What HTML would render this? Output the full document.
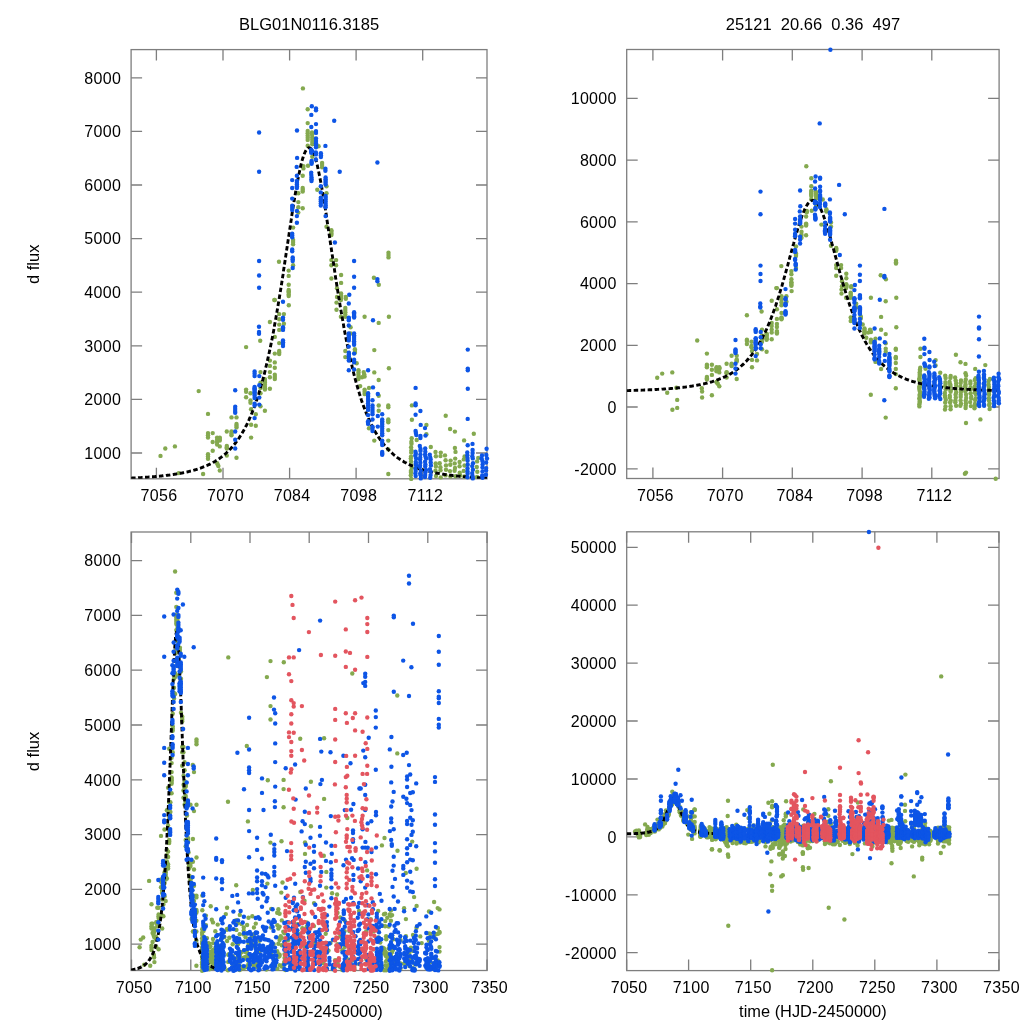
<!DOCTYPE html><html><head><meta charset="utf-8"><style>html,body{margin:0;padding:0;background:#fff;}svg{display:block;will-change:transform}circle{r:2.2px}</style></head><body>
<svg width="1024" height="1024" viewBox="0 0 1024 1024" font-family="'Liberation Sans', Arial, sans-serif">
<rect width="1024" height="1024" fill="#fff"/>
<clipPath id="c1"><rect x="131.1" y="49.6" width="355.9" height="429.2"/></clipPath>
<clipPath id="c2"><rect x="626.7" y="49.5" width="372.4" height="429.0"/></clipPath>
<clipPath id="c3"><rect x="131.1" y="532.0" width="356.0" height="438.5"/></clipPath>
<clipPath id="c4"><rect x="626.7" y="531.8" width="372.29999999999995" height="438.80000000000007"/></clipPath>
<path d="M156.4 478.8V467.8M156.4 49.6V60.6M223 478.8V467.8M223 49.6V60.6M289.6 478.8V467.8M289.6 49.6V60.6M356.1 478.8V467.8M356.1 49.6V60.6M422.7 478.8V467.8M422.7 49.6V60.6M131.1 453H142.1M487 453H476M131.1 399.4H142.1M487 399.4H476M131.1 345.8H142.1M487 345.8H476M131.1 292.2H142.1M487 292.2H476M131.1 238.6H142.1M487 238.6H476M131.1 185H142.1M487 185H476M131.1 131.4H142.1M487 131.4H476M131.1 77.8H142.1M487 77.8H476" stroke="#7e7e7e" stroke-width="1.3" fill="none"/>
<rect x="131.1" y="49.6" width="355.9" height="429.2" fill="none" stroke="#7e7e7e" stroke-width="1.3"/>
<g fill="#84a94f"><circle cx="307.7" cy="109.2"/><circle cx="307.7" cy="123.1"/><circle cx="307.7" cy="130.9"/><circle cx="307.7" cy="135.6"/><circle cx="307.7" cy="139.9"/><circle cx="307.7" cy="145.8"/><circle cx="312.0" cy="132.5"/><circle cx="312.3" cy="137.2"/><circle cx="312.3" cy="144.2"/><circle cx="318.6" cy="146.2"/><circle cx="312.3" cy="156.7"/><circle cx="322.1" cy="163.0"/><circle cx="322.1" cy="167.3"/><circle cx="308.0" cy="165.7"/><circle cx="303.4" cy="166.1"/><circle cx="303.4" cy="168.4"/><circle cx="411.9" cy="405.4"/><circle cx="411.9" cy="419.8"/><circle cx="426.4" cy="425.0"/><circle cx="426.4" cy="434.3"/><circle cx="416.7" cy="440.0"/><circle cx="445.7" cy="415.8"/><circle cx="450.1" cy="429.0"/><circle cx="454.9" cy="431.6"/><circle cx="473.8" cy="433.8"/><circle cx="464.1" cy="440.4"/><circle cx="430.8" cy="447.0"/><circle cx="478.2" cy="458.0"/><circle cx="454.9" cy="447.9"/><circle cx="302.9" cy="88.4"/><circle cx="298.3" cy="193.3"/><circle cx="298.3" cy="202.1"/><circle cx="298.3" cy="207.3"/><circle cx="298.3" cy="212.6"/><circle cx="302.7" cy="188.0"/><circle cx="302.7" cy="191.5"/><circle cx="302.7" cy="208.2"/><circle cx="302.7" cy="175.7"/><circle cx="293.1" cy="227.6"/><circle cx="293.1" cy="239.9"/><circle cx="293.1" cy="244.3"/><circle cx="293.1" cy="265.3"/><circle cx="279.0" cy="261.8"/><circle cx="288.7" cy="270.6"/><circle cx="288.7" cy="275.9"/><circle cx="288.7" cy="284.7"/><circle cx="288.7" cy="290.0"/><circle cx="288.7" cy="292.6"/><circle cx="288.7" cy="296.1"/><circle cx="274.3" cy="300.0"/><circle cx="317.3" cy="189.8"/><circle cx="326.5" cy="186.2"/><circle cx="326.5" cy="193.3"/><circle cx="326.5" cy="226.7"/><circle cx="331.4" cy="230.2"/><circle cx="331.4" cy="235.1"/><circle cx="331.4" cy="260.1"/><circle cx="336.1" cy="260.1"/><circle cx="331.4" cy="265.3"/><circle cx="336.1" cy="265.3"/><circle cx="331.4" cy="278.5"/><circle cx="341.1" cy="275.0"/><circle cx="341.1" cy="282.9"/><circle cx="341.1" cy="293.5"/><circle cx="341.1" cy="297.0"/><circle cx="337.0" cy="288.2"/><circle cx="337.0" cy="297.0"/><circle cx="345.8" cy="297.0"/><circle cx="345.8" cy="298.7"/><circle cx="373.9" cy="277.7"/><circle cx="378.8" cy="284.7"/><circle cx="388.5" cy="252.7"/><circle cx="388.5" cy="257.4"/><circle cx="160.5" cy="455.9"/><circle cx="165.3" cy="448.5"/><circle cx="174.9" cy="446.4"/><circle cx="198.7" cy="391.1"/><circle cx="208.0" cy="413.9"/><circle cx="203.1" cy="474.0"/><circle cx="178.8" cy="473.1"/><circle cx="208.0" cy="433.1"/><circle cx="212.7" cy="433.1"/><circle cx="208.0" cy="437.6"/><circle cx="212.7" cy="442.0"/><circle cx="208.0" cy="454.3"/><circle cx="208.0" cy="458.7"/><circle cx="212.7" cy="450.8"/><circle cx="217.1" cy="437.6"/><circle cx="219.8" cy="437.6"/><circle cx="217.1" cy="442.0"/><circle cx="219.8" cy="440.6"/><circle cx="217.1" cy="444.5"/><circle cx="219.8" cy="446.4"/><circle cx="217.1" cy="463.1"/><circle cx="218.4" cy="466.1"/><circle cx="219.8" cy="470.5"/><circle cx="226.8" cy="431.5"/><circle cx="226.8" cy="445.9"/><circle cx="226.8" cy="448.5"/><circle cx="226.8" cy="455.6"/><circle cx="231.5" cy="417.4"/><circle cx="236.5" cy="417.4"/><circle cx="231.5" cy="431.5"/><circle cx="231.5" cy="435.3"/><circle cx="236.5" cy="423.9"/><circle cx="236.5" cy="427.4"/><circle cx="236.5" cy="457.8"/><circle cx="246.1" cy="347.1"/><circle cx="246.1" cy="389.6"/><circle cx="246.1" cy="391.8"/><circle cx="246.1" cy="397.2"/><circle cx="250.5" cy="393.2"/><circle cx="250.5" cy="400.5"/><circle cx="250.5" cy="402.8"/><circle cx="251.1" cy="424.8"/><circle cx="251.1" cy="437.6"/><circle cx="255.8" cy="425.7"/><circle cx="255.8" cy="414.3"/><circle cx="251.1" cy="409.3"/><circle cx="260.5" cy="372.1"/><circle cx="260.5" cy="382.6"/><circle cx="260.5" cy="387.9"/><circle cx="260.5" cy="393.2"/><circle cx="260.5" cy="406.3"/><circle cx="264.9" cy="410.7"/><circle cx="264.9" cy="387.0"/><circle cx="264.9" cy="389.6"/><circle cx="264.9" cy="382.6"/><circle cx="264.9" cy="379.1"/><circle cx="269.9" cy="388.8"/><circle cx="260.2" cy="340.8"/><circle cx="269.9" cy="322.0"/><circle cx="269.9" cy="360.6"/><circle cx="269.9" cy="365.9"/><circle cx="269.9" cy="372.1"/><circle cx="269.9" cy="377.3"/><circle cx="274.8" cy="336.9"/><circle cx="274.8" cy="353.6"/><circle cx="274.8" cy="362.4"/><circle cx="274.8" cy="367.7"/><circle cx="274.8" cy="374.7"/><circle cx="274.8" cy="379.1"/><circle cx="279.2" cy="351.0"/><circle cx="279.2" cy="354.1"/><circle cx="279.2" cy="343.1"/><circle cx="279.2" cy="314.1"/><circle cx="279.2" cy="319.3"/><circle cx="279.2" cy="324.6"/><circle cx="279.2" cy="329.9"/><circle cx="283.9" cy="314.1"/><circle cx="283.9" cy="323.7"/><circle cx="288.8" cy="305.3"/><circle cx="274.8" cy="300.0"/><circle cx="336.5" cy="302.6"/><circle cx="336.5" cy="309.7"/><circle cx="340.9" cy="300.0"/><circle cx="340.9" cy="316.7"/><circle cx="345.3" cy="307.9"/><circle cx="345.3" cy="312.3"/><circle cx="345.3" cy="316.7"/><circle cx="345.3" cy="351.0"/><circle cx="345.3" cy="357.1"/><circle cx="350.6" cy="327.2"/><circle cx="350.6" cy="333.4"/><circle cx="354.9" cy="349.2"/><circle cx="354.9" cy="352.7"/><circle cx="356.7" cy="363.3"/><circle cx="364.6" cy="316.7"/><circle cx="374.3" cy="350.1"/><circle cx="378.7" cy="322.9"/><circle cx="388.9" cy="316.7"/><circle cx="388.9" cy="368.2"/><circle cx="374.3" cy="372.4"/><circle cx="378.7" cy="380.0"/><circle cx="358.5" cy="370.3"/><circle cx="358.5" cy="374.7"/><circle cx="358.5" cy="379.1"/><circle cx="362.0" cy="377.3"/><circle cx="363.7" cy="372.1"/><circle cx="364.6" cy="376.5"/><circle cx="360.2" cy="386.1"/><circle cx="364.6" cy="389.6"/><circle cx="364.6" cy="394.0"/><circle cx="369.0" cy="387.9"/><circle cx="369.0" cy="428.3"/><circle cx="378.7" cy="395.8"/><circle cx="378.7" cy="405.5"/><circle cx="378.7" cy="410.7"/><circle cx="388.3" cy="405.5"/><circle cx="388.3" cy="407.2"/><circle cx="388.3" cy="419.5"/><circle cx="388.3" cy="422.2"/><circle cx="388.3" cy="430.1"/><circle cx="388.3" cy="440.6"/><circle cx="388.3" cy="449.4"/><circle cx="374.3" cy="440.6"/><circle cx="388.3" cy="474.0"/><circle cx="307.7" cy="133.3"/><circle cx="307.7" cy="137.8"/><circle cx="312.1" cy="134.8"/><circle cx="312.3" cy="139.5"/><circle cx="312.3" cy="141.9"/><circle cx="322.1" cy="165.1"/><circle cx="302.7" cy="189.8"/><circle cx="293.1" cy="242.1"/><circle cx="288.7" cy="291.3"/><circle cx="288.7" cy="294.4"/><circle cx="331.4" cy="231.8"/><circle cx="331.4" cy="233.5"/><circle cx="341.1" cy="295.2"/><circle cx="341.0" cy="298.5"/><circle cx="388.5" cy="255.1"/><circle cx="208.0" cy="435.3"/><circle cx="208.0" cy="456.5"/><circle cx="217.1" cy="439.8"/><circle cx="219.8" cy="439.1"/><circle cx="217.7" cy="464.6"/><circle cx="226.8" cy="447.2"/><circle cx="231.5" cy="433.4"/><circle cx="236.5" cy="425.7"/><circle cx="264.9" cy="388.3"/><circle cx="264.9" cy="384.8"/><circle cx="264.9" cy="380.9"/><circle cx="274.8" cy="376.9"/><circle cx="279.2" cy="352.6"/><circle cx="345.3" cy="310.1"/><circle cx="345.3" cy="314.5"/><circle cx="354.9" cy="351.0"/><circle cx="358.5" cy="372.5"/><circle cx="358.5" cy="376.9"/><circle cx="364.2" cy="374.3"/><circle cx="364.6" cy="391.8"/><circle cx="388.3" cy="420.8"/><circle cx="411.2" cy="478.9"/><circle cx="410.8" cy="475.3"/><circle cx="411.0" cy="472.6"/><circle cx="410.9" cy="470.9"/><circle cx="411.7" cy="467.7"/><circle cx="411.4" cy="465.1"/><circle cx="411.1" cy="461.4"/><circle cx="410.8" cy="458.6"/><circle cx="411.0" cy="456.6"/><circle cx="411.2" cy="452.6"/><circle cx="411.4" cy="450.3"/><circle cx="411.1" cy="447.2"/><circle cx="411.5" cy="443.7"/><circle cx="411.4" cy="441.7"/><circle cx="411.7" cy="438.3"/><circle cx="436.0" cy="476.0"/><circle cx="435.5" cy="470.7"/><circle cx="435.9" cy="466.5"/><circle cx="435.7" cy="463.4"/><circle cx="435.9" cy="456.3"/><circle cx="435.5" cy="452.0"/><circle cx="440.7" cy="477.4"/><circle cx="440.5" cy="470.3"/><circle cx="440.4" cy="467.3"/><circle cx="439.7" cy="463.2"/><circle cx="440.5" cy="456.1"/><circle cx="440.8" cy="452.6"/><circle cx="445.5" cy="475.4"/><circle cx="446.0" cy="469.8"/><circle cx="446.0" cy="465.4"/><circle cx="445.6" cy="460.3"/><circle cx="445.0" cy="455.4"/><circle cx="450.4" cy="476.4"/><circle cx="450.0" cy="471.1"/><circle cx="450.3" cy="464.8"/><circle cx="450.6" cy="460.6"/><circle cx="455.5" cy="476.2"/><circle cx="454.6" cy="470.7"/><circle cx="455.0" cy="468.0"/><circle cx="454.7" cy="463.4"/><circle cx="455.2" cy="458.6"/><circle cx="455.5" cy="451.9"/><circle cx="460.2" cy="475.5"/><circle cx="459.7" cy="472.8"/><circle cx="459.6" cy="466.3"/><circle cx="459.6" cy="462.0"/><circle cx="464.4" cy="476.5"/><circle cx="463.7" cy="470.9"/><circle cx="464.5" cy="465.5"/><circle cx="463.8" cy="459.4"/><circle cx="464.6" cy="456.5"/><circle cx="477.1" cy="476.9"/><circle cx="477.3" cy="471.7"/><circle cx="476.8" cy="467.0"/><circle cx="477.1" cy="461.4"/></g>
<path clip-path="url(#c1)" d="M131.1 478.1L131.7 478.1L132.3 478.0L132.9 478.0L133.5 478.0L134.1 478.0L134.7 477.9L135.3 477.9L135.8 477.9L136.4 477.8L137.0 477.8L137.6 477.8L138.2 477.7L138.8 477.7L139.4 477.7L140.0 477.6L140.6 477.6L141.2 477.6L141.8 477.5L142.4 477.5L143.0 477.5L143.6 477.4L144.1 477.4L144.7 477.3L145.3 477.3L145.9 477.3L146.5 477.2L147.1 477.2L147.7 477.1L148.3 477.1L148.9 477.0L149.5 477.0L150.1 477.0L150.7 476.9L151.3 476.9L151.9 476.8L152.5 476.8L153.0 476.7L153.6 476.7L154.2 476.6L154.8 476.6L155.4 476.5L156.0 476.5L156.6 476.4L157.2 476.4L157.8 476.3L158.4 476.2L159.0 476.2L159.6 476.1L160.2 476.1L160.8 476.0L161.4 476.0L161.9 475.9L162.5 475.8L163.1 475.8L163.7 475.7L164.3 475.6L164.9 475.6L165.5 475.5L166.1 475.4L166.7 475.4L167.3 475.3L167.9 475.2L168.5 475.1L169.1 475.1L169.7 475.0L170.2 474.9L170.8 474.8L171.4 474.7L172.0 474.6L172.6 474.6L173.2 474.5L173.8 474.4L174.4 474.3L175.0 474.2L175.6 474.1L176.2 474.0L176.8 473.9L177.4 473.8L178.0 473.7L178.6 473.6L179.1 473.5L179.7 473.4L180.3 473.3L180.9 473.2L181.5 473.1L182.1 473.0L182.7 472.9L183.3 472.7L183.9 472.6L184.5 472.5L185.1 472.4L185.7 472.2L186.3 472.1L186.9 472.0L187.5 471.8L188.0 471.7L188.6 471.6L189.2 471.4L189.8 471.3L190.4 471.1L191.0 471.0L191.6 470.8L192.2 470.7L192.8 470.5L193.4 470.3L194.0 470.2L194.6 470.0L195.2 469.8L195.8 469.6L196.3 469.5L196.9 469.3L197.5 469.1L198.1 468.9L198.7 468.7L199.3 468.5L199.9 468.3L200.5 468.1L201.1 467.9L201.7 467.7L202.3 467.4L202.9 467.2L203.5 467.0L204.1 466.7L204.7 466.5L205.2 466.3L205.8 466.0L206.4 465.7L207.0 465.5L207.6 465.2L208.2 464.9L208.8 464.7L209.4 464.4L210.0 464.1L210.6 463.8L211.2 463.5L211.8 463.2L212.4 462.9L213.0 462.5L213.6 462.2L214.1 461.9L214.7 461.5L215.3 461.2L215.9 460.8L216.5 460.4L217.1 460.1L217.7 459.7L218.3 459.3L218.9 458.9L219.5 458.5L220.1 458.0L220.7 457.6L221.3 457.2L221.9 456.7L222.4 456.3L223.0 455.8L223.6 455.3L224.2 454.8L224.8 454.3L225.4 453.8L226.0 453.3L226.6 452.7L227.2 452.2L227.8 451.6L228.4 451.0L229.0 450.5L229.6 449.8L230.2 449.2L230.8 448.6L231.3 448.0L231.9 447.3L232.5 446.6L233.1 445.9L233.7 445.2L234.3 444.5L234.9 443.7L235.5 443.0L236.1 442.2L236.7 441.4L237.3 440.6L237.9 439.8L238.5 438.9L239.1 438.0L239.6 437.1L240.2 436.2L240.8 435.3L241.4 434.3L242.0 433.3L242.6 432.3L243.2 431.3L243.8 430.2L244.4 429.2L245.0 428.1L245.6 426.9L246.2 425.8L246.8 424.6L247.4 423.4L248.0 422.1L248.5 420.9L249.1 419.6L249.7 418.2L250.3 416.9L250.9 415.5L251.5 414.0L252.1 412.6L252.7 411.1L253.3 409.5L253.9 408.0L254.5 406.4L255.1 404.7L255.7 403.1L256.3 401.3L256.9 399.6L257.4 397.8L258.0 395.9L258.6 394.1L259.2 392.1L259.8 390.2L260.4 388.2L261.0 386.1L261.6 384.0L262.2 381.8L262.8 379.7L263.4 377.4L264.0 375.1L264.6 372.8L265.2 370.4L265.7 367.9L266.3 365.5L266.9 362.9L267.5 360.3L268.1 357.7L268.7 355.0L269.3 352.2L269.9 349.4L270.5 346.6L271.1 343.6L271.7 340.7L272.3 337.7L272.9 334.6L273.5 331.5L274.1 328.3L274.6 325.1L275.2 321.8L275.8 318.4L276.4 315.0L277.0 311.6L277.6 308.1L278.2 304.6L278.8 301.0L279.4 297.4L280.0 293.7L280.6 290.0L281.2 286.2L281.8 282.4L282.4 278.6L283.0 274.8L283.5 270.9L284.1 267.0L284.7 263.0L285.3 259.1L285.9 255.1L286.5 251.1L287.1 247.1L287.7 243.1L288.3 239.1L288.9 235.1L289.5 231.1L290.1 227.2L290.7 223.2L291.3 219.3L291.8 215.4L292.4 211.6L293.0 207.8L293.6 204.1L294.2 200.4L294.8 196.8L295.4 193.3L296.0 189.8L296.6 186.4L297.2 183.2L297.8 180.0L298.4 176.9L299.0 174.0L299.6 171.2L300.2 168.5L300.7 165.9L301.3 163.5L301.9 161.3L302.5 159.2L303.1 157.3L303.7 155.5L304.3 153.9L304.9 152.5L305.5 151.2L306.1 150.2L306.7 149.3L307.3 148.6L307.9 148.1L308.5 147.8L309.0 147.7L309.6 147.8L310.2 148.1L310.8 148.5L311.4 149.2L312.0 150.1L312.6 151.1L313.2 152.3L313.8 153.7L314.4 155.3L315.0 157.1L315.6 159.0L316.2 161.1L316.8 163.3L317.4 165.7L317.9 168.2L318.5 170.9L319.1 173.7L319.7 176.6L320.3 179.7L320.9 182.8L321.5 186.1L322.1 189.4L322.7 192.9L323.3 196.4L323.9 200.0L324.5 203.7L325.1 207.4L325.7 211.2L326.3 215.0L326.8 218.9L327.4 222.8L328.0 226.8L328.6 230.7L329.2 234.7L329.8 238.7L330.4 242.7L331.0 246.7L331.6 250.7L332.2 254.7L332.8 258.6L333.4 262.6L334.0 266.5L334.6 270.5L335.1 274.4L335.7 278.2L336.3 282.0L336.9 285.8L337.5 289.6L338.1 293.3L338.7 297.0L339.3 300.6L339.9 304.2L340.5 307.8L341.1 311.2L341.7 314.7L342.3 318.1L342.9 321.4L343.5 324.7L344.0 328.0L344.6 331.1L345.2 334.3L345.8 337.3L346.4 340.4L347.0 343.3L347.6 346.3L348.2 349.1L348.8 351.9L349.4 354.7L350.0 357.4L350.6 360.1L351.2 362.6L351.8 365.2L352.4 367.7L352.9 370.1L353.5 372.5L354.1 374.9L354.7 377.2L355.3 379.4L355.9 381.6L356.5 383.8L357.1 385.9L357.7 387.9L358.3 390.0L358.9 391.9L359.5 393.9L360.1 395.7L360.7 397.6L361.2 399.4L361.8 401.2L362.4 402.9L363.0 404.6L363.6 406.2L364.2 407.8L364.8 409.4L365.4 410.9L366.0 412.4L366.6 413.9L367.2 415.3L367.8 416.7L368.4 418.1L369.0 419.4L369.6 420.7L370.1 422.0L370.7 423.2L371.3 424.5L371.9 425.7L372.5 426.8L373.1 427.9L373.7 429.1L374.3 430.1L374.9 431.2L375.5 432.2L376.1 433.2L376.7 434.2L377.3 435.2L377.9 436.1L378.5 437.0L379.0 437.9L379.6 438.8L380.2 439.7L380.8 440.5L381.4 441.3L382.0 442.1L382.6 442.9L383.2 443.7L383.8 444.4L384.4 445.1L385.0 445.8L385.6 446.5L386.2 447.2L386.8 447.9L387.3 448.5L387.9 449.2L388.5 449.8L389.1 450.4L389.7 451.0L390.3 451.6L390.9 452.1L391.5 452.7L392.1 453.2L392.7 453.7L393.3 454.3L393.9 454.8L394.5 455.3L395.1 455.7L395.7 456.2L396.2 456.7L396.8 457.1L397.4 457.6L398.0 458.0L398.6 458.4L399.2 458.8L399.8 459.2L400.4 459.6L401.0 460.0L401.6 460.4L402.2 460.8L402.8 461.1L403.4 461.5L404.0 461.8L404.5 462.2L405.1 462.5L405.7 462.8L406.3 463.1L406.9 463.5L407.5 463.8L408.1 464.1L408.7 464.3L409.3 464.6L409.9 464.9L410.5 465.2L411.1 465.5L411.7 465.7L412.3 466.0L412.9 466.2L413.4 466.5L414.0 466.7L414.6 467.0L415.2 467.2L415.8 467.4L416.4 467.6L417.0 467.8L417.6 468.1L418.2 468.3L418.8 468.5L419.4 468.7L420.0 468.9L420.6 469.1L421.2 469.3L421.8 469.4L422.3 469.6L422.9 469.8L423.5 470.0L424.1 470.1L424.7 470.3L425.3 470.5L425.9 470.6L426.5 470.8L427.1 471.0L427.7 471.1L428.3 471.3L428.9 471.4L429.5 471.5L430.1 471.7L430.6 471.8L431.2 472.0L431.8 472.1L432.4 472.2L433.0 472.4L433.6 472.5L434.2 472.6L434.8 472.7L435.4 472.8L436.0 473.0L436.6 473.1L437.2 473.2L437.8 473.3L438.4 473.4L439.0 473.5L439.5 473.6L440.1 473.7L440.7 473.8L441.3 473.9L441.9 474.0L442.5 474.1L443.1 474.2L443.7 474.3L444.3 474.4L444.9 474.5L445.5 474.6L446.1 474.6L446.7 474.7L447.3 474.8L447.9 474.9L448.4 475.0L449.0 475.0L449.6 475.1L450.2 475.2L450.8 475.3L451.4 475.3L452.0 475.4L452.6 475.5L453.2 475.6L453.8 475.6L454.4 475.7L455.0 475.8L455.6 475.8L456.2 475.9L456.7 475.9L457.3 476.0L457.9 476.1L458.5 476.1L459.1 476.2L459.7 476.2L460.3 476.3L460.9 476.4L461.5 476.4L462.1 476.5L462.7 476.5L463.3 476.6L463.9 476.6L464.5 476.7L465.1 476.7L465.6 476.8L466.2 476.8L466.8 476.9L467.4 476.9L468.0 477.0L468.6 477.0L469.2 477.0L469.8 477.1L470.4 477.1L471.0 477.2L471.6 477.2L472.2 477.3L472.8 477.3L473.4 477.3L474.0 477.4L474.5 477.4L475.1 477.4L475.7 477.5L476.3 477.5L476.9 477.6L477.5 477.6L478.1 477.6L478.7 477.7L479.3 477.7L479.9 477.7L480.5 477.8L481.1 477.8L481.7 477.8L482.3 477.9L482.8 477.9L483.4 477.9L484.0 477.9L484.6 478.0L485.2 478.0L485.8 478.0L486.4 478.1L487.0 478.1" stroke="#000" stroke-width="2.9" stroke-dasharray="4.5 2.5" fill="none"/>
<g fill="#0d55e6"><circle cx="311.8" cy="106.2"/><circle cx="316.0" cy="108.4"/><circle cx="316.0" cy="110.2"/><circle cx="311.3" cy="114.9"/><circle cx="316.0" cy="124.1"/><circle cx="311.3" cy="127.0"/><circle cx="316.0" cy="131.1"/><circle cx="316.0" cy="132.9"/><circle cx="316.0" cy="138.5"/><circle cx="316.0" cy="143.3"/><circle cx="316.0" cy="147.2"/><circle cx="297.0" cy="130.5"/><circle cx="325.4" cy="145.9"/><circle cx="334.2" cy="120.8"/><circle cx="311.2" cy="149.7"/><circle cx="311.2" cy="152.8"/><circle cx="312.3" cy="151.2"/><circle cx="315.9" cy="152.4"/><circle cx="315.9" cy="154.4"/><circle cx="320.9" cy="153.2"/><circle cx="320.9" cy="157.1"/><circle cx="315.9" cy="159.5"/><circle cx="311.6" cy="161.0"/><circle cx="311.6" cy="163.8"/><circle cx="297.1" cy="157.9"/><circle cx="296.7" cy="166.9"/><circle cx="311.2" cy="172.7"/><circle cx="325.4" cy="168.8"/><circle cx="325.4" cy="170.8"/><circle cx="415.6" cy="403.5"/><circle cx="415.6" cy="405.3"/><circle cx="420.4" cy="411.0"/><circle cx="415.6" cy="414.8"/><circle cx="420.7" cy="424.9"/><circle cx="425.0" cy="428.1"/><circle cx="415.6" cy="430.9"/><circle cx="416.3" cy="435.1"/><circle cx="420.4" cy="436.0"/><circle cx="420.4" cy="438.0"/><circle cx="425.5" cy="435.6"/><circle cx="467.7" cy="418.9"/><circle cx="467.7" cy="445.3"/><circle cx="472.5" cy="443.9"/><circle cx="486.6" cy="448.8"/><circle cx="259.1" cy="132.5"/><circle cx="259.1" cy="171.8"/><circle cx="259.1" cy="261.0"/><circle cx="259.1" cy="275.5"/><circle cx="259.1" cy="287.7"/><circle cx="296.9" cy="175.7"/><circle cx="296.9" cy="181.0"/><circle cx="296.9" cy="184.5"/><circle cx="296.9" cy="188.0"/><circle cx="292.2" cy="180.1"/><circle cx="292.2" cy="188.0"/><circle cx="292.2" cy="198.6"/><circle cx="292.2" cy="205.6"/><circle cx="292.2" cy="210.0"/><circle cx="296.9" cy="210.9"/><circle cx="296.9" cy="216.1"/><circle cx="296.9" cy="222.8"/><circle cx="292.2" cy="233.7"/><circle cx="292.2" cy="237.2"/><circle cx="292.2" cy="249.5"/><circle cx="292.2" cy="251.3"/><circle cx="292.7" cy="257.4"/><circle cx="292.7" cy="261.0"/><circle cx="292.7" cy="268.0"/><circle cx="311.5" cy="177.5"/><circle cx="311.5" cy="181.0"/><circle cx="325.6" cy="177.5"/><circle cx="325.6" cy="181.0"/><circle cx="325.6" cy="184.5"/><circle cx="320.8" cy="186.2"/><circle cx="320.8" cy="192.4"/><circle cx="320.8" cy="197.7"/><circle cx="320.8" cy="201.2"/><circle cx="320.8" cy="205.6"/><circle cx="325.6" cy="195.9"/><circle cx="325.6" cy="199.4"/><circle cx="325.6" cy="203.8"/><circle cx="325.6" cy="207.3"/><circle cx="325.6" cy="216.1"/><circle cx="339.7" cy="171.8"/><circle cx="377.4" cy="162.5"/><circle cx="334.9" cy="242.5"/><circle cx="354.1" cy="261.0"/><circle cx="354.1" cy="276.8"/><circle cx="354.1" cy="287.7"/><circle cx="349.3" cy="294.7"/><circle cx="377.4" cy="279.1"/><circle cx="377.4" cy="281.2"/><circle cx="235.2" cy="390.2"/><circle cx="235.2" cy="406.7"/><circle cx="235.2" cy="411.1"/><circle cx="235.2" cy="412.8"/><circle cx="235.2" cy="431.5"/><circle cx="235.2" cy="439.7"/><circle cx="235.2" cy="448.5"/><circle cx="254.6" cy="371.5"/><circle cx="254.6" cy="376.1"/><circle cx="254.6" cy="387.0"/><circle cx="254.6" cy="389.6"/><circle cx="254.6" cy="392.3"/><circle cx="254.6" cy="395.8"/><circle cx="254.6" cy="398.1"/><circle cx="254.6" cy="403.7"/><circle cx="254.6" cy="405.5"/><circle cx="254.6" cy="418.1"/><circle cx="259.3" cy="376.1"/><circle cx="259.3" cy="385.3"/><circle cx="259.3" cy="397.6"/><circle cx="259.3" cy="404.6"/><circle cx="259.0" cy="326.7"/><circle cx="259.0" cy="332.0"/><circle cx="259.0" cy="333.7"/><circle cx="283.0" cy="301.8"/><circle cx="283.0" cy="317.6"/><circle cx="283.0" cy="319.7"/><circle cx="283.0" cy="327.2"/><circle cx="283.0" cy="329.9"/><circle cx="283.0" cy="340.4"/><circle cx="283.0" cy="343.9"/><circle cx="283.0" cy="346.1"/><circle cx="348.8" cy="303.5"/><circle cx="348.8" cy="317.6"/><circle cx="348.8" cy="320.2"/><circle cx="348.8" cy="325.5"/><circle cx="354.1" cy="312.3"/><circle cx="354.1" cy="314.9"/><circle cx="354.1" cy="317.6"/><circle cx="348.8" cy="333.4"/><circle cx="348.8" cy="336.9"/><circle cx="348.8" cy="340.4"/><circle cx="348.8" cy="346.6"/><circle cx="348.8" cy="352.7"/><circle cx="348.8" cy="356.2"/><circle cx="348.8" cy="360.6"/><circle cx="348.8" cy="370.3"/><circle cx="354.1" cy="333.4"/><circle cx="354.1" cy="336.9"/><circle cx="354.1" cy="341.3"/><circle cx="354.1" cy="344.8"/><circle cx="354.1" cy="353.6"/><circle cx="354.1" cy="359.8"/><circle cx="354.1" cy="362.4"/><circle cx="354.1" cy="369.4"/><circle cx="373.0" cy="320.2"/><circle cx="368.1" cy="370.3"/><circle cx="368.1" cy="393.2"/><circle cx="368.1" cy="396.7"/><circle cx="368.1" cy="401.1"/><circle cx="368.1" cy="405.5"/><circle cx="368.1" cy="409.9"/><circle cx="368.1" cy="415.1"/><circle cx="368.1" cy="421.3"/><circle cx="368.1" cy="423.9"/><circle cx="372.5" cy="400.2"/><circle cx="372.5" cy="405.5"/><circle cx="372.5" cy="409.9"/><circle cx="372.5" cy="414.3"/><circle cx="372.5" cy="419.5"/><circle cx="372.5" cy="426.6"/><circle cx="372.5" cy="431.0"/><circle cx="377.8" cy="394.0"/><circle cx="377.8" cy="416.0"/><circle cx="377.8" cy="426.6"/><circle cx="373.0" cy="387.4"/><circle cx="382.2" cy="414.3"/><circle cx="382.2" cy="419.5"/><circle cx="382.2" cy="423.0"/><circle cx="382.2" cy="426.6"/><circle cx="382.2" cy="431.0"/><circle cx="382.2" cy="435.3"/><circle cx="382.2" cy="440.6"/><circle cx="382.2" cy="445.0"/><circle cx="382.2" cy="452.0"/><circle cx="382.2" cy="454.7"/><circle cx="415.6" cy="387.9"/><circle cx="467.8" cy="349.6"/><circle cx="467.8" cy="368.6"/><circle cx="467.8" cy="370.3"/><circle cx="467.8" cy="388.8"/><circle cx="316.0" cy="140.9"/><circle cx="316.0" cy="145.2"/><circle cx="311.2" cy="151.2"/><circle cx="320.9" cy="155.2"/><circle cx="311.6" cy="162.4"/><circle cx="311.3" cy="175.1"/><circle cx="415.9" cy="433.0"/><circle cx="296.9" cy="182.7"/><circle cx="296.9" cy="186.2"/><circle cx="292.2" cy="207.8"/><circle cx="292.2" cy="235.5"/><circle cx="292.7" cy="259.2"/><circle cx="311.5" cy="179.2"/><circle cx="325.6" cy="179.2"/><circle cx="325.6" cy="182.7"/><circle cx="320.8" cy="199.4"/><circle cx="320.8" cy="203.4"/><circle cx="325.6" cy="197.7"/><circle cx="325.6" cy="201.6"/><circle cx="325.6" cy="205.6"/><circle cx="235.2" cy="408.9"/><circle cx="254.6" cy="373.8"/><circle cx="254.6" cy="388.3"/><circle cx="254.6" cy="391.0"/><circle cx="254.6" cy="394.0"/><circle cx="283.0" cy="328.6"/><circle cx="283.0" cy="342.2"/><circle cx="348.8" cy="318.9"/><circle cx="354.1" cy="313.6"/><circle cx="354.1" cy="316.3"/><circle cx="348.8" cy="335.2"/><circle cx="348.8" cy="338.7"/><circle cx="348.8" cy="354.5"/><circle cx="348.8" cy="358.4"/><circle cx="354.1" cy="335.2"/><circle cx="354.1" cy="339.1"/><circle cx="354.1" cy="343.1"/><circle cx="354.1" cy="361.1"/><circle cx="368.1" cy="394.9"/><circle cx="368.1" cy="398.9"/><circle cx="368.1" cy="403.3"/><circle cx="368.1" cy="407.7"/><circle cx="368.1" cy="422.6"/><circle cx="372.5" cy="407.7"/><circle cx="372.5" cy="412.1"/><circle cx="372.5" cy="428.8"/><circle cx="382.2" cy="421.3"/><circle cx="382.2" cy="424.8"/><circle cx="382.2" cy="428.8"/><circle cx="382.2" cy="433.2"/><circle cx="382.2" cy="442.8"/><circle cx="382.2" cy="453.4"/><circle cx="415.7" cy="476.1"/><circle cx="415.4" cy="473.4"/><circle cx="415.7" cy="471.1"/><circle cx="415.5" cy="468.8"/><circle cx="416.1" cy="465.8"/><circle cx="415.8" cy="463.8"/><circle cx="415.8" cy="461.9"/><circle cx="416.1" cy="458.5"/><circle cx="415.3" cy="455.7"/><circle cx="415.8" cy="453.8"/><circle cx="415.5" cy="451.8"/><circle cx="420.8" cy="478.4"/><circle cx="420.7" cy="475.3"/><circle cx="420.2" cy="473.5"/><circle cx="420.8" cy="470.6"/><circle cx="419.9" cy="467.0"/><circle cx="420.0" cy="465.6"/><circle cx="420.3" cy="462.8"/><circle cx="420.1" cy="459.6"/><circle cx="420.2" cy="457.8"/><circle cx="420.4" cy="454.6"/><circle cx="420.5" cy="450.9"/><circle cx="420.5" cy="449.0"/><circle cx="419.8" cy="446.0"/><circle cx="425.0" cy="477.0"/><circle cx="425.2" cy="475.0"/><circle cx="425.4" cy="472.3"/><circle cx="426.0" cy="469.9"/><circle cx="425.2" cy="466.5"/><circle cx="425.4" cy="464.5"/><circle cx="425.1" cy="461.8"/><circle cx="426.1" cy="458.5"/><circle cx="425.5" cy="456.6"/><circle cx="425.1" cy="454.6"/><circle cx="425.3" cy="451.7"/><circle cx="425.2" cy="448.4"/><circle cx="430.2" cy="477.8"/><circle cx="430.6" cy="475.1"/><circle cx="430.6" cy="471.6"/><circle cx="430.0" cy="469.1"/><circle cx="430.9" cy="465.4"/><circle cx="430.7" cy="462.4"/><circle cx="430.6" cy="459.6"/><circle cx="430.3" cy="457.8"/><circle cx="429.8" cy="454.7"/><circle cx="467.5" cy="477.3"/><circle cx="467.6" cy="473.7"/><circle cx="467.5" cy="471.4"/><circle cx="467.5" cy="468.4"/><circle cx="467.7" cy="464.7"/><circle cx="467.6" cy="460.8"/><circle cx="467.5" cy="458.1"/><circle cx="467.3" cy="455.3"/><circle cx="467.3" cy="452.4"/><circle cx="472.8" cy="478.4"/><circle cx="472.5" cy="475.7"/><circle cx="472.2" cy="473.1"/><circle cx="472.9" cy="469.8"/><circle cx="472.2" cy="466.1"/><circle cx="473.0" cy="463.2"/><circle cx="472.8" cy="458.4"/><circle cx="472.3" cy="456.3"/><circle cx="472.6" cy="453.0"/><circle cx="472.6" cy="450.0"/><circle cx="482.5" cy="477.7"/><circle cx="482.2" cy="475.5"/><circle cx="482.5" cy="471.4"/><circle cx="482.5" cy="467.5"/><circle cx="482.6" cy="464.6"/><circle cx="482.4" cy="461.0"/><circle cx="481.6" cy="458.6"/><circle cx="482.0" cy="455.4"/><circle cx="485.9" cy="474.7"/><circle cx="486.1" cy="470.5"/><circle cx="486.2" cy="468.1"/><circle cx="486.1" cy="462.5"/><circle cx="487.0" cy="458.5"/><circle cx="486.3" cy="455.0"/></g>
<text x="159" y="501.1" font-size="16" letter-spacing="0.3" text-anchor="middle">7056</text>
<text x="225.5" y="501.1" font-size="16" letter-spacing="0.3" text-anchor="middle">7070</text>
<text x="292.1" y="501.1" font-size="16" letter-spacing="0.3" text-anchor="middle">7084</text>
<text x="358.7" y="501.1" font-size="16" letter-spacing="0.3" text-anchor="middle">7098</text>
<text x="425.3" y="501.1" font-size="16" letter-spacing="0.3" text-anchor="middle">7112</text>
<text x="121.1" y="458.8" font-size="16" letter-spacing="0.3" text-anchor="end">1000</text>
<text x="121.1" y="405.2" font-size="16" letter-spacing="0.3" text-anchor="end">2000</text>
<text x="121.1" y="351.6" font-size="16" letter-spacing="0.3" text-anchor="end">3000</text>
<text x="121.1" y="298" font-size="16" letter-spacing="0.3" text-anchor="end">4000</text>
<text x="121.1" y="244.4" font-size="16" letter-spacing="0.3" text-anchor="end">5000</text>
<text x="121.1" y="190.8" font-size="16" letter-spacing="0.3" text-anchor="end">6000</text>
<text x="121.1" y="137.2" font-size="16" letter-spacing="0.3" text-anchor="end">7000</text>
<text x="121.1" y="83.6" font-size="16" letter-spacing="0.3" text-anchor="end">8000</text>
<path d="M652.9 478.5V467.5M652.9 49.5V60.5M722.6 478.5V467.5M722.6 49.5V60.5M792.3 478.5V467.5M792.3 49.5V60.5M862.1 478.5V467.5M862.1 49.5V60.5M931.8 478.5V467.5M931.8 49.5V60.5M626.7 468.8H637.7M999.1 468.8H988.1M626.7 407H637.7M999.1 407H988.1M626.7 345.3H637.7M999.1 345.3H988.1M626.7 283.6H637.7M999.1 283.6H988.1M626.7 221.8H637.7M999.1 221.8H988.1M626.7 160.1H637.7M999.1 160.1H988.1M626.7 98.4H637.7M999.1 98.4H988.1" stroke="#7e7e7e" stroke-width="1.3" fill="none"/>
<rect x="626.7" y="49.5" width="372.4" height="429" fill="none" stroke="#7e7e7e" stroke-width="1.3"/>
<g fill="#84a94f"><circle cx="811.3" cy="178.2"/><circle cx="811.3" cy="186.2"/><circle cx="811.3" cy="190.7"/><circle cx="811.3" cy="193.4"/><circle cx="811.3" cy="195.9"/><circle cx="811.3" cy="199.3"/><circle cx="815.8" cy="191.6"/><circle cx="816.2" cy="194.3"/><circle cx="816.2" cy="198.4"/><circle cx="822.8" cy="199.5"/><circle cx="816.2" cy="205.6"/><circle cx="826.4" cy="209.2"/><circle cx="826.4" cy="211.6"/><circle cx="811.7" cy="210.7"/><circle cx="806.8" cy="211.0"/><circle cx="806.8" cy="212.3"/><circle cx="920.4" cy="348.8"/><circle cx="920.4" cy="357.0"/><circle cx="935.6" cy="360.1"/><circle cx="935.6" cy="365.4"/><circle cx="925.5" cy="368.7"/><circle cx="955.9" cy="354.8"/><circle cx="960.5" cy="362.3"/><circle cx="965.5" cy="363.9"/><circle cx="985.3" cy="365.1"/><circle cx="975.2" cy="368.9"/><circle cx="940.2" cy="372.7"/><circle cx="989.9" cy="379.0"/><circle cx="965.5" cy="373.2"/><circle cx="806.3" cy="166.2"/><circle cx="801.5" cy="226.6"/><circle cx="801.5" cy="231.7"/><circle cx="801.5" cy="234.7"/><circle cx="801.5" cy="237.7"/><circle cx="806.1" cy="223.6"/><circle cx="806.1" cy="225.6"/><circle cx="806.1" cy="235.2"/><circle cx="806.1" cy="216.5"/><circle cx="796.0" cy="246.4"/><circle cx="796.0" cy="253.4"/><circle cx="796.0" cy="256.0"/><circle cx="796.0" cy="268.1"/><circle cx="781.3" cy="266.1"/><circle cx="791.4" cy="271.1"/><circle cx="791.4" cy="274.2"/><circle cx="791.4" cy="279.2"/><circle cx="791.4" cy="282.3"/><circle cx="791.4" cy="285.8"/><circle cx="776.3" cy="288.1"/><circle cx="821.4" cy="224.6"/><circle cx="831.0" cy="222.6"/><circle cx="831.0" cy="226.6"/><circle cx="831.0" cy="245.8"/><circle cx="836.2" cy="247.9"/><circle cx="836.2" cy="250.7"/><circle cx="836.2" cy="265.1"/><circle cx="841.1" cy="265.1"/><circle cx="836.2" cy="268.1"/><circle cx="841.1" cy="268.1"/><circle cx="836.2" cy="275.7"/><circle cx="846.3" cy="273.7"/><circle cx="846.3" cy="278.2"/><circle cx="846.3" cy="284.3"/><circle cx="846.3" cy="286.3"/><circle cx="842.0" cy="281.3"/><circle cx="842.0" cy="286.3"/><circle cx="851.2" cy="286.3"/><circle cx="851.2" cy="287.3"/><circle cx="880.7" cy="275.2"/><circle cx="885.9" cy="279.2"/><circle cx="896.0" cy="260.8"/><circle cx="896.0" cy="263.6"/><circle cx="657.2" cy="377.8"/><circle cx="662.2" cy="373.6"/><circle cx="672.3" cy="372.4"/><circle cx="697.2" cy="340.5"/><circle cx="706.9" cy="353.6"/><circle cx="701.8" cy="388.3"/><circle cx="676.4" cy="387.8"/><circle cx="706.9" cy="364.7"/><circle cx="711.9" cy="364.7"/><circle cx="706.9" cy="367.3"/><circle cx="711.9" cy="369.8"/><circle cx="706.9" cy="376.9"/><circle cx="706.9" cy="379.5"/><circle cx="711.9" cy="374.9"/><circle cx="716.5" cy="367.3"/><circle cx="719.3" cy="367.3"/><circle cx="716.5" cy="369.8"/><circle cx="719.3" cy="369.0"/><circle cx="716.5" cy="371.3"/><circle cx="719.3" cy="372.4"/><circle cx="716.5" cy="382.0"/><circle cx="717.8" cy="383.7"/><circle cx="719.3" cy="386.2"/><circle cx="726.6" cy="363.8"/><circle cx="726.6" cy="372.1"/><circle cx="726.6" cy="373.6"/><circle cx="726.6" cy="377.6"/><circle cx="731.6" cy="355.7"/><circle cx="736.7" cy="355.7"/><circle cx="731.6" cy="363.8"/><circle cx="731.6" cy="366.0"/><circle cx="736.7" cy="359.4"/><circle cx="736.7" cy="361.4"/><circle cx="736.7" cy="379.0"/><circle cx="746.9" cy="315.2"/><circle cx="746.9" cy="339.7"/><circle cx="746.9" cy="340.9"/><circle cx="746.9" cy="344.0"/><circle cx="751.5" cy="341.7"/><circle cx="751.5" cy="346.0"/><circle cx="751.5" cy="347.3"/><circle cx="752.0" cy="359.9"/><circle cx="752.0" cy="367.3"/><circle cx="757.0" cy="360.4"/><circle cx="757.0" cy="353.9"/><circle cx="752.0" cy="351.0"/><circle cx="762.0" cy="329.6"/><circle cx="762.0" cy="335.6"/><circle cx="762.0" cy="338.7"/><circle cx="762.0" cy="341.7"/><circle cx="762.0" cy="349.3"/><circle cx="766.6" cy="351.8"/><circle cx="766.6" cy="338.2"/><circle cx="766.6" cy="339.7"/><circle cx="766.6" cy="335.6"/><circle cx="766.6" cy="333.6"/><circle cx="771.7" cy="339.2"/><circle cx="761.6" cy="311.5"/><circle cx="771.7" cy="300.7"/><circle cx="771.7" cy="323.0"/><circle cx="771.7" cy="326.0"/><circle cx="771.7" cy="329.6"/><circle cx="771.7" cy="332.6"/><circle cx="776.9" cy="309.3"/><circle cx="776.9" cy="318.9"/><circle cx="776.9" cy="324.0"/><circle cx="776.9" cy="327.0"/><circle cx="776.9" cy="331.1"/><circle cx="776.9" cy="333.6"/><circle cx="781.5" cy="317.4"/><circle cx="781.5" cy="319.2"/><circle cx="781.5" cy="312.9"/><circle cx="781.5" cy="296.2"/><circle cx="781.5" cy="299.2"/><circle cx="781.5" cy="302.2"/><circle cx="781.5" cy="305.3"/><circle cx="786.4" cy="296.2"/><circle cx="786.4" cy="301.7"/><circle cx="791.6" cy="291.1"/><circle cx="776.9" cy="288.1"/><circle cx="841.5" cy="289.6"/><circle cx="841.5" cy="293.6"/><circle cx="846.1" cy="288.1"/><circle cx="846.1" cy="297.7"/><circle cx="850.7" cy="292.6"/><circle cx="850.7" cy="295.1"/><circle cx="850.7" cy="297.7"/><circle cx="850.7" cy="317.4"/><circle cx="850.7" cy="321.0"/><circle cx="856.2" cy="303.8"/><circle cx="856.2" cy="307.3"/><circle cx="860.8" cy="316.4"/><circle cx="860.8" cy="318.4"/><circle cx="862.7" cy="324.5"/><circle cx="870.9" cy="297.7"/><circle cx="881.1" cy="316.9"/><circle cx="885.7" cy="301.2"/><circle cx="896.3" cy="297.7"/><circle cx="896.3" cy="327.3"/><circle cx="881.1" cy="329.8"/><circle cx="885.7" cy="334.1"/><circle cx="864.5" cy="328.5"/><circle cx="864.5" cy="331.1"/><circle cx="864.5" cy="333.6"/><circle cx="868.2" cy="332.6"/><circle cx="870.0" cy="329.6"/><circle cx="870.9" cy="332.1"/><circle cx="866.3" cy="337.7"/><circle cx="870.9" cy="339.7"/><circle cx="870.9" cy="342.2"/><circle cx="875.5" cy="338.7"/><circle cx="875.5" cy="361.9"/><circle cx="885.7" cy="343.2"/><circle cx="885.7" cy="348.8"/><circle cx="885.7" cy="351.8"/><circle cx="895.8" cy="348.8"/><circle cx="895.8" cy="349.8"/><circle cx="895.8" cy="356.9"/><circle cx="895.8" cy="358.4"/><circle cx="895.8" cy="363.0"/><circle cx="895.8" cy="369.0"/><circle cx="895.8" cy="374.1"/><circle cx="881.1" cy="369.0"/><circle cx="895.8" cy="388.3"/><circle cx="811.3" cy="192.1"/><circle cx="811.3" cy="194.7"/><circle cx="816.0" cy="193.0"/><circle cx="816.2" cy="195.7"/><circle cx="816.2" cy="197.0"/><circle cx="826.4" cy="210.4"/><circle cx="806.1" cy="224.6"/><circle cx="796.0" cy="254.7"/><circle cx="791.4" cy="283.0"/><circle cx="791.4" cy="284.8"/><circle cx="836.2" cy="248.8"/><circle cx="836.2" cy="249.8"/><circle cx="846.3" cy="285.3"/><circle cx="846.2" cy="287.2"/><circle cx="896.0" cy="262.2"/><circle cx="706.9" cy="366.0"/><circle cx="706.9" cy="378.2"/><circle cx="716.5" cy="368.6"/><circle cx="719.3" cy="368.2"/><circle cx="717.1" cy="382.8"/><circle cx="726.6" cy="372.8"/><circle cx="731.6" cy="364.9"/><circle cx="736.7" cy="360.4"/><circle cx="766.6" cy="338.9"/><circle cx="766.6" cy="336.9"/><circle cx="766.6" cy="334.6"/><circle cx="776.9" cy="332.3"/><circle cx="781.5" cy="318.3"/><circle cx="850.7" cy="293.9"/><circle cx="850.7" cy="296.4"/><circle cx="860.8" cy="317.4"/><circle cx="864.5" cy="329.8"/><circle cx="864.5" cy="332.3"/><circle cx="870.5" cy="330.8"/><circle cx="870.9" cy="340.9"/><circle cx="895.8" cy="357.6"/><circle cx="667.2" cy="392.8"/><circle cx="677.2" cy="399.9"/><circle cx="672.4" cy="409.7"/><circle cx="677.2" cy="407.9"/><circle cx="702.1" cy="391.5"/><circle cx="702.1" cy="397.5"/><circle cx="711.9" cy="395.3"/><circle cx="870.8" cy="394.8"/><circle cx="885.7" cy="417.6"/><circle cx="966.0" cy="423.0"/><circle cx="980.4" cy="419.4"/><circle cx="966.0" cy="472.6"/><circle cx="995.7" cy="478.7"/><circle cx="919.4" cy="406.4"/><circle cx="919.3" cy="404.4"/><circle cx="919.7" cy="402.8"/><circle cx="919.8" cy="401.6"/><circle cx="919.7" cy="400.0"/><circle cx="919.3" cy="398.3"/><circle cx="920.2" cy="396.2"/><circle cx="919.5" cy="394.9"/><circle cx="920.4" cy="392.7"/><circle cx="919.7" cy="391.1"/><circle cx="919.3" cy="389.0"/><circle cx="919.6" cy="387.4"/><circle cx="919.4" cy="386.5"/><circle cx="920.2" cy="384.6"/><circle cx="919.9" cy="383.1"/><circle cx="919.7" cy="381.0"/><circle cx="919.3" cy="379.4"/><circle cx="919.5" cy="378.2"/><circle cx="919.7" cy="375.9"/><circle cx="919.9" cy="374.6"/><circle cx="919.6" cy="372.8"/><circle cx="920.1" cy="370.8"/><circle cx="919.9" cy="369.7"/><circle cx="920.3" cy="367.7"/><circle cx="945.0" cy="409.5"/><circle cx="945.5" cy="406.4"/><circle cx="945.2" cy="402.5"/><circle cx="945.8" cy="399.8"/><circle cx="945.1" cy="397.1"/><circle cx="944.9" cy="395.6"/><circle cx="944.9" cy="392.9"/><circle cx="945.7" cy="389.4"/><circle cx="945.2" cy="386.3"/><circle cx="945.6" cy="383.9"/><circle cx="945.4" cy="382.1"/><circle cx="945.6" cy="378.0"/><circle cx="945.2" cy="375.6"/><circle cx="950.6" cy="409.3"/><circle cx="950.6" cy="406.3"/><circle cx="950.1" cy="402.5"/><circle cx="950.7" cy="400.7"/><circle cx="949.8" cy="397.5"/><circle cx="949.8" cy="395.7"/><circle cx="950.6" cy="391.7"/><circle cx="950.6" cy="390.2"/><circle cx="950.4" cy="386.1"/><circle cx="950.3" cy="384.4"/><circle cx="949.6" cy="382.0"/><circle cx="950.4" cy="377.9"/><circle cx="950.7" cy="375.9"/><circle cx="956.1" cy="405.7"/><circle cx="955.3" cy="402.3"/><circle cx="955.4" cy="400.4"/><circle cx="955.8" cy="397.6"/><circle cx="955.6" cy="394.8"/><circle cx="956.2" cy="392.2"/><circle cx="955.6" cy="389.0"/><circle cx="956.2" cy="385.8"/><circle cx="956.2" cy="383.3"/><circle cx="955.7" cy="380.4"/><circle cx="955.1" cy="377.5"/><circle cx="960.3" cy="405.7"/><circle cx="961.0" cy="403.7"/><circle cx="960.6" cy="400.6"/><circle cx="960.7" cy="396.9"/><circle cx="960.7" cy="394.8"/><circle cx="961.0" cy="391.7"/><circle cx="960.7" cy="389.6"/><circle cx="960.4" cy="386.6"/><circle cx="960.7" cy="383.0"/><circle cx="961.0" cy="380.5"/><circle cx="965.6" cy="408.1"/><circle cx="965.7" cy="405.8"/><circle cx="965.9" cy="403.3"/><circle cx="965.7" cy="400.6"/><circle cx="966.2" cy="397.9"/><circle cx="966.1" cy="394.8"/><circle cx="965.4" cy="391.6"/><circle cx="966.2" cy="389.5"/><circle cx="965.2" cy="386.3"/><circle cx="965.6" cy="384.8"/><circle cx="965.3" cy="382.1"/><circle cx="965.8" cy="379.4"/><circle cx="966.1" cy="375.5"/><circle cx="970.9" cy="406.1"/><circle cx="970.2" cy="402.1"/><circle cx="971.2" cy="398.6"/><circle cx="971.2" cy="396.7"/><circle cx="970.6" cy="393.3"/><circle cx="971.0" cy="389.1"/><circle cx="970.5" cy="387.6"/><circle cx="970.4" cy="383.8"/><circle cx="970.4" cy="381.4"/><circle cx="974.5" cy="408.3"/><circle cx="975.0" cy="405.8"/><circle cx="974.9" cy="403.9"/><circle cx="975.1" cy="400.0"/><circle cx="975.7" cy="398.1"/><circle cx="975.7" cy="394.1"/><circle cx="974.8" cy="392.4"/><circle cx="975.4" cy="389.7"/><circle cx="974.7" cy="386.5"/><circle cx="975.6" cy="383.4"/><circle cx="974.8" cy="379.9"/><circle cx="975.6" cy="378.2"/><circle cx="989.6" cy="409.1"/><circle cx="989.1" cy="405.1"/><circle cx="989.6" cy="403.5"/><circle cx="988.9" cy="400.6"/><circle cx="988.9" cy="398.3"/><circle cx="989.1" cy="394.7"/><circle cx="989.1" cy="392.4"/><circle cx="988.8" cy="389.9"/><circle cx="988.9" cy="387.0"/><circle cx="988.5" cy="384.2"/><circle cx="988.7" cy="381.0"/><circle cx="964.9" cy="473.8"/></g>
<path clip-path="url(#c2)" d="M626.7 390.6L627.3 390.6L627.9 390.6L628.6 390.6L629.2 390.5L629.8 390.5L630.4 390.5L631.0 390.5L631.7 390.5L632.3 390.4L632.9 390.4L633.5 390.4L634.1 390.4L634.8 390.4L635.4 390.4L636.0 390.3L636.6 390.3L637.3 390.3L637.9 390.3L638.5 390.3L639.1 390.2L639.7 390.2L640.4 390.2L641.0 390.2L641.6 390.1L642.2 390.1L642.8 390.1L643.5 390.1L644.1 390.0L644.7 390.0L645.3 390.0L645.9 390.0L646.6 389.9L647.2 389.9L647.8 389.9L648.4 389.9L649.0 389.8L649.7 389.8L650.3 389.8L650.9 389.8L651.5 389.7L652.1 389.7L652.8 389.7L653.4 389.6L654.0 389.6L654.6 389.6L655.3 389.5L655.9 389.5L656.5 389.5L657.1 389.4L657.7 389.4L658.4 389.4L659.0 389.3L659.6 389.3L660.2 389.3L660.8 389.2L661.5 389.2L662.1 389.1L662.7 389.1L663.3 389.1L663.9 389.0L664.6 389.0L665.2 388.9L665.8 388.9L666.4 388.8L667.0 388.8L667.7 388.7L668.3 388.7L668.9 388.7L669.5 388.6L670.1 388.6L670.8 388.5L671.4 388.5L672.0 388.4L672.6 388.4L673.3 388.3L673.9 388.2L674.5 388.2L675.1 388.1L675.7 388.1L676.4 388.0L677.0 388.0L677.6 387.9L678.2 387.8L678.8 387.8L679.5 387.7L680.1 387.6L680.7 387.6L681.3 387.5L681.9 387.4L682.6 387.4L683.2 387.3L683.8 387.2L684.4 387.1L685.0 387.1L685.7 387.0L686.3 386.9L686.9 386.8L687.5 386.7L688.1 386.6L688.8 386.6L689.4 386.5L690.0 386.4L690.6 386.3L691.2 386.2L691.9 386.1L692.5 386.0L693.1 385.9L693.7 385.8L694.4 385.7L695.0 385.6L695.6 385.5L696.2 385.4L696.8 385.3L697.5 385.2L698.1 385.0L698.7 384.9L699.3 384.8L699.9 384.7L700.6 384.6L701.2 384.4L701.8 384.3L702.4 384.2L703.0 384.0L703.7 383.9L704.3 383.7L704.9 383.6L705.5 383.4L706.1 383.3L706.8 383.1L707.4 383.0L708.0 382.8L708.6 382.7L709.2 382.5L709.9 382.3L710.5 382.1L711.1 382.0L711.7 381.8L712.4 381.6L713.0 381.4L713.6 381.2L714.2 381.0L714.8 380.8L715.5 380.6L716.1 380.4L716.7 380.1L717.3 379.9L717.9 379.7L718.6 379.5L719.2 379.2L719.8 379.0L720.4 378.7L721.0 378.5L721.7 378.2L722.3 377.9L722.9 377.7L723.5 377.4L724.1 377.1L724.8 376.8L725.4 376.5L726.0 376.2L726.6 375.9L727.2 375.6L727.9 375.3L728.5 374.9L729.1 374.6L729.7 374.2L730.4 373.9L731.0 373.5L731.6 373.1L732.2 372.7L732.8 372.4L733.5 371.9L734.1 371.5L734.7 371.1L735.3 370.7L735.9 370.2L736.6 369.8L737.2 369.3L737.8 368.9L738.4 368.4L739.0 367.9L739.7 367.4L740.3 366.9L740.9 366.3L741.5 365.8L742.1 365.2L742.8 364.7L743.4 364.1L744.0 363.5L744.6 362.9L745.2 362.2L745.9 361.6L746.5 360.9L747.1 360.3L747.7 359.6L748.4 358.9L749.0 358.2L749.6 357.4L750.2 356.7L750.8 355.9L751.5 355.1L752.1 354.3L752.7 353.5L753.3 352.6L753.9 351.8L754.6 350.9L755.2 350.0L755.8 349.0L756.4 348.1L757.0 347.1L757.7 346.1L758.3 345.1L758.9 344.0L759.5 343.0L760.1 341.9L760.8 340.8L761.4 339.6L762.0 338.5L762.6 337.3L763.2 336.1L763.9 334.8L764.5 333.6L765.1 332.3L765.7 330.9L766.4 329.6L767.0 328.2L767.6 326.8L768.2 325.3L768.8 323.9L769.5 322.4L770.1 320.8L770.7 319.3L771.3 317.7L771.9 316.1L772.6 314.4L773.2 312.7L773.8 311.0L774.4 309.3L775.0 307.5L775.7 305.7L776.3 303.8L776.9 302.0L777.5 300.1L778.1 298.1L778.8 296.2L779.4 294.2L780.0 292.2L780.6 290.1L781.2 288.1L781.9 286.0L782.5 283.9L783.1 281.7L783.7 279.6L784.3 277.4L785.0 275.2L785.6 272.9L786.2 270.7L786.8 268.4L787.5 266.2L788.1 263.9L788.7 261.6L789.3 259.3L789.9 257.0L790.6 254.7L791.2 252.4L791.8 250.1L792.4 247.8L793.0 245.6L793.7 243.3L794.3 241.0L794.9 238.8L795.5 236.6L796.1 234.4L796.8 232.3L797.4 230.2L798.0 228.1L798.6 226.1L799.2 224.1L799.9 222.2L800.5 220.3L801.1 218.5L801.7 216.8L802.3 215.1L803.0 213.5L803.6 212.0L804.2 210.5L804.8 209.2L805.5 207.9L806.1 206.7L806.7 205.6L807.3 204.6L807.9 203.7L808.6 202.9L809.2 202.2L809.8 201.7L810.4 201.2L811.0 200.8L811.7 200.6L812.3 200.4L812.9 200.4L813.5 200.4L814.1 200.6L814.8 200.9L815.4 201.3L816.0 201.8L816.6 202.5L817.2 203.2L817.9 204.0L818.5 205.0L819.1 206.0L819.7 207.1L820.3 208.3L821.0 209.6L821.6 211.0L822.2 212.5L822.8 214.1L823.5 215.7L824.1 217.4L824.7 219.2L825.3 221.0L825.9 222.9L826.6 224.8L827.2 226.8L827.8 228.8L828.4 230.9L829.0 233.0L829.7 235.2L830.3 237.4L830.9 239.6L831.5 241.8L832.1 244.1L832.8 246.3L833.4 248.6L834.0 250.9L834.6 253.2L835.2 255.5L835.9 257.8L836.5 260.1L837.1 262.4L837.7 264.7L838.3 267.0L839.0 269.2L839.6 271.5L840.2 273.7L840.8 275.9L841.5 278.1L842.1 280.3L842.7 282.5L843.3 284.6L843.9 286.7L844.6 288.8L845.2 290.9L845.8 292.9L846.4 294.9L847.0 296.9L847.7 298.8L848.3 300.7L848.9 302.6L849.5 304.5L850.1 306.3L850.8 308.1L851.4 309.9L852.0 311.6L852.6 313.3L853.2 315.0L853.9 316.6L854.5 318.2L855.1 319.8L855.7 321.4L856.3 322.9L857.0 324.4L857.6 325.8L858.2 327.3L858.8 328.7L859.4 330.1L860.1 331.4L860.7 332.7L861.3 334.0L861.9 335.3L862.6 336.5L863.2 337.7L863.8 338.9L864.4 340.0L865.0 341.2L865.7 342.3L866.3 343.4L866.9 344.4L867.5 345.4L868.1 346.5L868.8 347.4L869.4 348.4L870.0 349.4L870.6 350.3L871.2 351.2L871.9 352.1L872.5 352.9L873.1 353.8L873.7 354.6L874.3 355.4L875.0 356.2L875.6 356.9L876.2 357.7L876.8 358.4L877.4 359.1L878.1 359.8L878.7 360.5L879.3 361.2L879.9 361.8L880.6 362.5L881.2 363.1L881.8 363.7L882.4 364.3L883.0 364.9L883.7 365.4L884.3 366.0L884.9 366.5L885.5 367.0L886.1 367.6L886.8 368.1L887.4 368.5L888.0 369.0L888.6 369.5L889.2 370.0L889.9 370.4L890.5 370.8L891.1 371.3L891.7 371.7L892.3 372.1L893.0 372.5L893.6 372.9L894.2 373.3L894.8 373.6L895.4 374.0L896.1 374.4L896.7 374.7L897.3 375.0L897.9 375.4L898.6 375.7L899.2 376.0L899.8 376.3L900.4 376.6L901.0 376.9L901.7 377.2L902.3 377.5L902.9 377.8L903.5 378.0L904.1 378.3L904.8 378.6L905.4 378.8L906.0 379.1L906.6 379.3L907.2 379.5L907.9 379.8L908.5 380.0L909.1 380.2L909.7 380.4L910.3 380.7L911.0 380.9L911.6 381.1L912.2 381.3L912.8 381.5L913.4 381.6L914.1 381.8L914.7 382.0L915.3 382.2L915.9 382.4L916.6 382.5L917.2 382.7L917.8 382.9L918.4 383.0L919.0 383.2L919.7 383.3L920.3 383.5L920.9 383.6L921.5 383.8L922.1 383.9L922.8 384.1L923.4 384.2L924.0 384.3L924.6 384.5L925.2 384.6L925.9 384.7L926.5 384.8L927.1 385.0L927.7 385.1L928.3 385.2L929.0 385.3L929.6 385.4L930.2 385.5L930.8 385.6L931.4 385.7L932.1 385.8L932.7 385.9L933.3 386.0L933.9 386.1L934.6 386.2L935.2 386.3L935.8 386.4L936.4 386.5L937.0 386.6L937.7 386.7L938.3 386.8L938.9 386.8L939.5 386.9L940.1 387.0L940.8 387.1L941.4 387.2L942.0 387.2L942.6 387.3L943.2 387.4L943.9 387.5L944.5 387.5L945.1 387.6L945.7 387.7L946.3 387.7L947.0 387.8L947.6 387.8L948.2 387.9L948.8 388.0L949.4 388.0L950.1 388.1L950.7 388.1L951.3 388.2L951.9 388.3L952.5 388.3L953.2 388.4L953.8 388.4L954.4 388.5L955.0 388.5L955.7 388.6L956.3 388.6L956.9 388.7L957.5 388.7L958.1 388.8L958.8 388.8L959.4 388.9L960.0 388.9L960.6 388.9L961.2 389.0L961.9 389.0L962.5 389.1L963.1 389.1L963.7 389.1L964.3 389.2L965.0 389.2L965.6 389.3L966.2 389.3L966.8 389.3L967.4 389.4L968.1 389.4L968.7 389.4L969.3 389.5L969.9 389.5L970.5 389.5L971.2 389.6L971.8 389.6L972.4 389.6L973.0 389.7L973.7 389.7L974.3 389.7L974.9 389.8L975.5 389.8L976.1 389.8L976.8 389.8L977.4 389.9L978.0 389.9L978.6 389.9L979.2 390.0L979.9 390.0L980.5 390.0L981.1 390.0L981.7 390.1L982.3 390.1L983.0 390.1L983.6 390.1L984.2 390.1L984.8 390.2L985.4 390.2L986.1 390.2L986.7 390.2L987.3 390.3L987.9 390.3L988.5 390.3L989.2 390.3L989.8 390.3L990.4 390.4L991.0 390.4L991.7 390.4L992.3 390.4L992.9 390.4L993.5 390.5L994.1 390.5L994.8 390.5L995.4 390.5L996.0 390.5L996.6 390.5L997.2 390.6L997.9 390.6L998.5 390.6L999.1 390.6" stroke="#000" stroke-width="2.9" stroke-dasharray="4.5 2.5" fill="none"/>
<g fill="#0d55e6"><circle cx="815.6" cy="176.5"/><circle cx="820.1" cy="177.8"/><circle cx="820.1" cy="178.8"/><circle cx="815.1" cy="181.5"/><circle cx="820.1" cy="186.8"/><circle cx="815.1" cy="188.5"/><circle cx="820.1" cy="190.8"/><circle cx="820.1" cy="191.8"/><circle cx="820.1" cy="195.1"/><circle cx="820.1" cy="197.8"/><circle cx="820.1" cy="200.1"/><circle cx="800.1" cy="190.5"/><circle cx="829.9" cy="199.4"/><circle cx="839.1" cy="184.9"/><circle cx="815.0" cy="201.5"/><circle cx="815.0" cy="203.3"/><circle cx="816.2" cy="202.4"/><circle cx="819.9" cy="203.1"/><circle cx="819.9" cy="204.2"/><circle cx="825.2" cy="203.5"/><circle cx="825.2" cy="205.8"/><circle cx="819.9" cy="207.1"/><circle cx="815.4" cy="208.0"/><circle cx="815.4" cy="209.6"/><circle cx="800.3" cy="206.2"/><circle cx="799.8" cy="211.4"/><circle cx="815.0" cy="214.8"/><circle cx="829.9" cy="212.5"/><circle cx="829.9" cy="213.7"/><circle cx="924.4" cy="347.7"/><circle cx="924.4" cy="348.7"/><circle cx="929.4" cy="352.0"/><circle cx="924.4" cy="354.1"/><circle cx="929.6" cy="360.0"/><circle cx="934.2" cy="361.8"/><circle cx="924.4" cy="363.5"/><circle cx="925.0" cy="365.9"/><circle cx="929.4" cy="366.4"/><circle cx="929.4" cy="367.5"/><circle cx="934.7" cy="366.1"/><circle cx="978.9" cy="356.5"/><circle cx="978.9" cy="371.7"/><circle cx="983.9" cy="370.9"/><circle cx="998.6" cy="373.7"/><circle cx="760.5" cy="191.6"/><circle cx="760.5" cy="214.3"/><circle cx="760.5" cy="265.6"/><circle cx="760.5" cy="274.0"/><circle cx="760.5" cy="281.0"/><circle cx="800.1" cy="216.5"/><circle cx="800.1" cy="219.5"/><circle cx="800.1" cy="221.6"/><circle cx="800.1" cy="223.6"/><circle cx="795.1" cy="219.0"/><circle cx="795.1" cy="223.6"/><circle cx="795.1" cy="229.7"/><circle cx="795.1" cy="233.7"/><circle cx="795.1" cy="236.2"/><circle cx="800.1" cy="236.7"/><circle cx="800.1" cy="239.8"/><circle cx="800.1" cy="243.6"/><circle cx="795.1" cy="249.9"/><circle cx="795.1" cy="251.9"/><circle cx="795.1" cy="259.0"/><circle cx="795.1" cy="260.0"/><circle cx="795.7" cy="263.6"/><circle cx="795.7" cy="265.6"/><circle cx="795.7" cy="269.6"/><circle cx="815.4" cy="217.5"/><circle cx="815.4" cy="219.5"/><circle cx="830.1" cy="217.5"/><circle cx="830.1" cy="219.5"/><circle cx="830.1" cy="221.6"/><circle cx="825.1" cy="222.6"/><circle cx="825.1" cy="226.1"/><circle cx="825.1" cy="229.1"/><circle cx="825.1" cy="231.2"/><circle cx="825.1" cy="233.7"/><circle cx="830.1" cy="228.1"/><circle cx="830.1" cy="230.2"/><circle cx="830.1" cy="232.7"/><circle cx="830.1" cy="234.7"/><circle cx="830.1" cy="239.8"/><circle cx="844.8" cy="214.3"/><circle cx="884.4" cy="208.9"/><circle cx="839.8" cy="255.0"/><circle cx="859.9" cy="265.6"/><circle cx="859.9" cy="274.7"/><circle cx="859.9" cy="281.0"/><circle cx="854.9" cy="285.0"/><circle cx="884.4" cy="276.0"/><circle cx="884.4" cy="277.2"/><circle cx="735.5" cy="340.0"/><circle cx="735.5" cy="349.5"/><circle cx="735.5" cy="352.0"/><circle cx="735.5" cy="353.0"/><circle cx="735.5" cy="363.8"/><circle cx="735.5" cy="368.5"/><circle cx="735.5" cy="373.6"/><circle cx="755.7" cy="329.3"/><circle cx="755.7" cy="331.9"/><circle cx="755.7" cy="338.2"/><circle cx="755.7" cy="343.2"/><circle cx="755.7" cy="344.5"/><circle cx="755.7" cy="347.8"/><circle cx="755.7" cy="348.8"/><circle cx="755.7" cy="356.1"/><circle cx="760.7" cy="331.9"/><circle cx="760.7" cy="337.2"/><circle cx="760.7" cy="344.2"/><circle cx="760.7" cy="348.3"/><circle cx="760.3" cy="303.4"/><circle cx="760.3" cy="306.5"/><circle cx="760.3" cy="307.5"/><circle cx="785.5" cy="289.1"/><circle cx="785.5" cy="298.2"/><circle cx="785.5" cy="299.4"/><circle cx="785.5" cy="303.8"/><circle cx="785.5" cy="305.3"/><circle cx="785.5" cy="311.3"/><circle cx="785.5" cy="313.4"/><circle cx="785.5" cy="314.6"/><circle cx="854.4" cy="290.1"/><circle cx="854.4" cy="298.2"/><circle cx="854.4" cy="299.7"/><circle cx="854.4" cy="302.7"/><circle cx="859.9" cy="295.1"/><circle cx="859.9" cy="298.2"/><circle cx="854.4" cy="307.3"/><circle cx="854.4" cy="309.3"/><circle cx="854.4" cy="311.3"/><circle cx="854.4" cy="314.9"/><circle cx="854.4" cy="318.4"/><circle cx="854.4" cy="320.5"/><circle cx="854.4" cy="323.0"/><circle cx="854.4" cy="328.5"/><circle cx="859.9" cy="307.3"/><circle cx="859.9" cy="309.3"/><circle cx="859.9" cy="311.8"/><circle cx="859.9" cy="313.9"/><circle cx="859.9" cy="318.9"/><circle cx="859.9" cy="322.5"/><circle cx="859.9" cy="324.0"/><circle cx="859.9" cy="328.0"/><circle cx="879.8" cy="299.7"/><circle cx="874.6" cy="328.5"/><circle cx="874.6" cy="341.7"/><circle cx="874.6" cy="343.7"/><circle cx="874.6" cy="346.3"/><circle cx="874.6" cy="348.8"/><circle cx="874.6" cy="351.3"/><circle cx="874.6" cy="354.4"/><circle cx="874.6" cy="357.9"/><circle cx="874.6" cy="359.4"/><circle cx="879.2" cy="345.8"/><circle cx="879.2" cy="348.8"/><circle cx="879.2" cy="351.3"/><circle cx="879.2" cy="353.9"/><circle cx="879.2" cy="356.9"/><circle cx="879.2" cy="360.9"/><circle cx="879.2" cy="363.5"/><circle cx="884.8" cy="342.2"/><circle cx="884.8" cy="354.9"/><circle cx="884.8" cy="360.9"/><circle cx="879.8" cy="338.4"/><circle cx="889.4" cy="353.9"/><circle cx="889.4" cy="356.9"/><circle cx="889.4" cy="358.9"/><circle cx="889.4" cy="360.9"/><circle cx="889.4" cy="363.5"/><circle cx="889.4" cy="366.0"/><circle cx="889.4" cy="369.0"/><circle cx="889.4" cy="371.6"/><circle cx="889.4" cy="375.6"/><circle cx="889.4" cy="377.1"/><circle cx="924.3" cy="338.7"/><circle cx="979.0" cy="316.6"/><circle cx="979.0" cy="327.5"/><circle cx="979.0" cy="328.5"/><circle cx="979.0" cy="339.2"/><circle cx="820.1" cy="196.5"/><circle cx="820.1" cy="198.9"/><circle cx="815.0" cy="202.4"/><circle cx="825.2" cy="204.7"/><circle cx="815.4" cy="208.8"/><circle cx="815.2" cy="216.1"/><circle cx="924.7" cy="364.7"/><circle cx="800.1" cy="220.5"/><circle cx="800.1" cy="222.6"/><circle cx="795.1" cy="235.0"/><circle cx="795.1" cy="250.9"/><circle cx="795.7" cy="264.6"/><circle cx="815.4" cy="218.5"/><circle cx="830.1" cy="218.5"/><circle cx="830.1" cy="220.5"/><circle cx="825.1" cy="230.2"/><circle cx="825.1" cy="232.4"/><circle cx="830.1" cy="229.1"/><circle cx="830.1" cy="231.4"/><circle cx="830.1" cy="233.7"/><circle cx="735.5" cy="350.8"/><circle cx="755.7" cy="330.6"/><circle cx="755.7" cy="338.9"/><circle cx="755.7" cy="340.4"/><circle cx="755.7" cy="342.2"/><circle cx="785.5" cy="304.5"/><circle cx="785.5" cy="312.4"/><circle cx="854.4" cy="298.9"/><circle cx="859.9" cy="295.9"/><circle cx="859.9" cy="297.4"/><circle cx="854.4" cy="308.3"/><circle cx="854.4" cy="310.3"/><circle cx="854.4" cy="319.4"/><circle cx="854.4" cy="321.7"/><circle cx="859.9" cy="308.3"/><circle cx="859.9" cy="310.6"/><circle cx="859.9" cy="312.9"/><circle cx="859.9" cy="323.2"/><circle cx="874.6" cy="342.7"/><circle cx="874.6" cy="345.0"/><circle cx="874.6" cy="347.5"/><circle cx="874.6" cy="350.1"/><circle cx="874.6" cy="358.7"/><circle cx="879.2" cy="350.1"/><circle cx="879.2" cy="352.6"/><circle cx="879.2" cy="362.2"/><circle cx="889.4" cy="357.9"/><circle cx="889.4" cy="359.9"/><circle cx="889.4" cy="362.2"/><circle cx="889.4" cy="364.7"/><circle cx="889.4" cy="370.3"/><circle cx="889.4" cy="376.4"/><circle cx="884.3" cy="400.2"/><circle cx="819.7" cy="123.4"/><circle cx="830.4" cy="49.8"/><circle cx="924.1" cy="396.8"/><circle cx="923.9" cy="395.1"/><circle cx="924.6" cy="394.2"/><circle cx="924.3" cy="392.9"/><circle cx="924.5" cy="391.6"/><circle cx="924.4" cy="389.5"/><circle cx="924.1" cy="387.9"/><circle cx="924.4" cy="386.6"/><circle cx="924.3" cy="385.2"/><circle cx="924.8" cy="383.5"/><circle cx="924.5" cy="382.4"/><circle cx="924.6" cy="381.3"/><circle cx="924.9" cy="379.3"/><circle cx="924.1" cy="377.7"/><circle cx="924.5" cy="376.6"/><circle cx="924.3" cy="375.5"/><circle cx="928.8" cy="398.8"/><circle cx="929.6" cy="397.4"/><circle cx="929.0" cy="395.8"/><circle cx="929.7" cy="394.0"/><circle cx="929.2" cy="392.8"/><circle cx="929.7" cy="390.8"/><circle cx="929.7" cy="389.0"/><circle cx="929.2" cy="387.9"/><circle cx="929.7" cy="386.3"/><circle cx="928.9" cy="384.2"/><circle cx="929.0" cy="383.4"/><circle cx="929.3" cy="381.8"/><circle cx="929.0" cy="379.9"/><circle cx="929.2" cy="378.9"/><circle cx="929.4" cy="377.1"/><circle cx="929.5" cy="375.0"/><circle cx="929.4" cy="373.8"/><circle cx="928.8" cy="372.1"/><circle cx="935.1" cy="398.2"/><circle cx="935.1" cy="396.8"/><circle cx="934.6" cy="395.8"/><circle cx="934.9" cy="394.6"/><circle cx="934.3" cy="393.1"/><circle cx="934.4" cy="391.5"/><circle cx="934.2" cy="390.0"/><circle cx="934.4" cy="388.8"/><circle cx="934.6" cy="387.3"/><circle cx="935.2" cy="385.9"/><circle cx="934.3" cy="383.9"/><circle cx="934.6" cy="382.8"/><circle cx="934.3" cy="381.2"/><circle cx="935.4" cy="379.3"/><circle cx="934.7" cy="378.2"/><circle cx="934.3" cy="377.1"/><circle cx="934.5" cy="375.4"/><circle cx="934.4" cy="373.5"/><circle cx="940.3" cy="399.0"/><circle cx="939.3" cy="396.8"/><circle cx="939.2" cy="395.1"/><circle cx="940.3" cy="393.5"/><circle cx="940.0" cy="391.5"/><circle cx="939.6" cy="390.5"/><circle cx="940.1" cy="388.9"/><circle cx="940.1" cy="386.9"/><circle cx="939.4" cy="385.4"/><circle cx="940.3" cy="383.3"/><circle cx="940.1" cy="381.6"/><circle cx="940.0" cy="380.0"/><circle cx="939.8" cy="378.9"/><circle cx="939.2" cy="377.1"/><circle cx="979.3" cy="406.0"/><circle cx="978.6" cy="404.8"/><circle cx="979.0" cy="402.3"/><circle cx="979.6" cy="401.2"/><circle cx="979.5" cy="398.8"/><circle cx="979.5" cy="397.6"/><circle cx="979.5" cy="395.8"/><circle cx="978.9" cy="393.6"/><circle cx="979.6" cy="391.7"/><circle cx="978.6" cy="390.2"/><circle cx="978.8" cy="388.1"/><circle cx="978.7" cy="386.7"/><circle cx="978.7" cy="385.0"/><circle cx="978.9" cy="382.9"/><circle cx="978.8" cy="380.6"/><circle cx="978.7" cy="379.1"/><circle cx="978.5" cy="377.5"/><circle cx="978.5" cy="375.8"/><circle cx="984.1" cy="405.8"/><circle cx="984.0" cy="404.5"/><circle cx="983.6" cy="401.8"/><circle cx="984.0" cy="400.1"/><circle cx="984.5" cy="398.5"/><circle cx="984.1" cy="396.8"/><circle cx="984.6" cy="394.6"/><circle cx="984.5" cy="393.1"/><circle cx="984.2" cy="390.8"/><circle cx="983.9" cy="389.2"/><circle cx="983.6" cy="387.7"/><circle cx="984.4" cy="385.8"/><circle cx="983.7" cy="383.7"/><circle cx="984.5" cy="382.0"/><circle cx="984.3" cy="379.3"/><circle cx="983.8" cy="378.0"/><circle cx="984.0" cy="376.1"/><circle cx="984.0" cy="374.4"/><circle cx="994.1" cy="406.0"/><circle cx="994.2" cy="403.8"/><circle cx="994.5" cy="402.0"/><circle cx="993.8" cy="400.4"/><circle cx="993.6" cy="397.8"/><circle cx="994.2" cy="396.2"/><circle cx="994.4" cy="395.0"/><circle cx="994.2" cy="392.1"/><circle cx="994.4" cy="390.4"/><circle cx="994.1" cy="389.1"/><circle cx="994.4" cy="386.8"/><circle cx="994.4" cy="384.5"/><circle cx="994.5" cy="382.8"/><circle cx="994.3" cy="380.8"/><circle cx="993.5" cy="379.4"/><circle cx="993.9" cy="377.6"/><circle cx="998.9" cy="403.3"/><circle cx="998.7" cy="400.4"/><circle cx="998.7" cy="398.0"/><circle cx="997.9" cy="395.9"/><circle cx="998.8" cy="393.1"/><circle cx="998.6" cy="391.2"/><circle cx="998.0" cy="388.7"/><circle cx="998.2" cy="386.2"/><circle cx="998.2" cy="384.9"/><circle cx="998.2" cy="381.6"/><circle cx="999.1" cy="379.3"/><circle cx="998.4" cy="377.3"/></g>
<text x="655.4" y="500.8" font-size="16" letter-spacing="0.3" text-anchor="middle">7056</text>
<text x="725.2" y="500.8" font-size="16" letter-spacing="0.3" text-anchor="middle">7070</text>
<text x="794.9" y="500.8" font-size="16" letter-spacing="0.3" text-anchor="middle">7084</text>
<text x="864.6" y="500.8" font-size="16" letter-spacing="0.3" text-anchor="middle">7098</text>
<text x="934.3" y="500.8" font-size="16" letter-spacing="0.3" text-anchor="middle">7112</text>
<text x="616.7" y="474.6" font-size="16" letter-spacing="0.3" text-anchor="end">-2000</text>
<text x="616.7" y="412.8" font-size="16" letter-spacing="0.3" text-anchor="end">0</text>
<text x="616.7" y="351.1" font-size="16" letter-spacing="0.3" text-anchor="end">2000</text>
<text x="616.7" y="289.4" font-size="16" letter-spacing="0.3" text-anchor="end">4000</text>
<text x="616.7" y="227.6" font-size="16" letter-spacing="0.3" text-anchor="end">6000</text>
<text x="616.7" y="165.9" font-size="16" letter-spacing="0.3" text-anchor="end">8000</text>
<text x="616.7" y="104.2" font-size="16" letter-spacing="0.3" text-anchor="end">10000</text>
<path d="M131.5 970.5V959.5M131.5 532V543M190.8 970.5V959.5M190.8 532V543M250 970.5V959.5M250 532V543M309.2 970.5V959.5M309.2 532V543M368.5 970.5V959.5M368.5 532V543M427.8 970.5V959.5M427.8 532V543M487 970.5V959.5M487 532V543M131.1 944.2H142.1M487.1 944.2H476.1M131.1 889.4H142.1M487.1 889.4H476.1M131.1 834.6H142.1M487.1 834.6H476.1M131.1 779.8H142.1M487.1 779.8H476.1M131.1 725H142.1M487.1 725H476.1M131.1 670.2H142.1M487.1 670.2H476.1M131.1 615.4H142.1M487.1 615.4H476.1M131.1 560.6H142.1M487.1 560.6H476.1" stroke="#7e7e7e" stroke-width="1.3" fill="none"/>
<rect x="131.1" y="532.0" width="356" height="438.5" fill="none" stroke="#7e7e7e" stroke-width="1.3"/>
<g fill="#84a94f"><circle cx="176.3" cy="592.7"/><circle cx="176.3" cy="606.9"/><circle cx="176.3" cy="614.9"/><circle cx="176.3" cy="619.7"/><circle cx="176.3" cy="624.1"/><circle cx="176.3" cy="630.1"/><circle cx="177.4" cy="616.5"/><circle cx="177.5" cy="621.3"/><circle cx="177.5" cy="628.5"/><circle cx="177.5" cy="641.3"/><circle cx="179.9" cy="647.7"/><circle cx="179.9" cy="652.1"/><circle cx="176.4" cy="650.5"/><circle cx="175.2" cy="650.9"/><circle cx="175.2" cy="653.3"/><circle cx="202.3" cy="895.6"/><circle cx="202.3" cy="910.2"/><circle cx="205.9" cy="915.6"/><circle cx="205.9" cy="925.1"/><circle cx="203.5" cy="930.9"/><circle cx="210.7" cy="906.2"/><circle cx="211.8" cy="919.7"/><circle cx="213.0" cy="922.4"/><circle cx="217.7" cy="924.6"/><circle cx="215.3" cy="931.3"/><circle cx="207.0" cy="938.1"/><circle cx="213.0" cy="939.0"/><circle cx="175.1" cy="571.5"/><circle cx="174.0" cy="678.7"/><circle cx="174.0" cy="687.7"/><circle cx="174.0" cy="693.0"/><circle cx="174.0" cy="698.4"/><circle cx="175.1" cy="673.3"/><circle cx="175.1" cy="676.9"/><circle cx="175.1" cy="693.9"/><circle cx="175.1" cy="660.7"/><circle cx="172.7" cy="713.7"/><circle cx="172.7" cy="726.3"/><circle cx="172.7" cy="730.8"/><circle cx="172.7" cy="752.3"/><circle cx="169.2" cy="748.8"/><circle cx="171.6" cy="757.7"/><circle cx="171.6" cy="763.1"/><circle cx="171.6" cy="772.1"/><circle cx="171.6" cy="777.5"/><circle cx="171.6" cy="780.2"/><circle cx="171.6" cy="783.8"/><circle cx="178.7" cy="675.1"/><circle cx="181.0" cy="671.5"/><circle cx="181.0" cy="678.7"/><circle cx="181.0" cy="712.8"/><circle cx="182.2" cy="716.4"/><circle cx="182.2" cy="721.4"/><circle cx="182.2" cy="747.0"/><circle cx="183.4" cy="747.0"/><circle cx="182.2" cy="752.3"/><circle cx="183.4" cy="752.3"/><circle cx="182.2" cy="765.8"/><circle cx="184.6" cy="762.2"/><circle cx="184.6" cy="770.3"/><circle cx="184.6" cy="781.1"/><circle cx="183.6" cy="775.7"/><circle cx="183.6" cy="784.7"/><circle cx="185.8" cy="784.7"/><circle cx="185.8" cy="786.5"/><circle cx="192.8" cy="764.9"/><circle cx="194.0" cy="772.1"/><circle cx="196.5" cy="739.4"/><circle cx="196.5" cy="744.3"/><circle cx="139.6" cy="947.2"/><circle cx="140.8" cy="939.6"/><circle cx="143.2" cy="937.5"/><circle cx="149.1" cy="880.9"/><circle cx="151.5" cy="904.2"/><circle cx="150.2" cy="965.7"/><circle cx="144.2" cy="964.8"/><circle cx="151.5" cy="923.8"/><circle cx="152.6" cy="923.8"/><circle cx="151.5" cy="928.5"/><circle cx="152.6" cy="933.0"/><circle cx="151.5" cy="945.6"/><circle cx="151.5" cy="950.1"/><circle cx="152.6" cy="942.0"/><circle cx="153.7" cy="928.5"/><circle cx="154.4" cy="928.5"/><circle cx="153.7" cy="933.0"/><circle cx="154.4" cy="931.5"/><circle cx="153.7" cy="935.5"/><circle cx="154.4" cy="937.5"/><circle cx="153.7" cy="954.5"/><circle cx="154.1" cy="957.6"/><circle cx="154.4" cy="962.1"/><circle cx="156.2" cy="922.2"/><circle cx="156.2" cy="936.9"/><circle cx="156.2" cy="939.6"/><circle cx="156.2" cy="946.8"/><circle cx="157.3" cy="907.8"/><circle cx="158.6" cy="907.8"/><circle cx="157.3" cy="922.2"/><circle cx="157.3" cy="926.2"/><circle cx="158.6" cy="914.5"/><circle cx="158.6" cy="918.1"/><circle cx="158.6" cy="949.2"/><circle cx="161.0" cy="835.9"/><circle cx="161.0" cy="879.4"/><circle cx="161.0" cy="881.6"/><circle cx="161.0" cy="887.2"/><circle cx="162.1" cy="883.0"/><circle cx="162.1" cy="890.6"/><circle cx="162.1" cy="892.9"/><circle cx="162.2" cy="915.4"/><circle cx="162.2" cy="928.5"/><circle cx="163.4" cy="916.3"/><circle cx="163.4" cy="904.6"/><circle cx="162.2" cy="899.6"/><circle cx="164.6" cy="861.5"/><circle cx="164.6" cy="872.2"/><circle cx="164.6" cy="883.0"/><circle cx="164.6" cy="896.5"/><circle cx="165.7" cy="901.0"/><circle cx="165.7" cy="876.7"/><circle cx="165.7" cy="879.4"/><circle cx="165.7" cy="872.2"/><circle cx="165.7" cy="868.6"/><circle cx="166.9" cy="878.5"/><circle cx="164.5" cy="829.5"/><circle cx="166.9" cy="810.2"/><circle cx="166.9" cy="849.8"/><circle cx="166.9" cy="855.2"/><circle cx="166.9" cy="861.5"/><circle cx="166.9" cy="866.8"/><circle cx="168.1" cy="825.5"/><circle cx="168.1" cy="842.6"/><circle cx="168.1" cy="851.6"/><circle cx="168.1" cy="857.0"/><circle cx="168.1" cy="864.2"/><circle cx="168.1" cy="868.6"/><circle cx="169.2" cy="839.9"/><circle cx="169.2" cy="843.1"/><circle cx="169.2" cy="831.8"/><circle cx="169.2" cy="802.2"/><circle cx="169.2" cy="807.5"/><circle cx="169.2" cy="812.9"/><circle cx="169.2" cy="818.3"/><circle cx="170.4" cy="802.2"/><circle cx="170.4" cy="812.0"/><circle cx="171.6" cy="793.2"/><circle cx="168.1" cy="787.8"/><circle cx="183.5" cy="790.5"/><circle cx="183.5" cy="797.7"/><circle cx="184.6" cy="787.8"/><circle cx="184.6" cy="804.8"/><circle cx="185.7" cy="795.9"/><circle cx="185.7" cy="800.4"/><circle cx="185.7" cy="804.8"/><circle cx="185.7" cy="839.9"/><circle cx="185.7" cy="846.2"/><circle cx="187.0" cy="815.6"/><circle cx="188.1" cy="838.1"/><circle cx="188.1" cy="841.7"/><circle cx="188.5" cy="852.5"/><circle cx="190.5" cy="804.8"/><circle cx="192.9" cy="839.0"/><circle cx="194.0" cy="811.1"/><circle cx="196.5" cy="804.8"/><circle cx="196.5" cy="857.5"/><circle cx="192.9" cy="861.8"/><circle cx="194.0" cy="869.5"/><circle cx="189.0" cy="864.2"/><circle cx="189.0" cy="868.6"/><circle cx="189.8" cy="866.8"/><circle cx="190.3" cy="861.5"/><circle cx="190.5" cy="865.9"/><circle cx="189.4" cy="875.8"/><circle cx="190.5" cy="879.4"/><circle cx="190.5" cy="883.9"/><circle cx="191.6" cy="877.6"/><circle cx="191.6" cy="919.0"/><circle cx="194.0" cy="885.7"/><circle cx="194.0" cy="895.6"/><circle cx="194.0" cy="901.0"/><circle cx="196.4" cy="895.6"/><circle cx="196.4" cy="897.4"/><circle cx="196.4" cy="910.0"/><circle cx="196.4" cy="912.7"/><circle cx="196.4" cy="920.8"/><circle cx="196.4" cy="931.5"/><circle cx="196.4" cy="940.5"/><circle cx="192.9" cy="931.5"/><circle cx="196.4" cy="965.7"/><circle cx="176.3" cy="617.3"/><circle cx="176.3" cy="621.9"/><circle cx="177.4" cy="618.9"/><circle cx="177.5" cy="623.7"/><circle cx="177.5" cy="626.1"/><circle cx="179.9" cy="649.9"/><circle cx="175.1" cy="675.1"/><circle cx="172.7" cy="728.5"/><circle cx="171.6" cy="778.9"/><circle cx="171.6" cy="782.0"/><circle cx="182.2" cy="718.1"/><circle cx="182.2" cy="719.8"/><circle cx="184.6" cy="782.9"/><circle cx="184.6" cy="786.2"/><circle cx="196.5" cy="741.8"/><circle cx="151.5" cy="926.2"/><circle cx="151.5" cy="947.8"/><circle cx="153.7" cy="930.7"/><circle cx="154.4" cy="930.0"/><circle cx="153.9" cy="956.1"/><circle cx="156.2" cy="938.3"/><circle cx="157.3" cy="924.2"/><circle cx="158.6" cy="916.3"/><circle cx="165.7" cy="878.1"/><circle cx="165.7" cy="874.5"/><circle cx="165.7" cy="870.4"/><circle cx="168.1" cy="866.4"/><circle cx="169.2" cy="841.5"/><circle cx="185.7" cy="798.1"/><circle cx="185.7" cy="802.6"/><circle cx="188.1" cy="839.9"/><circle cx="189.0" cy="861.9"/><circle cx="189.0" cy="866.4"/><circle cx="190.4" cy="863.7"/><circle cx="190.5" cy="881.7"/><circle cx="196.4" cy="911.3"/><circle cx="202.1" cy="970.7"/><circle cx="202.0" cy="967.0"/><circle cx="202.1" cy="964.2"/><circle cx="202.0" cy="962.5"/><circle cx="202.2" cy="959.3"/><circle cx="202.1" cy="956.5"/><circle cx="202.1" cy="952.7"/><circle cx="202.0" cy="949.9"/><circle cx="202.0" cy="947.8"/><circle cx="202.1" cy="943.8"/><circle cx="202.2" cy="941.4"/><circle cx="202.1" cy="938.2"/><circle cx="202.2" cy="934.7"/><circle cx="202.1" cy="932.7"/><circle cx="202.2" cy="929.2"/><circle cx="208.2" cy="962.3"/><circle cx="208.2" cy="947.5"/><circle cx="208.2" cy="943.2"/><circle cx="209.4" cy="969.2"/><circle cx="209.4" cy="961.9"/><circle cx="209.4" cy="958.9"/><circle cx="209.2" cy="954.7"/><circle cx="209.4" cy="947.4"/><circle cx="209.5" cy="943.8"/><circle cx="210.6" cy="967.1"/><circle cx="210.8" cy="961.4"/><circle cx="210.8" cy="956.9"/><circle cx="210.7" cy="951.7"/><circle cx="210.5" cy="946.6"/><circle cx="211.9" cy="968.1"/><circle cx="211.8" cy="962.8"/><circle cx="211.8" cy="956.3"/><circle cx="211.9" cy="952.0"/><circle cx="213.2" cy="967.9"/><circle cx="212.9" cy="962.3"/><circle cx="213.0" cy="959.5"/><circle cx="213.0" cy="954.8"/><circle cx="213.1" cy="950.0"/><circle cx="213.1" cy="943.1"/><circle cx="214.3" cy="967.2"/><circle cx="214.2" cy="964.5"/><circle cx="214.2" cy="957.8"/><circle cx="214.2" cy="953.4"/><circle cx="215.4" cy="968.2"/><circle cx="215.2" cy="962.5"/><circle cx="215.4" cy="957.0"/><circle cx="215.2" cy="950.8"/><circle cx="215.4" cy="947.8"/><circle cx="228.3" cy="657.4"/><circle cx="270.5" cy="661.1"/><circle cx="283.8" cy="662.3"/><circle cx="266.9" cy="677.1"/><circle cx="270.5" cy="706.1"/><circle cx="270.5" cy="719.5"/><circle cx="300.2" cy="738.7"/><circle cx="324.1" cy="738.2"/><circle cx="246.8" cy="746.0"/><circle cx="352.3" cy="673.5"/><circle cx="397.3" cy="695.5"/><circle cx="397.3" cy="753.4"/><circle cx="267.8" cy="780.2"/><circle cx="228.0" cy="801.7"/><circle cx="247.9" cy="821.4"/><circle cx="270.4" cy="842.6"/><circle cx="236.2" cy="885.2"/><circle cx="252.8" cy="890.0"/><circle cx="267.4" cy="883.6"/><circle cx="283.6" cy="779.9"/><circle cx="283.6" cy="789.1"/><circle cx="283.6" cy="807.2"/><circle cx="310.9" cy="781.8"/><circle cx="324.1" cy="798.9"/><circle cx="310.9" cy="826.2"/><circle cx="281.5" cy="841.2"/><circle cx="305.0" cy="842.5"/><circle cx="305.0" cy="853.9"/><circle cx="323.8" cy="855.8"/><circle cx="326.3" cy="871.9"/><circle cx="282.5" cy="882.5"/><circle cx="326.3" cy="887.6"/><circle cx="332.1" cy="893.3"/><circle cx="337.1" cy="894.5"/><circle cx="281.3" cy="892.6"/><circle cx="300.3" cy="892.0"/><circle cx="347.3" cy="818.0"/><circle cx="384.5" cy="838.0"/><circle cx="381.9" cy="845.4"/><circle cx="397.5" cy="850.7"/><circle cx="412.2" cy="841.6"/><circle cx="416.6" cy="868.8"/><circle cx="405.8" cy="873.0"/><circle cx="367.1" cy="870.4"/><circle cx="414.1" cy="897.1"/><circle cx="224.4" cy="937.0"/><circle cx="224.5" cy="967.5"/><circle cx="225.8" cy="914.1"/><circle cx="227.0" cy="929.8"/><circle cx="227.0" cy="928.9"/><circle cx="227.1" cy="907.8"/><circle cx="227.1" cy="941.0"/><circle cx="228.2" cy="961.9"/><circle cx="228.0" cy="970.2"/><circle cx="228.2" cy="954.7"/><circle cx="229.3" cy="955.1"/><circle cx="229.3" cy="937.7"/><circle cx="229.3" cy="954.0"/><circle cx="232.7" cy="944.2"/><circle cx="232.7" cy="964.5"/><circle cx="232.9" cy="956.3"/><circle cx="236.4" cy="958.5"/><circle cx="236.4" cy="920.3"/><circle cx="236.4" cy="929.9"/><circle cx="236.6" cy="942.3"/><circle cx="237.9" cy="923.2"/><circle cx="238.0" cy="958.8"/><circle cx="238.0" cy="963.2"/><circle cx="237.9" cy="944.3"/><circle cx="239.8" cy="914.9"/><circle cx="239.7" cy="951.7"/><circle cx="239.9" cy="955.0"/><circle cx="239.8" cy="970.0"/><circle cx="239.7" cy="934.2"/><circle cx="239.7" cy="957.5"/><circle cx="241.5" cy="967.9"/><circle cx="241.7" cy="952.3"/><circle cx="241.6" cy="924.1"/><circle cx="241.7" cy="966.6"/><circle cx="243.8" cy="927.4"/><circle cx="243.7" cy="930.6"/><circle cx="243.8" cy="957.8"/><circle cx="243.6" cy="968.3"/><circle cx="243.6" cy="934.4"/><circle cx="245.6" cy="937.2"/><circle cx="245.5" cy="952.1"/><circle cx="245.4" cy="957.0"/><circle cx="245.5" cy="958.5"/><circle cx="245.3" cy="967.2"/><circle cx="245.4" cy="949.9"/><circle cx="247.1" cy="925.0"/><circle cx="247.1" cy="966.1"/><circle cx="247.1" cy="952.8"/><circle cx="248.5" cy="944.0"/><circle cx="248.5" cy="954.7"/><circle cx="248.5" cy="917.7"/><circle cx="248.6" cy="963.4"/><circle cx="248.5" cy="958.6"/><circle cx="248.6" cy="955.8"/><circle cx="250.9" cy="941.2"/><circle cx="252.3" cy="944.2"/><circle cx="252.3" cy="964.4"/><circle cx="252.3" cy="945.0"/><circle cx="252.3" cy="916.3"/><circle cx="252.2" cy="936.3"/><circle cx="254.0" cy="966.8"/><circle cx="253.9" cy="946.3"/><circle cx="254.0" cy="934.2"/><circle cx="253.9" cy="927.5"/><circle cx="255.7" cy="953.0"/><circle cx="255.8" cy="923.6"/><circle cx="255.7" cy="965.3"/><circle cx="255.9" cy="944.4"/><circle cx="257.7" cy="963.8"/><circle cx="257.8" cy="967.3"/><circle cx="257.8" cy="961.6"/><circle cx="257.8" cy="964.4"/><circle cx="259.5" cy="940.8"/><circle cx="259.5" cy="951.6"/><circle cx="266.3" cy="969.6"/><circle cx="271.1" cy="927.6"/><circle cx="271.2" cy="908.9"/><circle cx="271.3" cy="954.4"/><circle cx="273.7" cy="944.1"/><circle cx="277.4" cy="968.7"/><circle cx="277.4" cy="925.2"/><circle cx="277.2" cy="951.2"/><circle cx="277.2" cy="912.8"/><circle cx="278.5" cy="956.7"/><circle cx="278.4" cy="909.3"/><circle cx="278.4" cy="913.0"/><circle cx="278.4" cy="928.5"/><circle cx="278.4" cy="943.7"/><circle cx="278.5" cy="954.3"/><circle cx="279.7" cy="937.9"/><circle cx="279.6" cy="954.8"/><circle cx="279.6" cy="913.8"/><circle cx="279.5" cy="956.0"/><circle cx="279.6" cy="940.0"/><circle cx="279.6" cy="926.6"/><circle cx="279.5" cy="965.1"/><circle cx="280.7" cy="936.3"/><circle cx="281.8" cy="945.2"/><circle cx="281.7" cy="966.5"/><circle cx="281.8" cy="920.4"/><circle cx="281.9" cy="937.9"/><circle cx="283.3" cy="931.8"/><circle cx="283.2" cy="964.6"/><circle cx="284.5" cy="954.1"/><circle cx="284.6" cy="961.3"/><circle cx="284.6" cy="964.5"/><circle cx="284.4" cy="962.6"/><circle cx="284.4" cy="933.2"/><circle cx="284.6" cy="957.9"/><circle cx="284.5" cy="942.8"/><circle cx="285.3" cy="970.1"/><circle cx="287.9" cy="937.9"/><circle cx="288.0" cy="940.3"/><circle cx="290.4" cy="963.8"/><circle cx="295.0" cy="967.1"/><circle cx="297.4" cy="924.2"/><circle cx="299.7" cy="940.8"/><circle cx="299.9" cy="934.0"/><circle cx="302.3" cy="928.3"/><circle cx="304.5" cy="900.8"/><circle cx="304.4" cy="931.0"/><circle cx="304.4" cy="946.3"/><circle cx="304.4" cy="929.1"/><circle cx="306.7" cy="926.8"/><circle cx="306.8" cy="944.1"/><circle cx="306.7" cy="969.8"/><circle cx="306.7" cy="922.4"/><circle cx="309.0" cy="936.8"/><circle cx="309.1" cy="951.9"/><circle cx="313.9" cy="945.4"/><circle cx="313.8" cy="942.3"/><circle cx="313.9" cy="960.0"/><circle cx="313.9" cy="944.5"/><circle cx="314.0" cy="903.1"/><circle cx="314.0" cy="926.1"/><circle cx="320.9" cy="951.8"/><circle cx="323.5" cy="963.2"/><circle cx="325.7" cy="966.3"/><circle cx="325.7" cy="933.8"/><circle cx="328.5" cy="950.6"/><circle cx="330.5" cy="943.0"/><circle cx="332.9" cy="969.2"/><circle cx="335.2" cy="966.5"/><circle cx="335.1" cy="960.2"/><circle cx="337.5" cy="944.2"/><circle cx="337.5" cy="912.8"/><circle cx="337.7" cy="960.2"/><circle cx="337.6" cy="963.3"/><circle cx="340.2" cy="917.5"/><circle cx="340.1" cy="936.4"/><circle cx="340.2" cy="967.0"/><circle cx="342.4" cy="950.3"/><circle cx="342.3" cy="970.0"/><circle cx="342.4" cy="939.5"/><circle cx="344.5" cy="947.0"/><circle cx="344.6" cy="931.1"/><circle cx="344.7" cy="920.6"/><circle cx="347.1" cy="945.3"/><circle cx="347.2" cy="959.3"/><circle cx="349.3" cy="959.7"/><circle cx="349.4" cy="949.9"/><circle cx="349.4" cy="931.1"/><circle cx="352.1" cy="960.6"/><circle cx="354.2" cy="969.7"/><circle cx="354.4" cy="967.9"/><circle cx="359.0" cy="911.0"/><circle cx="359.0" cy="964.1"/><circle cx="366.1" cy="959.1"/><circle cx="366.1" cy="931.5"/><circle cx="370.8" cy="919.2"/><circle cx="370.7" cy="925.6"/><circle cx="373.4" cy="931.4"/><circle cx="373.4" cy="949.2"/><circle cx="378.1" cy="937.5"/><circle cx="378.2" cy="910.9"/><circle cx="380.3" cy="942.6"/><circle cx="380.4" cy="950.9"/><circle cx="380.5" cy="962.1"/><circle cx="382.6" cy="968.6"/><circle cx="382.6" cy="953.2"/><circle cx="382.7" cy="947.8"/><circle cx="382.7" cy="925.7"/><circle cx="384.0" cy="951.8"/><circle cx="384.0" cy="948.4"/><circle cx="384.0" cy="914.2"/><circle cx="384.1" cy="970.3"/><circle cx="385.2" cy="913.6"/><circle cx="385.2" cy="954.4"/><circle cx="385.3" cy="921.1"/><circle cx="385.3" cy="951.3"/><circle cx="385.2" cy="926.3"/><circle cx="385.2" cy="965.4"/><circle cx="386.1" cy="936.3"/><circle cx="386.0" cy="961.5"/><circle cx="386.1" cy="956.3"/><circle cx="386.2" cy="939.3"/><circle cx="386.1" cy="970.3"/><circle cx="387.2" cy="959.9"/><circle cx="387.4" cy="967.2"/><circle cx="387.4" cy="965.7"/><circle cx="387.3" cy="917.8"/><circle cx="387.3" cy="953.5"/><circle cx="388.7" cy="954.8"/><circle cx="388.7" cy="957.9"/><circle cx="388.7" cy="948.2"/><circle cx="388.7" cy="926.6"/><circle cx="388.6" cy="965.2"/><circle cx="389.7" cy="914.4"/><circle cx="389.8" cy="949.2"/><circle cx="389.8" cy="964.3"/><circle cx="389.8" cy="968.9"/><circle cx="390.9" cy="920.7"/><circle cx="390.8" cy="915.7"/><circle cx="390.9" cy="910.6"/><circle cx="390.8" cy="954.4"/><circle cx="390.8" cy="956.3"/><circle cx="392.1" cy="915.1"/><circle cx="392.2" cy="935.4"/><circle cx="392.1" cy="952.0"/><circle cx="393.3" cy="939.3"/><circle cx="393.2" cy="961.8"/><circle cx="393.1" cy="949.8"/><circle cx="400.6" cy="940.1"/><circle cx="400.6" cy="963.5"/><circle cx="400.5" cy="968.6"/><circle cx="404.1" cy="908.2"/><circle cx="404.0" cy="963.8"/><circle cx="405.9" cy="936.2"/><circle cx="405.9" cy="919.1"/><circle cx="409.4" cy="966.0"/><circle cx="409.3" cy="953.1"/><circle cx="411.0" cy="958.9"/><circle cx="410.9" cy="947.8"/><circle cx="413.0" cy="935.0"/><circle cx="413.0" cy="968.1"/><circle cx="413.0" cy="950.9"/><circle cx="414.6" cy="969.2"/><circle cx="414.6" cy="963.8"/><circle cx="416.6" cy="905.9"/><circle cx="416.4" cy="964.2"/><circle cx="416.6" cy="962.7"/><circle cx="416.5" cy="927.8"/><circle cx="420.3" cy="936.4"/><circle cx="421.7" cy="943.1"/><circle cx="429.0" cy="911.5"/><circle cx="429.0" cy="933.4"/><circle cx="428.9" cy="940.7"/><circle cx="430.6" cy="934.0"/><circle cx="430.6" cy="962.1"/><circle cx="434.2" cy="968.8"/><circle cx="434.1" cy="902.0"/><circle cx="434.1" cy="937.9"/><circle cx="436.0" cy="934.3"/><circle cx="436.1" cy="968.0"/><circle cx="437.7" cy="928.2"/><circle cx="437.8" cy="960.5"/><circle cx="437.8" cy="933.9"/><circle cx="437.7" cy="908.1"/><circle cx="437.6" cy="928.0"/><circle cx="439.5" cy="951.6"/><circle cx="439.5" cy="947.1"/><circle cx="439.5" cy="931.9"/><circle cx="439.5" cy="909.4"/><circle cx="439.5" cy="932.8"/></g>
<path clip-path="url(#c3)" d="M131.1 970.1L131.3 970.0L131.4 970.0L131.6 970.0L131.7 970.0L131.9 969.9L132.0 969.9L132.2 969.9L132.3 969.9L132.5 969.8L132.6 969.8L132.8 969.8L132.9 969.7L133.1 969.7L133.2 969.7L133.4 969.6L133.5 969.6L133.7 969.6L133.8 969.5L134.0 969.5L134.1 969.5L134.3 969.4L134.4 969.4L134.6 969.4L134.7 969.3L134.9 969.3L135.0 969.3L135.2 969.2L135.3 969.2L135.5 969.1L135.6 969.1L135.8 969.1L135.9 969.0L136.1 969.0L136.2 968.9L136.4 968.9L136.5 968.8L136.7 968.8L136.8 968.8L137.0 968.7L137.1 968.7L137.3 968.6L137.4 968.6L137.6 968.5L137.7 968.5L137.9 968.4L138.0 968.4L138.2 968.3L138.3 968.3L138.5 968.2L138.6 968.1L138.8 968.1L138.9 968.0L139.1 968.0L139.2 967.9L139.4 967.9L139.5 967.8L139.7 967.7L139.8 967.7L140.0 967.6L140.1 967.5L140.3 967.5L140.4 967.4L140.6 967.3L140.7 967.3L140.9 967.2L141.1 967.1L141.2 967.0L141.4 967.0L141.5 966.9L141.7 966.8L141.8 966.7L142.0 966.6L142.1 966.6L142.3 966.5L142.4 966.4L142.6 966.3L142.7 966.2L142.9 966.1L143.0 966.0L143.2 965.9L143.3 965.8L143.5 965.7L143.6 965.6L143.8 965.5L143.9 965.4L144.1 965.3L144.2 965.2L144.4 965.1L144.5 965.0L144.7 964.9L144.8 964.8L145.0 964.7L145.1 964.5L145.3 964.4L145.4 964.3L145.6 964.2L145.7 964.0L145.9 963.9L146.0 963.8L146.2 963.6L146.3 963.5L146.5 963.3L146.6 963.2L146.8 963.0L146.9 962.9L147.1 962.7L147.2 962.6L147.4 962.4L147.5 962.2L147.7 962.1L147.8 961.9L148.0 961.7L148.1 961.6L148.3 961.4L148.4 961.2L148.6 961.0L148.7 960.8L148.9 960.6L149.0 960.4L149.2 960.2L149.3 960.0L149.5 959.8L149.6 959.6L149.8 959.3L149.9 959.1L150.1 958.9L150.2 958.6L150.4 958.4L150.5 958.1L150.7 957.9L150.9 957.6L151.0 957.4L151.2 957.1L151.3 956.8L151.5 956.5L151.6 956.2L151.8 956.0L151.9 955.7L152.1 955.3L152.2 955.0L152.4 954.7L152.5 954.4L152.7 954.0L152.8 953.7L153.0 953.4L153.1 953.0L153.3 952.6L153.4 952.3L153.6 951.9L153.7 951.5L153.9 951.1L154.0 950.7L154.2 950.2L154.3 949.8L154.5 949.4L154.6 948.9L154.8 948.5L154.9 948.0L155.1 947.5L155.2 947.0L155.4 946.5L155.5 946.0L155.7 945.5L155.8 945.0L156.0 944.4L156.1 943.8L156.3 943.3L156.4 942.7L156.6 942.1L156.7 941.4L156.9 940.8L157.0 940.2L157.2 939.5L157.3 938.8L157.5 938.1L157.6 937.4L157.8 936.7L157.9 935.9L158.1 935.2L158.2 934.4L158.4 933.6L158.5 932.8L158.7 931.9L158.8 931.1L159.0 930.2L159.1 929.3L159.3 928.4L159.4 927.4L159.6 926.4L159.7 925.5L159.9 924.4L160.0 923.4L160.2 922.3L160.3 921.2L160.5 920.1L160.7 919.0L160.8 917.8L161.0 916.6L161.1 915.4L161.3 914.1L161.4 912.8L161.6 911.5L161.7 910.1L161.9 908.8L162.0 907.3L162.2 905.9L162.3 904.4L162.5 902.9L162.6 901.3L162.8 899.7L162.9 898.1L163.1 896.4L163.2 894.7L163.4 892.9L163.5 891.1L163.7 889.3L163.8 887.4L164.0 885.5L164.1 883.5L164.3 881.5L164.4 879.4L164.6 877.3L164.7 875.2L164.9 872.9L165.0 870.7L165.2 868.4L165.3 866.0L165.5 863.6L165.6 861.2L165.8 858.6L165.9 856.1L166.1 853.4L166.2 850.8L166.4 848.0L166.5 845.3L166.7 842.4L166.8 839.5L167.0 836.5L167.1 833.5L167.3 830.5L167.4 827.3L167.6 824.1L167.7 820.9L167.9 817.6L168.0 814.2L168.2 810.8L168.3 807.4L168.5 803.8L168.6 800.3L168.8 796.6L168.9 793.0L169.1 789.2L169.2 785.4L169.4 781.6L169.5 777.8L169.7 773.8L169.8 769.9L170.0 765.9L170.1 761.9L170.3 757.8L170.5 753.7L170.6 749.6L170.8 745.5L170.9 741.4L171.1 737.2L171.2 733.0L171.4 728.9L171.5 724.7L171.7 720.5L171.8 716.4L172.0 712.3L172.1 708.2L172.3 704.1L172.4 700.1L172.6 696.1L172.7 692.1L172.9 688.3L173.0 684.4L173.2 680.7L173.3 677.1L173.5 673.5L173.6 670.0L173.8 666.7L173.9 663.4L174.1 660.3L174.2 657.3L174.4 654.5L174.5 651.7L174.7 649.2L174.8 646.8L175.0 644.5L175.1 642.4L175.3 640.5L175.4 638.8L175.6 637.3L175.7 635.9L175.9 634.8L176.0 633.8L176.2 633.1L176.3 632.5L176.5 632.2L176.6 632.1L176.8 632.1L176.9 632.4L177.1 632.9L177.2 633.6L177.4 634.5L177.5 635.5L177.7 636.8L177.8 638.3L178.0 639.9L178.1 641.8L178.3 643.8L178.4 646.0L178.6 648.4L178.7 650.9L178.9 653.5L179.0 656.4L179.2 659.3L179.3 662.4L179.5 665.6L179.6 668.9L179.8 672.3L179.9 675.9L180.1 679.5L180.2 683.2L180.4 687.0L180.6 690.8L180.7 694.8L180.9 698.7L181.0 702.7L181.2 706.8L181.3 710.9L181.5 715.0L181.6 719.2L181.8 723.3L181.9 727.5L182.1 731.6L182.2 735.8L182.4 740.0L182.5 744.1L182.7 748.3L182.8 752.4L183.0 756.5L183.1 760.5L183.3 764.6L183.4 768.6L183.6 772.5L183.7 776.5L183.9 780.3L184.0 784.2L184.2 788.0L184.3 791.7L184.5 795.4L184.6 799.1L184.8 802.7L184.9 806.2L185.1 809.7L185.2 813.1L185.4 816.5L185.5 819.8L185.7 823.1L185.8 826.3L186.0 829.4L186.1 832.5L186.3 835.6L186.4 838.5L186.6 841.4L186.7 844.3L186.9 847.1L187.0 849.9L187.2 852.6L187.3 855.2L187.5 857.8L187.6 860.3L187.8 862.8L187.9 865.2L188.1 867.6L188.2 869.9L188.4 872.2L188.5 874.4L188.7 876.6L188.8 878.7L189.0 880.8L189.1 882.8L189.3 884.8L189.4 886.8L189.6 888.7L189.7 890.5L189.9 892.3L190.0 894.1L190.2 895.8L190.4 897.5L190.5 899.2L190.7 900.8L190.8 902.3L191.0 903.9L191.1 905.4L191.3 906.9L191.4 908.3L191.6 909.7L191.7 911.0L191.9 912.4L192.0 913.7L192.2 915.0L192.3 916.2L192.5 917.4L192.6 918.6L192.8 919.7L192.9 920.9L193.1 922.0L193.2 923.0L193.4 924.1L193.5 925.1L193.7 926.1L193.8 927.1L194.0 928.1L194.1 929.0L194.3 929.9L194.4 930.8L194.6 931.6L194.7 932.5L194.9 933.3L195.0 934.1L195.2 934.9L195.3 935.7L195.5 936.4L195.6 937.2L195.8 937.9L195.9 938.6L196.1 939.3L196.2 939.9L196.4 940.6L196.5 941.2L196.7 941.9L196.8 942.5L197.0 943.1L197.1 943.6L197.3 944.2L197.4 944.8L197.6 945.3L197.7 945.8L197.9 946.4L198.0 946.9L198.2 947.4L198.3 947.8L198.5 948.3L198.6 948.8L198.8 949.2L198.9 949.7L199.1 950.1L199.2 950.5L199.4 950.9L199.5 951.3L199.7 951.7L199.8 952.1L200.0 952.5L200.2 952.9L200.3 953.2L200.5 953.6L200.6 953.9L200.8 954.3L200.9 954.6L201.1 954.9L201.2 955.2L201.4 955.6L201.5 955.9L201.7 956.2L201.8 956.4L202.0 956.7L202.1 957.0L202.3 957.3L202.4 957.5L202.6 957.8L202.7 958.1L202.9 958.3L203.0 958.6L203.2 958.8L203.3 959.0L203.5 959.3L203.6 959.5L203.8 959.7L203.9 959.9L204.1 960.1L204.2 960.3L204.4 960.5L204.5 960.7L204.7 960.9L204.8 961.1L205.0 961.3L205.1 961.5L205.3 961.7L205.4 961.9L205.6 962.0L205.7 962.2L205.9 962.4L206.0 962.5L206.2 962.7L206.3 962.8L206.5 963.0L206.6 963.1L206.8 963.3L206.9 963.4L207.1 963.6L207.2 963.7L207.4 963.8L207.5 964.0L207.7 964.1L207.8 964.2L208.0 964.4L208.1 964.5L208.3 964.6L208.4 964.7L208.6 964.8L208.7 965.0L208.9 965.1L209.0 965.2L209.2 965.3L209.3 965.4L209.5 965.5L209.6 965.6L209.8 965.7L210.0 965.8L210.1 965.9L210.3 966.0L210.4 966.1L210.6 966.2L210.7 966.3L210.9 966.4L211.0 966.4L211.2 966.5L211.3 966.6L211.5 966.7L211.6 966.8L211.8 966.9L211.9 966.9L212.1 967.0L212.2 967.1L212.4 967.2L212.5 967.2L212.7 967.3L212.8 967.4L213.0 967.4L213.1 967.5L213.3 967.6L213.4 967.6L213.6 967.7L213.7 967.8L213.9 967.8L214.0 967.9L214.2 968.0L214.3 968.0L214.5 968.1L214.6 968.1L214.8 968.2L214.9 968.2L215.1 968.3L215.2 968.3L215.4 968.4L215.5 968.5L215.7 968.5L215.8 968.6L216.0 968.6L216.1 968.6L216.3 968.7L216.4 968.7L216.6 968.8L216.7 968.8L216.9 968.9L217.0 968.9L217.2 969.0L217.3 969.0L217.5 969.1L217.6 969.1L217.8 969.1L217.9 969.2L218.1 969.2L218.2 969.2L218.4 969.3L218.5 969.3L218.7 969.4L218.8 969.4L219.0 969.4L219.1 969.5L219.3 969.5L219.4 969.5L219.6 969.6L219.8 969.6L219.9 969.6L220.1 969.7L220.2 969.7L220.4 969.7L220.5 969.8L220.7 969.8L220.8 969.8L221.0 969.8L221.1 969.9L221.3 969.9L221.4 969.9L221.6 970.0" stroke="#000" stroke-width="2.9" stroke-dasharray="4.5 2.5" fill="none"/>
<g fill="#0d55e6"><circle cx="177.3" cy="589.6"/><circle cx="178.4" cy="591.9"/><circle cx="178.4" cy="593.8"/><circle cx="177.2" cy="598.6"/><circle cx="178.4" cy="608.0"/><circle cx="177.2" cy="610.9"/><circle cx="178.4" cy="615.1"/><circle cx="178.4" cy="616.9"/><circle cx="178.4" cy="622.7"/><circle cx="178.4" cy="627.5"/><circle cx="178.4" cy="629.9"/><circle cx="178.4" cy="631.5"/><circle cx="173.6" cy="614.5"/><circle cx="180.7" cy="630.3"/><circle cx="182.9" cy="604.5"/><circle cx="177.2" cy="634.1"/><circle cx="177.2" cy="637.3"/><circle cx="177.5" cy="635.7"/><circle cx="178.3" cy="636.9"/><circle cx="178.3" cy="638.9"/><circle cx="179.6" cy="637.7"/><circle cx="179.6" cy="641.7"/><circle cx="178.3" cy="644.1"/><circle cx="177.3" cy="645.7"/><circle cx="177.3" cy="648.5"/><circle cx="173.7" cy="642.5"/><circle cx="173.6" cy="651.7"/><circle cx="177.2" cy="657.7"/><circle cx="180.7" cy="653.7"/><circle cx="180.7" cy="655.7"/><circle cx="203.2" cy="893.6"/><circle cx="203.2" cy="895.4"/><circle cx="204.4" cy="901.2"/><circle cx="203.2" cy="905.1"/><circle cx="204.5" cy="915.4"/><circle cx="205.6" cy="918.8"/><circle cx="203.2" cy="921.6"/><circle cx="203.4" cy="925.9"/><circle cx="204.4" cy="926.8"/><circle cx="204.4" cy="928.8"/><circle cx="205.7" cy="926.4"/><circle cx="216.2" cy="909.3"/><circle cx="216.2" cy="936.3"/><circle cx="217.4" cy="934.9"/><circle cx="220.9" cy="939.9"/><circle cx="164.2" cy="616.5"/><circle cx="164.2" cy="656.7"/><circle cx="164.2" cy="747.9"/><circle cx="164.2" cy="762.8"/><circle cx="164.2" cy="775.2"/><circle cx="173.6" cy="660.7"/><circle cx="173.6" cy="666.1"/><circle cx="173.6" cy="669.7"/><circle cx="173.6" cy="673.3"/><circle cx="172.4" cy="665.2"/><circle cx="172.4" cy="673.3"/><circle cx="172.4" cy="684.1"/><circle cx="172.4" cy="691.2"/><circle cx="172.4" cy="695.7"/><circle cx="173.6" cy="696.6"/><circle cx="173.6" cy="702.0"/><circle cx="173.6" cy="708.9"/><circle cx="172.4" cy="720.0"/><circle cx="172.4" cy="723.6"/><circle cx="172.4" cy="736.2"/><circle cx="172.4" cy="738.0"/><circle cx="172.6" cy="744.3"/><circle cx="172.6" cy="747.9"/><circle cx="172.6" cy="755.0"/><circle cx="177.3" cy="662.5"/><circle cx="177.3" cy="666.1"/><circle cx="180.8" cy="662.5"/><circle cx="180.8" cy="666.1"/><circle cx="180.8" cy="669.7"/><circle cx="179.6" cy="671.5"/><circle cx="179.6" cy="677.8"/><circle cx="179.6" cy="683.2"/><circle cx="179.6" cy="686.8"/><circle cx="179.6" cy="691.2"/><circle cx="180.8" cy="681.4"/><circle cx="180.8" cy="685.0"/><circle cx="180.8" cy="689.4"/><circle cx="180.8" cy="693.0"/><circle cx="180.8" cy="702.0"/><circle cx="184.3" cy="656.7"/><circle cx="193.7" cy="647.2"/><circle cx="183.1" cy="729.0"/><circle cx="187.9" cy="747.9"/><circle cx="187.9" cy="764.0"/><circle cx="187.9" cy="775.2"/><circle cx="186.7" cy="782.4"/><circle cx="193.7" cy="766.4"/><circle cx="193.7" cy="768.5"/><circle cx="158.3" cy="880.0"/><circle cx="158.3" cy="896.9"/><circle cx="158.3" cy="901.4"/><circle cx="158.3" cy="903.2"/><circle cx="158.3" cy="922.2"/><circle cx="158.3" cy="930.6"/><circle cx="158.3" cy="939.6"/><circle cx="163.1" cy="860.9"/><circle cx="163.1" cy="865.6"/><circle cx="163.1" cy="876.7"/><circle cx="163.1" cy="879.4"/><circle cx="163.1" cy="882.1"/><circle cx="163.1" cy="885.7"/><circle cx="163.1" cy="888.1"/><circle cx="163.1" cy="893.8"/><circle cx="163.1" cy="895.6"/><circle cx="163.1" cy="908.5"/><circle cx="164.3" cy="865.6"/><circle cx="164.3" cy="874.9"/><circle cx="164.3" cy="887.5"/><circle cx="164.3" cy="894.7"/><circle cx="164.2" cy="815.1"/><circle cx="164.2" cy="820.5"/><circle cx="164.2" cy="822.3"/><circle cx="170.2" cy="789.6"/><circle cx="170.2" cy="805.7"/><circle cx="170.2" cy="807.9"/><circle cx="170.2" cy="815.6"/><circle cx="170.2" cy="818.3"/><circle cx="170.2" cy="829.1"/><circle cx="170.2" cy="832.7"/><circle cx="170.2" cy="834.9"/><circle cx="186.6" cy="791.4"/><circle cx="186.6" cy="805.7"/><circle cx="186.6" cy="808.4"/><circle cx="186.6" cy="813.8"/><circle cx="187.9" cy="800.4"/><circle cx="187.9" cy="803.1"/><circle cx="187.9" cy="805.7"/><circle cx="186.6" cy="821.9"/><circle cx="186.6" cy="825.5"/><circle cx="186.6" cy="829.1"/><circle cx="186.6" cy="835.4"/><circle cx="186.6" cy="841.7"/><circle cx="186.6" cy="845.3"/><circle cx="186.6" cy="849.8"/><circle cx="186.6" cy="859.7"/><circle cx="187.9" cy="821.9"/><circle cx="187.9" cy="825.5"/><circle cx="187.9" cy="830.0"/><circle cx="187.9" cy="833.6"/><circle cx="187.9" cy="842.6"/><circle cx="187.9" cy="848.9"/><circle cx="187.9" cy="851.6"/><circle cx="187.9" cy="858.8"/><circle cx="192.6" cy="808.4"/><circle cx="191.4" cy="859.7"/><circle cx="191.4" cy="883.0"/><circle cx="191.4" cy="886.6"/><circle cx="191.4" cy="891.1"/><circle cx="191.4" cy="895.6"/><circle cx="191.4" cy="900.1"/><circle cx="191.4" cy="905.5"/><circle cx="191.4" cy="911.8"/><circle cx="191.4" cy="914.5"/><circle cx="192.5" cy="890.2"/><circle cx="192.5" cy="895.6"/><circle cx="192.5" cy="900.1"/><circle cx="192.5" cy="904.6"/><circle cx="192.5" cy="910.0"/><circle cx="192.5" cy="917.2"/><circle cx="192.5" cy="921.7"/><circle cx="193.8" cy="883.9"/><circle cx="193.8" cy="906.4"/><circle cx="193.8" cy="917.2"/><circle cx="192.6" cy="877.1"/><circle cx="194.9" cy="904.6"/><circle cx="194.9" cy="910.0"/><circle cx="194.9" cy="913.6"/><circle cx="194.9" cy="917.2"/><circle cx="194.9" cy="921.7"/><circle cx="194.9" cy="926.2"/><circle cx="194.9" cy="931.5"/><circle cx="194.9" cy="936.0"/><circle cx="194.9" cy="943.2"/><circle cx="194.9" cy="945.9"/><circle cx="203.2" cy="877.6"/><circle cx="216.2" cy="838.5"/><circle cx="216.2" cy="857.9"/><circle cx="216.2" cy="859.7"/><circle cx="216.2" cy="878.5"/><circle cx="178.4" cy="625.1"/><circle cx="178.4" cy="629.5"/><circle cx="177.2" cy="635.7"/><circle cx="179.6" cy="639.7"/><circle cx="177.3" cy="647.1"/><circle cx="177.2" cy="660.1"/><circle cx="203.3" cy="923.8"/><circle cx="173.6" cy="667.9"/><circle cx="173.6" cy="671.5"/><circle cx="172.4" cy="693.5"/><circle cx="172.4" cy="721.8"/><circle cx="172.6" cy="746.1"/><circle cx="177.3" cy="664.3"/><circle cx="180.8" cy="664.3"/><circle cx="180.8" cy="667.9"/><circle cx="179.6" cy="685.0"/><circle cx="179.6" cy="689.0"/><circle cx="180.8" cy="683.2"/><circle cx="180.8" cy="687.2"/><circle cx="180.8" cy="691.2"/><circle cx="158.3" cy="899.1"/><circle cx="163.1" cy="863.3"/><circle cx="163.1" cy="878.1"/><circle cx="163.1" cy="880.8"/><circle cx="163.1" cy="883.9"/><circle cx="170.2" cy="817.0"/><circle cx="170.2" cy="830.9"/><circle cx="186.6" cy="807.1"/><circle cx="187.9" cy="801.7"/><circle cx="187.9" cy="804.4"/><circle cx="186.6" cy="823.7"/><circle cx="186.6" cy="827.3"/><circle cx="186.6" cy="843.5"/><circle cx="186.6" cy="847.5"/><circle cx="187.9" cy="823.7"/><circle cx="187.9" cy="827.8"/><circle cx="187.9" cy="831.8"/><circle cx="187.9" cy="850.2"/><circle cx="191.4" cy="884.8"/><circle cx="191.4" cy="888.9"/><circle cx="191.4" cy="893.4"/><circle cx="191.4" cy="897.8"/><circle cx="191.4" cy="913.1"/><circle cx="192.5" cy="897.8"/><circle cx="192.5" cy="902.3"/><circle cx="192.5" cy="919.4"/><circle cx="194.9" cy="911.8"/><circle cx="194.9" cy="915.4"/><circle cx="194.9" cy="919.4"/><circle cx="194.9" cy="923.9"/><circle cx="194.9" cy="933.8"/><circle cx="194.9" cy="944.6"/><circle cx="203.2" cy="967.8"/><circle cx="203.1" cy="965.1"/><circle cx="203.2" cy="962.7"/><circle cx="203.2" cy="960.3"/><circle cx="203.3" cy="957.3"/><circle cx="203.2" cy="955.3"/><circle cx="203.2" cy="953.3"/><circle cx="203.3" cy="949.8"/><circle cx="203.1" cy="946.9"/><circle cx="203.2" cy="945.0"/><circle cx="203.2" cy="943.0"/><circle cx="204.5" cy="970.1"/><circle cx="204.5" cy="967.0"/><circle cx="204.4" cy="965.1"/><circle cx="204.5" cy="962.2"/><circle cx="204.3" cy="958.5"/><circle cx="204.3" cy="957.1"/><circle cx="204.4" cy="954.2"/><circle cx="204.3" cy="950.9"/><circle cx="204.4" cy="949.1"/><circle cx="204.4" cy="945.8"/><circle cx="204.4" cy="942.1"/><circle cx="204.4" cy="940.1"/><circle cx="204.3" cy="937.1"/><circle cx="205.6" cy="968.7"/><circle cx="205.6" cy="966.7"/><circle cx="205.6" cy="963.9"/><circle cx="205.8" cy="961.5"/><circle cx="205.6" cy="958.0"/><circle cx="205.6" cy="955.9"/><circle cx="205.6" cy="953.2"/><circle cx="205.8" cy="949.8"/><circle cx="205.7" cy="947.8"/><circle cx="205.6" cy="945.8"/><circle cx="205.6" cy="942.8"/><circle cx="205.6" cy="939.5"/><circle cx="206.8" cy="969.6"/><circle cx="206.9" cy="966.8"/><circle cx="206.9" cy="963.2"/><circle cx="206.8" cy="960.6"/><circle cx="207.0" cy="956.9"/><circle cx="207.0" cy="953.9"/><circle cx="206.9" cy="951.0"/><circle cx="206.9" cy="949.1"/><circle cx="206.7" cy="945.9"/><circle cx="216.1" cy="969.1"/><circle cx="216.2" cy="965.4"/><circle cx="216.1" cy="963.0"/><circle cx="216.1" cy="959.9"/><circle cx="216.2" cy="956.2"/><circle cx="216.2" cy="952.2"/><circle cx="216.1" cy="949.5"/><circle cx="216.1" cy="946.5"/><circle cx="216.1" cy="943.5"/><circle cx="217.5" cy="970.1"/><circle cx="217.4" cy="967.4"/><circle cx="217.3" cy="964.7"/><circle cx="217.5" cy="961.4"/><circle cx="217.3" cy="957.6"/><circle cx="217.5" cy="954.6"/><circle cx="217.5" cy="949.7"/><circle cx="217.3" cy="947.5"/><circle cx="217.4" cy="944.2"/><circle cx="217.4" cy="941.1"/><circle cx="219.9" cy="969.4"/><circle cx="219.8" cy="967.2"/><circle cx="219.9" cy="963.0"/><circle cx="219.9" cy="959.0"/><circle cx="219.9" cy="956.0"/><circle cx="219.8" cy="952.4"/><circle cx="219.6" cy="949.9"/><circle cx="219.7" cy="946.7"/><circle cx="220.7" cy="966.4"/><circle cx="220.8" cy="962.1"/><circle cx="220.8" cy="959.6"/><circle cx="220.8" cy="953.9"/><circle cx="221.0" cy="949.8"/><circle cx="220.8" cy="946.3"/><circle cx="320.1" cy="620.6"/><circle cx="299.1" cy="650.1"/><circle cx="274.0" cy="697.5"/><circle cx="274.0" cy="709.6"/><circle cx="275.2" cy="713.2"/><circle cx="249.1" cy="717.8"/><circle cx="275.2" cy="723.5"/><circle cx="275.2" cy="743.4"/><circle cx="249.1" cy="749.5"/><circle cx="237.4" cy="752.8"/><circle cx="275.2" cy="762.1"/><circle cx="249.1" cy="767.5"/><circle cx="249.1" cy="770.3"/><circle cx="285.7" cy="768.2"/><circle cx="295.1" cy="764.5"/><circle cx="320.1" cy="738.9"/><circle cx="321.3" cy="751.6"/><circle cx="409.0" cy="575.8"/><circle cx="409.0" cy="583.5"/><circle cx="393.8" cy="615.6"/><circle cx="393.8" cy="617.3"/><circle cx="413.0" cy="623.8"/><circle cx="438.8" cy="636.0"/><circle cx="438.8" cy="651.7"/><circle cx="438.8" cy="664.8"/><circle cx="403.2" cy="660.6"/><circle cx="411.4" cy="667.2"/><circle cx="365.2" cy="673.7"/><circle cx="365.2" cy="676.8"/><circle cx="363.3" cy="683.1"/><circle cx="365.2" cy="681.9"/><circle cx="365.2" cy="685.9"/><circle cx="393.8" cy="691.8"/><circle cx="409.0" cy="696.0"/><circle cx="438.8" cy="691.3"/><circle cx="438.8" cy="696.7"/><circle cx="438.8" cy="698.3"/><circle cx="438.8" cy="703.0"/><circle cx="438.8" cy="718.9"/><circle cx="438.8" cy="724.8"/><circle cx="438.8" cy="727.6"/><circle cx="375.8" cy="710.5"/><circle cx="375.8" cy="717.1"/><circle cx="375.8" cy="727.6"/><circle cx="368.7" cy="737.7"/><circle cx="391.4" cy="737.0"/><circle cx="330.5" cy="752.2"/><circle cx="343.4" cy="755.7"/><circle cx="363.3" cy="750.6"/><circle cx="365.2" cy="757.3"/><circle cx="389.8" cy="749.4"/><circle cx="403.2" cy="755.0"/><circle cx="406.7" cy="752.7"/><circle cx="350.5" cy="763.2"/><circle cx="391.4" cy="766.7"/><circle cx="409.0" cy="765.1"/><circle cx="375.8" cy="769.8"/><circle cx="249.1" cy="773.0"/><circle cx="262.0" cy="778.4"/><circle cx="275.2" cy="786.6"/><circle cx="244.0" cy="789.2"/><circle cx="262.0" cy="792.9"/><circle cx="274.9" cy="801.3"/><circle cx="274.9" cy="807.1"/><circle cx="249.1" cy="810.0"/><circle cx="263.5" cy="810.0"/><circle cx="249.1" cy="831.1"/><circle cx="270.8" cy="834.8"/><circle cx="257.1" cy="837.8"/><circle cx="274.3" cy="844.6"/><circle cx="274.3" cy="849.1"/><circle cx="274.3" cy="852.0"/><circle cx="274.3" cy="855.5"/><circle cx="257.1" cy="849.9"/><circle cx="249.1" cy="857.3"/><circle cx="262.0" cy="858.8"/><circle cx="222.0" cy="860.2"/><circle cx="222.0" cy="862.1"/><circle cx="274.3" cy="867.0"/><circle cx="274.3" cy="871.9"/><circle cx="274.3" cy="875.4"/><circle cx="257.1" cy="870.5"/><circle cx="257.1" cy="877.4"/><circle cx="257.1" cy="881.3"/><circle cx="262.0" cy="873.5"/><circle cx="265.5" cy="873.9"/><circle cx="267.4" cy="875.4"/><circle cx="268.4" cy="877.4"/><circle cx="262.0" cy="881.3"/><circle cx="262.0" cy="885.2"/><circle cx="265.5" cy="887.1"/><circle cx="222.0" cy="879.3"/><circle cx="222.0" cy="882.2"/><circle cx="222.0" cy="889.1"/><circle cx="275.2" cy="885.8"/><circle cx="257.1" cy="889.1"/><circle cx="257.1" cy="893.0"/><circle cx="262.6" cy="893.0"/><circle cx="232.3" cy="895.9"/><circle cx="237.2" cy="894.9"/><circle cx="248.9" cy="893.4"/><circle cx="252.8" cy="893.4"/><circle cx="257.7" cy="898.8"/><circle cx="263.5" cy="894.5"/><circle cx="267.4" cy="897.9"/><circle cx="321.9" cy="779.9"/><circle cx="320.4" cy="784.1"/><circle cx="305.8" cy="788.5"/><circle cx="295.6" cy="799.6"/><circle cx="304.8" cy="811.7"/><circle cx="302.6" cy="821.3"/><circle cx="304.8" cy="824.1"/><circle cx="301.6" cy="831.4"/><circle cx="310.5" cy="837.7"/><circle cx="320.0" cy="826.9"/><circle cx="320.0" cy="835.7"/><circle cx="326.0" cy="842.5"/><circle cx="331.4" cy="845.7"/><circle cx="314.0" cy="846.0"/><circle cx="314.0" cy="851.7"/><circle cx="305.8" cy="844.8"/><circle cx="287.0" cy="851.1"/><circle cx="331.8" cy="853.7"/><circle cx="305.8" cy="861.8"/><circle cx="310.5" cy="863.7"/><circle cx="314.0" cy="861.8"/><circle cx="326.0" cy="860.9"/><circle cx="330.8" cy="862.2"/><circle cx="304.8" cy="867.0"/><circle cx="314.0" cy="868.3"/><circle cx="305.8" cy="872.7"/><circle cx="310.5" cy="878.7"/><circle cx="310.5" cy="881.2"/><circle cx="331.4" cy="869.8"/><circle cx="331.4" cy="873.6"/><circle cx="331.4" cy="876.1"/><circle cx="331.4" cy="879.3"/><circle cx="321.3" cy="871.9"/><circle cx="320.0" cy="885.7"/><circle cx="295.2" cy="883.7"/><circle cx="285.7" cy="887.8"/><circle cx="330.8" cy="816.1"/><circle cx="344.8" cy="810.1"/><circle cx="351.1" cy="809.7"/><circle cx="353.4" cy="804.0"/><circle cx="353.0" cy="830.4"/><circle cx="353.0" cy="833.0"/><circle cx="353.0" cy="839.3"/><circle cx="353.0" cy="841.8"/><circle cx="346.0" cy="859.6"/><circle cx="352.1" cy="858.3"/><circle cx="353.7" cy="859.9"/><circle cx="343.5" cy="865.3"/><circle cx="353.4" cy="874.9"/><circle cx="353.4" cy="879.9"/><circle cx="358.1" cy="868.5"/><circle cx="331.4" cy="887.6"/><circle cx="359.4" cy="788.5"/><circle cx="331.4" cy="898.3"/><circle cx="346.0" cy="899.0"/><circle cx="351.1" cy="897.7"/><circle cx="285.7" cy="897.7"/><circle cx="294.0" cy="897.7"/><circle cx="302.9" cy="897.1"/><circle cx="360.7" cy="788.5"/><circle cx="365.2" cy="784.7"/><circle cx="365.2" cy="794.9"/><circle cx="365.2" cy="810.1"/><circle cx="376.0" cy="812.0"/><circle cx="376.0" cy="815.2"/><circle cx="367.7" cy="823.4"/><circle cx="371.3" cy="821.3"/><circle cx="362.6" cy="829.2"/><circle cx="365.4" cy="841.9"/><circle cx="362.6" cy="847.6"/><circle cx="365.2" cy="847.6"/><circle cx="367.7" cy="847.8"/><circle cx="376.0" cy="847.6"/><circle cx="371.5" cy="852.0"/><circle cx="365.4" cy="862.2"/><circle cx="376.0" cy="874.2"/><circle cx="367.7" cy="876.1"/><circle cx="360.7" cy="881.2"/><circle cx="365.2" cy="887.6"/><circle cx="379.8" cy="893.9"/><circle cx="391.2" cy="782.4"/><circle cx="393.7" cy="791.9"/><circle cx="392.5" cy="801.5"/><circle cx="391.2" cy="806.5"/><circle cx="391.2" cy="818.4"/><circle cx="391.2" cy="822.2"/><circle cx="389.9" cy="831.1"/><circle cx="393.7" cy="829.2"/><circle cx="391.2" cy="839.9"/><circle cx="391.8" cy="844.1"/><circle cx="391.8" cy="845.7"/><circle cx="393.7" cy="856.7"/><circle cx="393.7" cy="865.6"/><circle cx="392.5" cy="870.7"/><circle cx="395.0" cy="878.9"/><circle cx="392.5" cy="886.9"/><circle cx="393.7" cy="896.5"/><circle cx="407.1" cy="776.4"/><circle cx="410.2" cy="774.5"/><circle cx="407.1" cy="779.6"/><circle cx="416.2" cy="783.4"/><circle cx="407.1" cy="787.0"/><circle cx="410.2" cy="793.0"/><circle cx="412.8" cy="792.3"/><circle cx="403.3" cy="796.8"/><circle cx="406.4" cy="798.7"/><circle cx="407.1" cy="803.1"/><circle cx="410.2" cy="805.0"/><circle cx="411.5" cy="810.1"/><circle cx="410.2" cy="817.7"/><circle cx="412.8" cy="820.3"/><circle cx="407.1" cy="820.9"/><circle cx="407.1" cy="824.1"/><circle cx="411.5" cy="824.7"/><circle cx="412.8" cy="831.7"/><circle cx="411.5" cy="834.9"/><circle cx="407.1" cy="839.3"/><circle cx="410.2" cy="845.0"/><circle cx="416.2" cy="846.3"/><circle cx="407.1" cy="848.2"/><circle cx="407.1" cy="853.9"/><circle cx="410.2" cy="859.6"/><circle cx="412.8" cy="860.3"/><circle cx="407.1" cy="862.2"/><circle cx="403.3" cy="866.0"/><circle cx="403.3" cy="868.5"/><circle cx="410.2" cy="871.7"/><circle cx="403.3" cy="874.9"/><circle cx="407.1" cy="880.6"/><circle cx="411.5" cy="882.5"/><circle cx="407.1" cy="887.8"/><circle cx="410.2" cy="891.4"/><circle cx="412.8" cy="892.0"/><circle cx="435.0" cy="777.1"/><circle cx="435.0" cy="781.9"/><circle cx="435.0" cy="814.5"/><circle cx="435.0" cy="824.7"/><circle cx="435.0" cy="843.1"/><circle cx="435.0" cy="851.4"/><circle cx="435.0" cy="862.8"/><circle cx="435.0" cy="879.3"/><circle cx="435.0" cy="886.0"/><circle cx="221.5" cy="947.6"/><circle cx="221.5" cy="929.6"/><circle cx="221.6" cy="933.6"/><circle cx="221.4" cy="935.2"/><circle cx="221.6" cy="966.6"/><circle cx="221.4" cy="920.2"/><circle cx="221.5" cy="938.2"/><circle cx="221.5" cy="954.1"/><circle cx="221.5" cy="970.5"/><circle cx="221.6" cy="919.4"/><circle cx="221.4" cy="934.2"/><circle cx="221.4" cy="959.3"/><circle cx="221.5" cy="955.3"/><circle cx="221.5" cy="960.1"/><circle cx="221.5" cy="956.9"/><circle cx="221.6" cy="938.7"/><circle cx="221.5" cy="918.7"/><circle cx="221.6" cy="945.1"/><circle cx="222.7" cy="950.2"/><circle cx="222.7" cy="930.5"/><circle cx="222.6" cy="959.5"/><circle cx="222.5" cy="958.8"/><circle cx="222.7" cy="967.6"/><circle cx="222.6" cy="960.9"/><circle cx="222.7" cy="947.4"/><circle cx="222.5" cy="923.2"/><circle cx="222.7" cy="951.4"/><circle cx="222.6" cy="964.9"/><circle cx="222.7" cy="943.0"/><circle cx="222.6" cy="968.8"/><circle cx="223.7" cy="962.1"/><circle cx="223.7" cy="966.0"/><circle cx="223.6" cy="967.6"/><circle cx="223.7" cy="955.8"/><circle cx="223.8" cy="917.3"/><circle cx="223.7" cy="946.7"/><circle cx="223.8" cy="966.1"/><circle cx="223.8" cy="931.6"/><circle cx="223.7" cy="932.5"/><circle cx="223.8" cy="952.9"/><circle cx="223.6" cy="968.6"/><circle cx="223.7" cy="936.6"/><circle cx="223.7" cy="944.6"/><circle cx="230.0" cy="969.3"/><circle cx="230.0" cy="959.2"/><circle cx="230.0" cy="948.6"/><circle cx="229.9" cy="929.6"/><circle cx="230.1" cy="955.2"/><circle cx="230.0" cy="961.3"/><circle cx="229.9" cy="926.2"/><circle cx="230.1" cy="954.1"/><circle cx="230.8" cy="957.3"/><circle cx="230.9" cy="959.5"/><circle cx="231.0" cy="951.0"/><circle cx="232.0" cy="951.0"/><circle cx="231.9" cy="957.9"/><circle cx="231.9" cy="950.3"/><circle cx="232.0" cy="951.7"/><circle cx="232.0" cy="956.2"/><circle cx="231.9" cy="967.4"/><circle cx="231.9" cy="963.2"/><circle cx="233.4" cy="970.7"/><circle cx="233.4" cy="936.5"/><circle cx="233.4" cy="922.6"/><circle cx="233.4" cy="911.6"/><circle cx="233.4" cy="929.1"/><circle cx="234.5" cy="961.1"/><circle cx="234.4" cy="920.9"/><circle cx="234.4" cy="939.9"/><circle cx="234.5" cy="958.5"/><circle cx="234.4" cy="966.3"/><circle cx="234.6" cy="970.3"/><circle cx="236.0" cy="962.5"/><circle cx="236.0" cy="969.6"/><circle cx="236.1" cy="969.1"/><circle cx="235.9" cy="966.3"/><circle cx="235.9" cy="940.6"/><circle cx="236.0" cy="963.1"/><circle cx="235.8" cy="967.8"/><circle cx="235.9" cy="953.0"/><circle cx="235.9" cy="925.0"/><circle cx="236.8" cy="962.2"/><circle cx="236.9" cy="938.0"/><circle cx="236.8" cy="942.2"/><circle cx="236.8" cy="947.0"/><circle cx="236.7" cy="967.9"/><circle cx="238.1" cy="920.4"/><circle cx="238.2" cy="953.2"/><circle cx="238.0" cy="948.6"/><circle cx="238.1" cy="902.4"/><circle cx="238.0" cy="966.9"/><circle cx="238.1" cy="955.5"/><circle cx="239.1" cy="941.4"/><circle cx="239.1" cy="961.1"/><circle cx="239.2" cy="951.5"/><circle cx="239.1" cy="969.4"/><circle cx="239.2" cy="959.8"/><circle cx="239.1" cy="965.7"/><circle cx="239.3" cy="938.9"/><circle cx="239.2" cy="952.6"/><circle cx="239.0" cy="953.7"/><circle cx="239.3" cy="956.9"/><circle cx="240.5" cy="961.5"/><circle cx="240.6" cy="911.0"/><circle cx="240.4" cy="941.5"/><circle cx="242.9" cy="960.0"/><circle cx="242.7" cy="922.5"/><circle cx="243.8" cy="941.7"/><circle cx="243.9" cy="916.8"/><circle cx="244.0" cy="933.3"/><circle cx="244.0" cy="950.1"/><circle cx="243.8" cy="966.1"/><circle cx="247.7" cy="933.3"/><circle cx="247.8" cy="960.0"/><circle cx="247.8" cy="941.0"/><circle cx="247.7" cy="949.1"/><circle cx="247.7" cy="933.4"/><circle cx="247.8" cy="946.8"/><circle cx="249.0" cy="959.9"/><circle cx="249.0" cy="968.4"/><circle cx="249.7" cy="961.2"/><circle cx="249.8" cy="969.2"/><circle cx="249.8" cy="939.2"/><circle cx="249.7" cy="947.8"/><circle cx="249.8" cy="960.0"/><circle cx="249.7" cy="954.2"/><circle cx="249.8" cy="964.9"/><circle cx="249.8" cy="931.9"/><circle cx="249.8" cy="938.7"/><circle cx="249.7" cy="954.2"/><circle cx="249.8" cy="941.0"/><circle cx="251.2" cy="944.0"/><circle cx="251.1" cy="947.4"/><circle cx="251.1" cy="970.3"/><circle cx="251.2" cy="934.3"/><circle cx="251.1" cy="948.8"/><circle cx="251.2" cy="957.0"/><circle cx="253.5" cy="960.2"/><circle cx="253.5" cy="969.0"/><circle cx="253.4" cy="962.1"/><circle cx="253.4" cy="957.2"/><circle cx="253.5" cy="954.9"/><circle cx="253.5" cy="969.0"/><circle cx="253.5" cy="940.1"/><circle cx="254.7" cy="937.5"/><circle cx="254.8" cy="960.8"/><circle cx="254.7" cy="958.6"/><circle cx="254.8" cy="945.6"/><circle cx="254.8" cy="955.8"/><circle cx="254.9" cy="959.9"/><circle cx="254.8" cy="954.2"/><circle cx="255.7" cy="942.4"/><circle cx="255.7" cy="949.0"/><circle cx="255.8" cy="957.3"/><circle cx="255.7" cy="955.7"/><circle cx="255.7" cy="918.0"/><circle cx="255.8" cy="939.7"/><circle cx="255.7" cy="945.7"/><circle cx="255.8" cy="932.4"/><circle cx="255.8" cy="952.8"/><circle cx="255.7" cy="933.0"/><circle cx="257.2" cy="952.8"/><circle cx="257.1" cy="932.7"/><circle cx="257.1" cy="960.0"/><circle cx="258.2" cy="937.3"/><circle cx="258.4" cy="970.3"/><circle cx="258.2" cy="917.2"/><circle cx="258.2" cy="957.1"/><circle cx="258.2" cy="965.9"/><circle cx="258.2" cy="948.9"/><circle cx="259.5" cy="969.4"/><circle cx="259.6" cy="964.7"/><circle cx="259.5" cy="945.3"/><circle cx="259.4" cy="962.2"/><circle cx="259.6" cy="918.8"/><circle cx="259.5" cy="966.1"/><circle cx="260.7" cy="954.7"/><circle cx="260.7" cy="964.9"/><circle cx="260.6" cy="939.7"/><circle cx="260.8" cy="956.8"/><circle cx="260.6" cy="948.7"/><circle cx="260.8" cy="959.7"/><circle cx="262.0" cy="962.4"/><circle cx="262.0" cy="936.9"/><circle cx="262.0" cy="906.7"/><circle cx="262.0" cy="950.3"/><circle cx="262.9" cy="935.4"/><circle cx="263.0" cy="945.6"/><circle cx="263.0" cy="947.6"/><circle cx="262.9" cy="926.7"/><circle cx="263.0" cy="949.5"/><circle cx="264.4" cy="939.2"/><circle cx="264.3" cy="928.6"/><circle cx="264.4" cy="929.5"/><circle cx="264.4" cy="968.6"/><circle cx="264.3" cy="955.4"/><circle cx="264.3" cy="949.0"/><circle cx="264.4" cy="959.5"/><circle cx="265.3" cy="952.7"/><circle cx="265.4" cy="927.8"/><circle cx="265.3" cy="930.9"/><circle cx="265.5" cy="966.4"/><circle cx="265.3" cy="959.3"/><circle cx="265.4" cy="968.0"/><circle cx="265.4" cy="957.3"/><circle cx="266.5" cy="948.9"/><circle cx="266.5" cy="966.6"/><circle cx="266.3" cy="939.6"/><circle cx="266.4" cy="927.6"/><circle cx="266.5" cy="961.2"/><circle cx="266.5" cy="901.2"/><circle cx="266.5" cy="948.6"/><circle cx="267.7" cy="957.3"/><circle cx="267.5" cy="950.7"/><circle cx="267.7" cy="912.8"/><circle cx="267.5" cy="957.8"/><circle cx="267.6" cy="967.6"/><circle cx="267.6" cy="947.1"/><circle cx="268.7" cy="953.2"/><circle cx="268.7" cy="921.5"/><circle cx="268.7" cy="949.1"/><circle cx="268.7" cy="940.3"/><circle cx="270.2" cy="946.1"/><circle cx="270.0" cy="956.6"/><circle cx="270.1" cy="954.9"/><circle cx="271.5" cy="965.6"/><circle cx="271.4" cy="946.7"/><circle cx="271.4" cy="944.2"/><circle cx="271.4" cy="941.8"/><circle cx="271.4" cy="966.2"/><circle cx="271.4" cy="956.6"/><circle cx="271.6" cy="945.2"/><circle cx="271.4" cy="949.5"/><circle cx="271.6" cy="951.2"/><circle cx="271.4" cy="924.1"/><circle cx="272.7" cy="943.4"/><circle cx="272.6" cy="909.3"/><circle cx="272.5" cy="969.4"/><circle cx="272.7" cy="922.2"/><circle cx="272.6" cy="926.9"/><circle cx="272.7" cy="957.1"/><circle cx="272.7" cy="964.0"/><circle cx="272.6" cy="957.5"/><circle cx="273.7" cy="961.1"/><circle cx="273.7" cy="919.9"/><circle cx="273.7" cy="955.9"/><circle cx="273.5" cy="930.9"/><circle cx="273.6" cy="959.6"/><circle cx="273.7" cy="968.9"/><circle cx="273.6" cy="921.2"/><circle cx="274.8" cy="921.8"/><circle cx="274.9" cy="965.9"/><circle cx="275.0" cy="947.6"/><circle cx="274.8" cy="951.7"/><circle cx="274.9" cy="964.8"/><circle cx="274.8" cy="964.2"/><circle cx="276.2" cy="962.2"/><circle cx="276.3" cy="960.3"/><circle cx="276.2" cy="960.3"/><circle cx="276.1" cy="937.3"/><circle cx="276.3" cy="955.8"/><circle cx="376.5" cy="938.6"/><circle cx="376.5" cy="924.8"/><circle cx="376.7" cy="952.1"/><circle cx="376.5" cy="926.4"/><circle cx="376.6" cy="969.9"/><circle cx="377.9" cy="961.3"/><circle cx="377.8" cy="941.8"/><circle cx="377.8" cy="957.1"/><circle cx="377.9" cy="959.1"/><circle cx="379.1" cy="922.3"/><circle cx="379.0" cy="966.3"/><circle cx="379.0" cy="927.5"/><circle cx="378.9" cy="958.9"/><circle cx="378.9" cy="959.7"/><circle cx="378.9" cy="940.5"/><circle cx="378.9" cy="952.2"/><circle cx="378.9" cy="957.3"/><circle cx="379.0" cy="932.3"/><circle cx="378.9" cy="937.6"/><circle cx="380.4" cy="965.6"/><circle cx="380.6" cy="970.1"/><circle cx="380.6" cy="957.8"/><circle cx="380.5" cy="954.1"/><circle cx="380.5" cy="951.4"/><circle cx="380.6" cy="956.0"/><circle cx="380.5" cy="959.6"/><circle cx="380.5" cy="959.4"/><circle cx="381.5" cy="900.7"/><circle cx="381.4" cy="965.5"/><circle cx="381.4" cy="919.3"/><circle cx="381.3" cy="947.7"/><circle cx="381.3" cy="939.2"/><circle cx="381.3" cy="925.5"/><circle cx="381.3" cy="949.5"/><circle cx="381.4" cy="962.9"/><circle cx="381.4" cy="967.5"/><circle cx="381.4" cy="925.7"/><circle cx="381.2" cy="968.3"/><circle cx="389.7" cy="945.2"/><circle cx="389.9" cy="969.4"/><circle cx="389.7" cy="909.0"/><circle cx="389.8" cy="960.2"/><circle cx="389.7" cy="948.6"/><circle cx="389.7" cy="970.7"/><circle cx="389.7" cy="924.7"/><circle cx="389.9" cy="969.6"/><circle cx="389.9" cy="954.1"/><circle cx="389.9" cy="936.6"/><circle cx="389.9" cy="960.6"/><circle cx="391.0" cy="934.7"/><circle cx="391.0" cy="963.9"/><circle cx="391.0" cy="967.2"/><circle cx="391.1" cy="959.7"/><circle cx="391.0" cy="942.1"/><circle cx="391.1" cy="944.8"/><circle cx="390.9" cy="957.0"/><circle cx="392.2" cy="967.8"/><circle cx="392.2" cy="970.2"/><circle cx="392.2" cy="938.4"/><circle cx="392.2" cy="963.4"/><circle cx="392.2" cy="958.5"/><circle cx="392.2" cy="962.9"/><circle cx="392.3" cy="945.5"/><circle cx="392.1" cy="935.2"/><circle cx="392.2" cy="969.9"/><circle cx="392.2" cy="947.1"/><circle cx="394.6" cy="948.1"/><circle cx="394.6" cy="908.9"/><circle cx="394.5" cy="931.9"/><circle cx="394.5" cy="925.7"/><circle cx="394.5" cy="947.0"/><circle cx="394.5" cy="959.7"/><circle cx="394.5" cy="965.0"/><circle cx="394.5" cy="947.5"/><circle cx="394.5" cy="966.3"/><circle cx="394.5" cy="957.7"/><circle cx="395.8" cy="969.2"/><circle cx="395.7" cy="968.8"/><circle cx="395.7" cy="956.6"/><circle cx="395.6" cy="929.9"/><circle cx="395.7" cy="964.1"/><circle cx="395.7" cy="968.9"/><circle cx="395.6" cy="958.2"/><circle cx="395.7" cy="957.2"/><circle cx="396.8" cy="955.9"/><circle cx="396.9" cy="939.8"/><circle cx="396.8" cy="958.2"/><circle cx="396.7" cy="923.2"/><circle cx="396.8" cy="962.3"/><circle cx="396.9" cy="953.5"/><circle cx="396.9" cy="964.2"/><circle cx="396.8" cy="956.9"/><circle cx="398.1" cy="932.4"/><circle cx="398.0" cy="969.5"/><circle cx="397.9" cy="963.9"/><circle cx="398.0" cy="941.9"/><circle cx="398.1" cy="961.6"/><circle cx="398.1" cy="949.4"/><circle cx="398.0" cy="944.7"/><circle cx="398.1" cy="962.0"/><circle cx="398.0" cy="964.6"/><circle cx="398.0" cy="923.3"/><circle cx="398.0" cy="901.5"/><circle cx="399.4" cy="970.5"/><circle cx="399.4" cy="950.5"/><circle cx="399.4" cy="940.5"/><circle cx="399.4" cy="942.4"/><circle cx="399.3" cy="950.0"/><circle cx="399.5" cy="949.2"/><circle cx="399.3" cy="958.4"/><circle cx="400.4" cy="967.3"/><circle cx="400.3" cy="964.6"/><circle cx="400.3" cy="936.3"/><circle cx="400.4" cy="953.9"/><circle cx="400.4" cy="956.1"/><circle cx="404.3" cy="952.9"/><circle cx="404.2" cy="958.5"/><circle cx="404.2" cy="942.1"/><circle cx="404.3" cy="954.2"/><circle cx="404.1" cy="911.3"/><circle cx="405.2" cy="937.2"/><circle cx="405.2" cy="938.5"/><circle cx="405.2" cy="967.0"/><circle cx="405.2" cy="946.2"/><circle cx="405.2" cy="948.8"/><circle cx="405.2" cy="961.0"/><circle cx="406.5" cy="961.2"/><circle cx="406.6" cy="940.9"/><circle cx="406.6" cy="958.1"/><circle cx="406.6" cy="955.8"/><circle cx="407.7" cy="960.5"/><circle cx="407.6" cy="956.8"/><circle cx="407.7" cy="949.2"/><circle cx="407.6" cy="952.1"/><circle cx="407.7" cy="963.8"/><circle cx="410.1" cy="962.3"/><circle cx="410.2" cy="966.3"/><circle cx="410.1" cy="950.0"/><circle cx="410.2" cy="940.6"/><circle cx="410.2" cy="956.3"/><circle cx="412.4" cy="961.1"/><circle cx="412.5" cy="957.5"/><circle cx="412.5" cy="970.3"/><circle cx="412.4" cy="969.1"/><circle cx="412.5" cy="962.5"/><circle cx="413.8" cy="942.3"/><circle cx="413.7" cy="968.6"/><circle cx="413.8" cy="970.0"/><circle cx="413.9" cy="943.1"/><circle cx="413.9" cy="938.0"/><circle cx="414.6" cy="956.3"/><circle cx="414.5" cy="951.1"/><circle cx="414.6" cy="970.6"/><circle cx="414.6" cy="969.5"/><circle cx="414.7" cy="947.1"/><circle cx="414.6" cy="909.7"/><circle cx="415.8" cy="964.2"/><circle cx="415.8" cy="956.5"/><circle cx="415.8" cy="958.2"/><circle cx="415.9" cy="931.3"/><circle cx="415.8" cy="935.7"/><circle cx="415.8" cy="939.9"/><circle cx="415.8" cy="955.5"/><circle cx="416.9" cy="952.6"/><circle cx="417.0" cy="947.8"/><circle cx="417.0" cy="926.1"/><circle cx="417.0" cy="961.4"/><circle cx="417.0" cy="948.4"/><circle cx="418.3" cy="943.4"/><circle cx="418.1" cy="963.4"/><circle cx="418.2" cy="958.7"/><circle cx="419.6" cy="959.3"/><circle cx="419.6" cy="959.6"/><circle cx="419.6" cy="961.1"/><circle cx="419.6" cy="924.2"/><circle cx="419.6" cy="965.7"/><circle cx="425.3" cy="953.2"/><circle cx="425.3" cy="952.6"/><circle cx="425.3" cy="965.8"/><circle cx="425.3" cy="959.4"/><circle cx="426.3" cy="961.1"/><circle cx="426.3" cy="953.6"/><circle cx="426.4" cy="967.7"/><circle cx="426.4" cy="959.2"/><circle cx="426.3" cy="916.4"/><circle cx="426.3" cy="933.0"/><circle cx="426.3" cy="966.2"/><circle cx="426.5" cy="947.2"/><circle cx="426.5" cy="944.6"/><circle cx="426.4" cy="963.7"/><circle cx="427.6" cy="950.1"/><circle cx="427.8" cy="966.2"/><circle cx="427.7" cy="963.5"/><circle cx="427.7" cy="966.4"/><circle cx="427.8" cy="969.2"/><circle cx="427.8" cy="958.1"/><circle cx="427.7" cy="938.2"/><circle cx="427.8" cy="964.6"/><circle cx="427.6" cy="949.8"/><circle cx="427.8" cy="960.1"/><circle cx="428.8" cy="969.0"/><circle cx="428.8" cy="965.8"/><circle cx="430.0" cy="967.2"/><circle cx="429.9" cy="969.6"/><circle cx="429.9" cy="966.8"/><circle cx="430.0" cy="961.0"/><circle cx="430.0" cy="944.3"/><circle cx="430.0" cy="937.4"/><circle cx="431.2" cy="941.4"/><circle cx="431.1" cy="966.4"/><circle cx="431.2" cy="969.0"/><circle cx="431.3" cy="948.7"/><circle cx="431.1" cy="946.9"/><circle cx="431.2" cy="958.2"/><circle cx="431.3" cy="953.8"/><circle cx="431.3" cy="955.4"/><circle cx="431.2" cy="912.7"/><circle cx="433.6" cy="957.8"/><circle cx="433.6" cy="967.1"/><circle cx="433.7" cy="932.8"/><circle cx="433.6" cy="936.9"/><circle cx="433.7" cy="963.2"/><circle cx="435.0" cy="970.1"/><circle cx="435.0" cy="957.5"/><circle cx="434.9" cy="966.3"/><circle cx="435.9" cy="950.9"/><circle cx="435.9" cy="927.0"/><circle cx="435.9" cy="956.4"/><circle cx="436.0" cy="969.8"/><circle cx="436.0" cy="960.3"/><circle cx="435.9" cy="962.0"/><circle cx="435.9" cy="939.2"/><circle cx="437.1" cy="963.4"/><circle cx="437.1" cy="951.6"/><circle cx="437.2" cy="965.8"/><circle cx="438.3" cy="970.4"/><circle cx="439.4" cy="962.3"/><circle cx="439.4" cy="965.3"/><circle cx="439.5" cy="966.7"/><circle cx="439.4" cy="966.1"/><circle cx="284.3" cy="946.0"/><circle cx="284.3" cy="968.9"/><circle cx="284.3" cy="949.7"/><circle cx="284.3" cy="964.6"/><circle cx="284.3" cy="923.0"/><circle cx="284.4" cy="941.8"/><circle cx="286.8" cy="969.9"/><circle cx="286.7" cy="927.2"/><circle cx="286.6" cy="922.5"/><circle cx="286.7" cy="946.6"/><circle cx="286.7" cy="959.4"/><circle cx="286.6" cy="952.6"/><circle cx="286.7" cy="961.5"/><circle cx="287.9" cy="946.9"/><circle cx="287.8" cy="954.4"/><circle cx="287.8" cy="959.9"/><circle cx="287.9" cy="927.1"/><circle cx="287.8" cy="938.5"/><circle cx="287.8" cy="951.9"/><circle cx="287.9" cy="935.0"/><circle cx="287.9" cy="922.1"/><circle cx="287.8" cy="962.5"/><circle cx="290.1" cy="968.5"/><circle cx="290.1" cy="957.4"/><circle cx="290.1" cy="966.4"/><circle cx="290.1" cy="945.7"/><circle cx="290.2" cy="929.0"/><circle cx="290.2" cy="960.8"/><circle cx="291.7" cy="944.7"/><circle cx="291.5" cy="965.9"/><circle cx="291.6" cy="944.4"/><circle cx="291.5" cy="966.5"/><circle cx="291.7" cy="964.5"/><circle cx="291.6" cy="963.3"/><circle cx="291.7" cy="960.1"/><circle cx="291.7" cy="937.6"/><circle cx="291.6" cy="968.5"/><circle cx="291.6" cy="951.8"/><circle cx="292.7" cy="921.9"/><circle cx="292.7" cy="957.1"/><circle cx="292.8" cy="927.8"/><circle cx="292.7" cy="903.0"/><circle cx="292.8" cy="948.4"/><circle cx="292.8" cy="901.8"/><circle cx="292.8" cy="950.0"/><circle cx="293.6" cy="967.6"/><circle cx="293.6" cy="922.5"/><circle cx="293.6" cy="942.5"/><circle cx="293.6" cy="925.3"/><circle cx="293.6" cy="940.8"/><circle cx="293.7" cy="942.9"/><circle cx="293.7" cy="910.2"/><circle cx="293.6" cy="948.3"/><circle cx="293.7" cy="935.7"/><circle cx="295.2" cy="970.5"/><circle cx="295.3" cy="940.4"/><circle cx="295.1" cy="917.4"/><circle cx="295.2" cy="944.6"/><circle cx="295.1" cy="947.6"/><circle cx="295.8" cy="939.6"/><circle cx="295.7" cy="906.4"/><circle cx="295.8" cy="938.7"/><circle cx="295.8" cy="940.7"/><circle cx="295.7" cy="967.7"/><circle cx="295.6" cy="956.9"/><circle cx="295.6" cy="927.7"/><circle cx="295.8" cy="933.1"/><circle cx="295.7" cy="908.8"/><circle cx="295.7" cy="943.1"/><circle cx="297.3" cy="911.4"/><circle cx="297.3" cy="958.4"/><circle cx="297.2" cy="942.4"/><circle cx="297.3" cy="934.1"/><circle cx="297.2" cy="943.1"/><circle cx="297.3" cy="904.4"/><circle cx="297.3" cy="930.3"/><circle cx="297.2" cy="952.9"/><circle cx="298.7" cy="943.2"/><circle cx="298.7" cy="963.6"/><circle cx="298.8" cy="924.6"/><circle cx="298.7" cy="917.6"/><circle cx="298.8" cy="967.0"/><circle cx="298.8" cy="915.9"/><circle cx="298.7" cy="955.1"/><circle cx="299.7" cy="968.9"/><circle cx="299.6" cy="967.9"/><circle cx="299.6" cy="944.4"/><circle cx="299.7" cy="936.6"/><circle cx="299.6" cy="965.8"/><circle cx="299.6" cy="951.0"/><circle cx="299.7" cy="956.3"/><circle cx="299.7" cy="940.3"/><circle cx="299.7" cy="960.5"/><circle cx="299.6" cy="955.2"/><circle cx="299.6" cy="954.6"/><circle cx="307.0" cy="969.7"/><circle cx="307.0" cy="968.5"/><circle cx="307.1" cy="967.8"/><circle cx="307.0" cy="947.4"/><circle cx="307.1" cy="962.2"/><circle cx="307.0" cy="951.7"/><circle cx="307.1" cy="966.9"/><circle cx="307.0" cy="964.6"/><circle cx="307.0" cy="945.9"/><circle cx="308.1" cy="932.7"/><circle cx="308.2" cy="965.3"/><circle cx="308.1" cy="959.6"/><circle cx="308.1" cy="928.2"/><circle cx="308.1" cy="923.5"/><circle cx="308.2" cy="957.1"/><circle cx="308.1" cy="969.3"/><circle cx="308.1" cy="924.4"/><circle cx="308.1" cy="955.1"/><circle cx="309.3" cy="943.5"/><circle cx="309.1" cy="937.7"/><circle cx="309.2" cy="954.8"/><circle cx="309.2" cy="969.8"/><circle cx="309.1" cy="942.4"/><circle cx="309.1" cy="931.8"/><circle cx="313.9" cy="949.4"/><circle cx="314.1" cy="970.0"/><circle cx="315.3" cy="940.4"/><circle cx="315.2" cy="963.9"/><circle cx="315.2" cy="917.0"/><circle cx="315.2" cy="940.3"/><circle cx="315.3" cy="933.2"/><circle cx="315.3" cy="904.7"/><circle cx="315.3" cy="962.3"/><circle cx="315.2" cy="957.7"/><circle cx="315.3" cy="946.2"/><circle cx="315.2" cy="932.5"/><circle cx="315.3" cy="954.1"/><circle cx="317.4" cy="937.0"/><circle cx="317.3" cy="951.6"/><circle cx="317.5" cy="952.6"/><circle cx="317.5" cy="953.0"/><circle cx="317.4" cy="943.7"/><circle cx="317.4" cy="932.2"/><circle cx="319.8" cy="958.7"/><circle cx="319.9" cy="964.7"/><circle cx="319.8" cy="957.4"/><circle cx="320.0" cy="940.4"/><circle cx="319.9" cy="955.2"/><circle cx="319.9" cy="930.7"/><circle cx="319.8" cy="929.6"/><circle cx="319.8" cy="934.8"/><circle cx="319.8" cy="961.0"/><circle cx="320.0" cy="952.3"/><circle cx="326.9" cy="952.5"/><circle cx="327.0" cy="945.6"/><circle cx="327.0" cy="929.9"/><circle cx="326.9" cy="915.3"/><circle cx="327.0" cy="943.2"/><circle cx="326.9" cy="948.9"/><circle cx="327.0" cy="968.8"/><circle cx="326.9" cy="922.1"/><circle cx="326.9" cy="926.0"/><circle cx="329.4" cy="906.6"/><circle cx="329.5" cy="960.9"/><circle cx="329.5" cy="943.5"/><circle cx="329.4" cy="958.0"/><circle cx="329.4" cy="964.4"/><circle cx="333.0" cy="968.0"/><circle cx="333.0" cy="968.9"/><circle cx="333.0" cy="939.8"/><circle cx="332.9" cy="965.3"/><circle cx="332.9" cy="968.0"/><circle cx="334.2" cy="969.2"/><circle cx="334.2" cy="964.6"/><circle cx="340.0" cy="922.1"/><circle cx="340.0" cy="946.7"/><circle cx="340.0" cy="931.9"/><circle cx="339.9" cy="932.6"/><circle cx="340.1" cy="944.3"/><circle cx="342.6" cy="929.6"/><circle cx="342.5" cy="944.1"/><circle cx="342.6" cy="968.2"/><circle cx="342.5" cy="952.4"/><circle cx="342.6" cy="918.6"/><circle cx="342.6" cy="935.5"/><circle cx="342.6" cy="939.1"/><circle cx="342.7" cy="940.2"/><circle cx="342.6" cy="964.8"/><circle cx="342.6" cy="966.8"/><circle cx="343.8" cy="912.4"/><circle cx="343.8" cy="963.4"/><circle cx="343.7" cy="919.1"/><circle cx="343.7" cy="943.7"/><circle cx="343.8" cy="901.7"/><circle cx="343.7" cy="932.9"/><circle cx="343.6" cy="935.0"/><circle cx="343.8" cy="910.4"/><circle cx="343.7" cy="970.2"/><circle cx="343.8" cy="913.9"/><circle cx="343.7" cy="937.0"/><circle cx="344.6" cy="940.5"/><circle cx="344.8" cy="967.1"/><circle cx="344.7" cy="961.9"/><circle cx="344.8" cy="926.7"/><circle cx="344.7" cy="963.2"/><circle cx="344.7" cy="959.1"/><circle cx="344.7" cy="954.9"/><circle cx="344.7" cy="939.2"/><circle cx="344.7" cy="951.8"/><circle cx="346.0" cy="944.8"/><circle cx="346.0" cy="967.6"/><circle cx="345.9" cy="956.5"/><circle cx="345.9" cy="962.6"/><circle cx="346.0" cy="922.7"/><circle cx="346.0" cy="966.9"/><circle cx="346.0" cy="966.3"/><circle cx="350.5" cy="964.1"/><circle cx="350.5" cy="963.8"/><circle cx="350.4" cy="960.1"/><circle cx="350.4" cy="940.3"/><circle cx="350.5" cy="953.1"/><circle cx="350.5" cy="947.6"/><circle cx="353.3" cy="965.4"/><circle cx="353.3" cy="903.0"/><circle cx="353.3" cy="932.1"/><circle cx="353.2" cy="941.9"/><circle cx="353.2" cy="957.0"/><circle cx="355.5" cy="936.2"/><circle cx="355.3" cy="951.3"/><circle cx="355.4" cy="963.8"/><circle cx="355.4" cy="960.0"/><circle cx="357.8" cy="931.0"/><circle cx="357.9" cy="907.0"/><circle cx="357.8" cy="959.1"/><circle cx="357.8" cy="917.8"/><circle cx="357.9" cy="946.7"/><circle cx="357.8" cy="953.3"/><circle cx="357.8" cy="930.4"/><circle cx="359.2" cy="914.0"/><circle cx="359.1" cy="902.9"/><circle cx="359.1" cy="929.4"/><circle cx="359.0" cy="941.7"/><circle cx="359.0" cy="949.0"/><circle cx="359.1" cy="944.1"/><circle cx="359.1" cy="924.9"/><circle cx="359.1" cy="949.2"/><circle cx="359.0" cy="953.8"/><circle cx="360.3" cy="963.9"/><circle cx="360.2" cy="940.0"/><circle cx="360.2" cy="944.3"/><circle cx="360.2" cy="963.7"/><circle cx="360.3" cy="923.6"/><circle cx="360.2" cy="958.3"/><circle cx="360.2" cy="952.4"/><circle cx="360.4" cy="950.2"/><circle cx="367.3" cy="919.2"/><circle cx="367.3" cy="961.0"/><circle cx="367.4" cy="955.0"/><circle cx="367.3" cy="957.4"/><circle cx="367.4" cy="905.2"/><circle cx="368.5" cy="968.7"/><circle cx="368.4" cy="961.5"/><circle cx="368.4" cy="941.4"/><circle cx="368.5" cy="955.9"/><circle cx="368.4" cy="914.4"/><circle cx="368.4" cy="928.4"/><circle cx="372.7" cy="963.6"/><circle cx="372.8" cy="925.9"/><circle cx="372.9" cy="941.1"/><circle cx="372.9" cy="909.2"/><circle cx="372.8" cy="926.4"/><circle cx="372.8" cy="902.2"/><circle cx="376.9" cy="963.3"/><circle cx="376.8" cy="913.8"/><circle cx="376.8" cy="941.6"/><circle cx="376.9" cy="964.6"/><circle cx="376.8" cy="929.9"/><circle cx="376.8" cy="916.8"/><circle cx="376.9" cy="948.8"/><circle cx="376.9" cy="954.9"/><circle cx="376.8" cy="941.1"/><circle cx="376.8" cy="919.1"/><circle cx="376.7" cy="968.5"/></g>
<g fill="#e3555f"><circle cx="291.3" cy="596.0"/><circle cx="292.5" cy="604.9"/><circle cx="293.7" cy="618.0"/><circle cx="308.9" cy="632.1"/><circle cx="289.0" cy="657.4"/><circle cx="293.7" cy="657.4"/><circle cx="289.0" cy="674.3"/><circle cx="291.3" cy="681.1"/><circle cx="291.3" cy="700.3"/><circle cx="293.7" cy="703.1"/><circle cx="293.7" cy="706.6"/><circle cx="301.9" cy="706.1"/><circle cx="291.3" cy="714.3"/><circle cx="291.3" cy="723.5"/><circle cx="289.0" cy="732.4"/><circle cx="293.7" cy="732.8"/><circle cx="289.0" cy="737.1"/><circle cx="291.3" cy="742.0"/><circle cx="291.3" cy="751.1"/><circle cx="291.3" cy="755.8"/><circle cx="301.9" cy="750.0"/><circle cx="304.2" cy="760.5"/><circle cx="291.3" cy="769.2"/><circle cx="320.9" cy="655.0"/><circle cx="335.2" cy="601.6"/><circle cx="355.1" cy="600.2"/><circle cx="361.5" cy="597.6"/><circle cx="367.3" cy="618.0"/><circle cx="367.3" cy="624.1"/><circle cx="367.3" cy="632.0"/><circle cx="345.8" cy="629.4"/><circle cx="335.2" cy="655.7"/><circle cx="345.8" cy="651.5"/><circle cx="350.0" cy="652.9"/><circle cx="367.3" cy="656.9"/><circle cx="345.8" cy="666.9"/><circle cx="355.1" cy="669.7"/><circle cx="335.2" cy="708.9"/><circle cx="345.8" cy="713.3"/><circle cx="355.1" cy="713.3"/><circle cx="335.2" cy="719.9"/><circle cx="352.8" cy="718.0"/><circle cx="346.9" cy="722.9"/><circle cx="367.3" cy="717.5"/><circle cx="355.1" cy="730.4"/><circle cx="362.6" cy="731.8"/><circle cx="335.2" cy="739.5"/><circle cx="365.7" cy="743.3"/><circle cx="367.3" cy="748.9"/><circle cx="346.2" cy="755.9"/><circle cx="355.1" cy="755.7"/><circle cx="335.2" cy="762.0"/><circle cx="346.9" cy="766.9"/><circle cx="367.3" cy="765.8"/><circle cx="290.8" cy="772.6"/><circle cx="288.9" cy="789.8"/><circle cx="309.0" cy="795.5"/><circle cx="293.3" cy="798.4"/><circle cx="293.7" cy="808.8"/><circle cx="317.2" cy="807.8"/><circle cx="309.0" cy="812.9"/><circle cx="317.2" cy="812.6"/><circle cx="291.4" cy="821.5"/><circle cx="294.0" cy="822.8"/><circle cx="334.9" cy="784.4"/><circle cx="345.8" cy="777.1"/><circle cx="347.3" cy="775.8"/><circle cx="345.8" cy="787.2"/><circle cx="346.7" cy="794.9"/><circle cx="346.7" cy="798.7"/><circle cx="346.7" cy="802.5"/><circle cx="335.2" cy="816.7"/><circle cx="338.4" cy="816.4"/><circle cx="338.4" cy="820.6"/><circle cx="346.7" cy="810.1"/><circle cx="346.0" cy="815.8"/><circle cx="352.4" cy="815.6"/><circle cx="354.9" cy="820.9"/><circle cx="335.9" cy="832.3"/><circle cx="347.3" cy="829.1"/><circle cx="346.7" cy="835.5"/><circle cx="346.7" cy="838.0"/><circle cx="346.0" cy="841.8"/><circle cx="352.4" cy="839.9"/><circle cx="347.3" cy="846.9"/><circle cx="349.8" cy="846.9"/><circle cx="349.8" cy="851.4"/><circle cx="355.6" cy="848.2"/><circle cx="355.6" cy="850.7"/><circle cx="335.2" cy="845.9"/><circle cx="309.2" cy="847.6"/><circle cx="291.2" cy="843.1"/><circle cx="291.2" cy="851.4"/><circle cx="291.2" cy="855.8"/><circle cx="291.2" cy="859.2"/><circle cx="320.4" cy="853.7"/><circle cx="321.3" cy="855.8"/><circle cx="335.9" cy="860.9"/><circle cx="320.6" cy="867.0"/><circle cx="320.6" cy="876.1"/><circle cx="320.6" cy="881.2"/><circle cx="309.2" cy="872.3"/><circle cx="309.2" cy="876.1"/><circle cx="294.0" cy="874.2"/><circle cx="287.6" cy="879.7"/><circle cx="290.2" cy="878.7"/><circle cx="304.8" cy="881.2"/><circle cx="309.2" cy="883.7"/><circle cx="308.6" cy="888.8"/><circle cx="311.7" cy="890.1"/><circle cx="314.3" cy="889.5"/><circle cx="310.5" cy="893.9"/><circle cx="301.6" cy="891.4"/><circle cx="335.9" cy="883.5"/><circle cx="338.4" cy="887.6"/><circle cx="347.3" cy="862.2"/><circle cx="349.2" cy="863.4"/><circle cx="347.3" cy="868.5"/><circle cx="346.7" cy="872.3"/><circle cx="346.7" cy="877.4"/><circle cx="349.2" cy="879.9"/><circle cx="346.7" cy="883.7"/><circle cx="346.7" cy="888.2"/><circle cx="352.4" cy="867.2"/><circle cx="352.4" cy="886.9"/><circle cx="352.4" cy="890.7"/><circle cx="354.9" cy="893.3"/><circle cx="321.9" cy="894.5"/><circle cx="318.1" cy="897.1"/><circle cx="287.6" cy="895.8"/><circle cx="294.0" cy="899.0"/><circle cx="302.9" cy="897.7"/><circle cx="335.9" cy="899.0"/><circle cx="359.4" cy="877.4"/><circle cx="362.6" cy="773.9"/><circle cx="367.1" cy="773.9"/><circle cx="363.9" cy="784.1"/><circle cx="366.4" cy="799.3"/><circle cx="362.6" cy="808.2"/><circle cx="365.8" cy="808.8"/><circle cx="362.6" cy="815.8"/><circle cx="362.0" cy="819.0"/><circle cx="361.4" cy="822.2"/><circle cx="362.0" cy="825.3"/><circle cx="362.6" cy="827.9"/><circle cx="367.1" cy="829.8"/><circle cx="360.7" cy="837.4"/><circle cx="376.8" cy="835.5"/><circle cx="367.1" cy="852.0"/><circle cx="371.5" cy="849.5"/><circle cx="371.8" cy="860.5"/><circle cx="360.7" cy="859.0"/><circle cx="365.8" cy="866.0"/><circle cx="362.0" cy="868.5"/><circle cx="362.6" cy="871.1"/><circle cx="361.4" cy="876.1"/><circle cx="362.6" cy="878.7"/><circle cx="371.5" cy="873.6"/><circle cx="371.5" cy="877.4"/><circle cx="371.5" cy="881.2"/><circle cx="371.5" cy="885.0"/><circle cx="376.8" cy="886.3"/><circle cx="367.1" cy="885.0"/><circle cx="366.4" cy="892.7"/><circle cx="362.0" cy="893.9"/><circle cx="361.4" cy="897.7"/><circle cx="371.5" cy="898.4"/><circle cx="285.5" cy="961.2"/><circle cx="285.5" cy="944.8"/><circle cx="285.5" cy="949.7"/><circle cx="285.5" cy="959.7"/><circle cx="285.4" cy="913.2"/><circle cx="285.5" cy="905.2"/><circle cx="285.5" cy="916.0"/><circle cx="285.6" cy="954.6"/><circle cx="285.5" cy="910.9"/><circle cx="285.4" cy="927.3"/><circle cx="285.5" cy="938.1"/><circle cx="285.6" cy="955.3"/><circle cx="285.5" cy="931.1"/><circle cx="285.6" cy="943.8"/><circle cx="289.1" cy="901.6"/><circle cx="289.3" cy="907.1"/><circle cx="289.2" cy="945.3"/><circle cx="289.2" cy="922.6"/><circle cx="289.2" cy="930.0"/><circle cx="289.2" cy="944.8"/><circle cx="289.1" cy="959.2"/><circle cx="289.1" cy="948.2"/><circle cx="289.2" cy="912.4"/><circle cx="294.0" cy="967.8"/><circle cx="293.9" cy="930.0"/><circle cx="293.9" cy="921.2"/><circle cx="293.9" cy="962.2"/><circle cx="294.0" cy="957.0"/><circle cx="293.9" cy="960.9"/><circle cx="293.9" cy="935.5"/><circle cx="294.0" cy="950.9"/><circle cx="293.9" cy="925.2"/><circle cx="293.9" cy="931.3"/><circle cx="294.0" cy="956.8"/><circle cx="294.0" cy="953.1"/><circle cx="296.2" cy="957.6"/><circle cx="296.0" cy="960.5"/><circle cx="296.1" cy="910.3"/><circle cx="296.2" cy="926.5"/><circle cx="296.1" cy="937.6"/><circle cx="296.0" cy="947.8"/><circle cx="296.0" cy="964.3"/><circle cx="296.0" cy="918.8"/><circle cx="300.9" cy="920.2"/><circle cx="300.8" cy="908.9"/><circle cx="300.8" cy="963.3"/><circle cx="300.8" cy="936.3"/><circle cx="300.8" cy="946.9"/><circle cx="300.8" cy="907.5"/><circle cx="300.9" cy="922.8"/><circle cx="300.8" cy="952.7"/><circle cx="302.3" cy="944.9"/><circle cx="302.2" cy="943.0"/><circle cx="302.4" cy="963.9"/><circle cx="302.4" cy="902.0"/><circle cx="302.2" cy="923.2"/><circle cx="302.4" cy="970.3"/><circle cx="302.2" cy="932.2"/><circle cx="302.4" cy="958.3"/><circle cx="303.5" cy="969.4"/><circle cx="303.5" cy="957.2"/><circle cx="303.4" cy="943.9"/><circle cx="303.4" cy="937.7"/><circle cx="303.4" cy="932.2"/><circle cx="303.4" cy="929.6"/><circle cx="303.5" cy="969.8"/><circle cx="303.5" cy="959.1"/><circle cx="304.4" cy="940.7"/><circle cx="304.5" cy="914.0"/><circle cx="304.5" cy="943.3"/><circle cx="304.4" cy="949.9"/><circle cx="304.4" cy="943.4"/><circle cx="304.5" cy="954.4"/><circle cx="304.5" cy="959.4"/><circle cx="304.5" cy="955.6"/><circle cx="304.4" cy="929.7"/><circle cx="304.4" cy="951.7"/><circle cx="304.5" cy="930.2"/><circle cx="304.5" cy="955.6"/><circle cx="304.4" cy="903.3"/><circle cx="304.5" cy="922.0"/><circle cx="304.5" cy="963.0"/><circle cx="304.5" cy="964.9"/><circle cx="310.3" cy="968.7"/><circle cx="310.3" cy="951.8"/><circle cx="310.2" cy="936.3"/><circle cx="310.3" cy="928.6"/><circle cx="310.3" cy="969.9"/><circle cx="310.3" cy="954.8"/><circle cx="310.3" cy="938.4"/><circle cx="310.2" cy="946.0"/><circle cx="311.6" cy="945.8"/><circle cx="311.6" cy="943.4"/><circle cx="311.7" cy="968.4"/><circle cx="311.7" cy="937.8"/><circle cx="311.7" cy="959.6"/><circle cx="311.7" cy="954.0"/><circle cx="311.7" cy="911.7"/><circle cx="311.7" cy="935.9"/><circle cx="312.7" cy="924.7"/><circle cx="312.7" cy="954.4"/><circle cx="312.8" cy="940.0"/><circle cx="312.8" cy="934.9"/><circle cx="312.7" cy="966.8"/><circle cx="312.7" cy="925.9"/><circle cx="312.8" cy="966.2"/><circle cx="312.7" cy="951.5"/><circle cx="312.7" cy="955.1"/><circle cx="312.7" cy="959.6"/><circle cx="312.7" cy="937.7"/><circle cx="312.7" cy="913.6"/><circle cx="312.9" cy="963.8"/><circle cx="318.7" cy="956.4"/><circle cx="318.7" cy="943.7"/><circle cx="318.6" cy="970.7"/><circle cx="318.6" cy="946.3"/><circle cx="318.7" cy="961.3"/><circle cx="318.7" cy="963.0"/><circle cx="318.7" cy="961.8"/><circle cx="318.7" cy="969.5"/><circle cx="318.7" cy="923.0"/><circle cx="318.7" cy="968.3"/><circle cx="318.7" cy="908.9"/><circle cx="318.7" cy="921.0"/><circle cx="320.9" cy="909.2"/><circle cx="320.9" cy="910.3"/><circle cx="320.9" cy="948.1"/><circle cx="321.0" cy="944.0"/><circle cx="321.0" cy="969.2"/><circle cx="321.0" cy="961.4"/><circle cx="322.4" cy="921.1"/><circle cx="322.3" cy="947.4"/><circle cx="322.2" cy="908.8"/><circle cx="322.3" cy="956.6"/><circle cx="322.3" cy="923.5"/><circle cx="322.3" cy="937.2"/><circle cx="322.4" cy="917.3"/><circle cx="322.3" cy="942.9"/><circle cx="322.3" cy="930.1"/><circle cx="322.3" cy="914.5"/><circle cx="323.7" cy="909.0"/><circle cx="323.6" cy="922.1"/><circle cx="323.7" cy="959.3"/><circle cx="323.5" cy="901.2"/><circle cx="323.5" cy="943.2"/><circle cx="323.6" cy="970.0"/><circle cx="323.5" cy="925.0"/><circle cx="323.5" cy="955.1"/><circle cx="323.6" cy="967.7"/><circle cx="323.7" cy="950.6"/><circle cx="324.8" cy="927.1"/><circle cx="324.7" cy="950.4"/><circle cx="324.7" cy="947.4"/><circle cx="324.7" cy="968.6"/><circle cx="324.7" cy="952.4"/><circle cx="324.7" cy="927.1"/><circle cx="324.7" cy="917.6"/><circle cx="324.6" cy="924.6"/><circle cx="324.8" cy="960.2"/><circle cx="324.7" cy="959.7"/><circle cx="324.7" cy="913.8"/><circle cx="324.7" cy="956.7"/><circle cx="324.7" cy="955.9"/><circle cx="326.0" cy="947.9"/><circle cx="325.8" cy="965.0"/><circle cx="325.8" cy="942.6"/><circle cx="326.0" cy="970.2"/><circle cx="325.9" cy="929.5"/><circle cx="335.1" cy="903.7"/><circle cx="335.2" cy="961.3"/><circle cx="335.1" cy="965.0"/><circle cx="335.1" cy="970.7"/><circle cx="335.2" cy="918.8"/><circle cx="335.1" cy="932.8"/><circle cx="335.1" cy="940.4"/><circle cx="336.3" cy="937.5"/><circle cx="336.4" cy="901.9"/><circle cx="336.5" cy="917.4"/><circle cx="336.3" cy="914.4"/><circle cx="336.4" cy="904.7"/><circle cx="336.4" cy="907.1"/><circle cx="336.4" cy="949.1"/><circle cx="336.3" cy="909.3"/><circle cx="336.3" cy="945.5"/><circle cx="336.3" cy="950.1"/><circle cx="336.3" cy="911.7"/><circle cx="336.3" cy="901.2"/><circle cx="337.5" cy="947.0"/><circle cx="337.6" cy="908.2"/><circle cx="337.5" cy="950.9"/><circle cx="337.6" cy="929.2"/><circle cx="337.5" cy="938.1"/><circle cx="337.6" cy="945.7"/><circle cx="338.9" cy="932.9"/><circle cx="338.9" cy="924.6"/><circle cx="338.9" cy="965.7"/><circle cx="338.9" cy="902.9"/><circle cx="338.9" cy="958.3"/><circle cx="338.9" cy="960.5"/><circle cx="338.9" cy="947.4"/><circle cx="338.9" cy="926.1"/><circle cx="338.8" cy="903.9"/><circle cx="347.0" cy="968.4"/><circle cx="347.0" cy="952.5"/><circle cx="347.1" cy="961.6"/><circle cx="347.0" cy="940.5"/><circle cx="347.0" cy="944.8"/><circle cx="347.1" cy="961.7"/><circle cx="347.1" cy="970.2"/><circle cx="347.0" cy="942.0"/><circle cx="347.0" cy="936.8"/><circle cx="348.2" cy="946.9"/><circle cx="348.2" cy="953.0"/><circle cx="348.3" cy="951.2"/><circle cx="348.3" cy="909.5"/><circle cx="348.2" cy="904.2"/><circle cx="348.2" cy="923.2"/><circle cx="348.2" cy="966.3"/><circle cx="348.2" cy="953.2"/><circle cx="348.1" cy="968.9"/><circle cx="348.2" cy="962.3"/><circle cx="348.2" cy="964.2"/><circle cx="349.4" cy="923.3"/><circle cx="349.5" cy="929.9"/><circle cx="349.4" cy="911.2"/><circle cx="349.5" cy="909.9"/><circle cx="349.4" cy="927.7"/><circle cx="349.5" cy="936.8"/><circle cx="349.5" cy="904.8"/><circle cx="349.4" cy="963.3"/><circle cx="349.5" cy="961.9"/><circle cx="349.4" cy="966.9"/><circle cx="350.6" cy="922.2"/><circle cx="350.7" cy="940.7"/><circle cx="350.7" cy="918.2"/><circle cx="350.6" cy="929.7"/><circle cx="350.7" cy="914.9"/><circle cx="350.7" cy="966.3"/><circle cx="350.6" cy="937.8"/><circle cx="350.6" cy="945.5"/><circle cx="350.7" cy="951.1"/><circle cx="350.6" cy="915.0"/><circle cx="350.7" cy="969.1"/><circle cx="351.9" cy="968.9"/><circle cx="351.8" cy="955.7"/><circle cx="351.9" cy="945.5"/><circle cx="351.8" cy="953.0"/><circle cx="351.9" cy="947.4"/><circle cx="351.9" cy="926.6"/><circle cx="351.8" cy="925.6"/><circle cx="351.8" cy="942.9"/><circle cx="351.9" cy="904.4"/><circle cx="351.9" cy="942.0"/><circle cx="351.8" cy="967.4"/><circle cx="351.9" cy="957.1"/><circle cx="351.8" cy="959.8"/><circle cx="351.8" cy="933.1"/><circle cx="354.2" cy="936.1"/><circle cx="354.1" cy="944.9"/><circle cx="354.2" cy="949.0"/><circle cx="354.1" cy="948.6"/><circle cx="354.1" cy="944.6"/><circle cx="354.1" cy="944.7"/><circle cx="354.2" cy="926.0"/><circle cx="354.2" cy="966.8"/><circle cx="354.1" cy="904.2"/><circle cx="354.2" cy="940.5"/><circle cx="354.2" cy="952.6"/><circle cx="354.2" cy="969.7"/><circle cx="354.1" cy="921.8"/><circle cx="354.2" cy="958.3"/><circle cx="354.1" cy="912.8"/><circle cx="354.2" cy="968.9"/><circle cx="354.2" cy="920.1"/><circle cx="361.3" cy="965.2"/><circle cx="361.3" cy="960.5"/><circle cx="361.4" cy="941.9"/><circle cx="361.3" cy="968.9"/><circle cx="362.5" cy="916.7"/><circle cx="362.4" cy="903.2"/><circle cx="362.3" cy="956.5"/><circle cx="362.4" cy="949.5"/><circle cx="362.4" cy="913.2"/><circle cx="362.4" cy="948.5"/><circle cx="363.8" cy="922.8"/><circle cx="363.8" cy="934.3"/><circle cx="363.7" cy="914.3"/><circle cx="363.9" cy="956.7"/><circle cx="363.8" cy="942.2"/><circle cx="363.8" cy="951.6"/><circle cx="363.9" cy="970.3"/><circle cx="363.7" cy="912.5"/><circle cx="363.9" cy="933.1"/><circle cx="363.7" cy="937.7"/><circle cx="365.2" cy="950.8"/><circle cx="365.2" cy="927.3"/><circle cx="365.0" cy="964.0"/><circle cx="365.2" cy="905.6"/><circle cx="365.1" cy="954.3"/><circle cx="365.2" cy="949.1"/><circle cx="365.0" cy="970.0"/><circle cx="365.1" cy="911.2"/><circle cx="365.1" cy="945.7"/><circle cx="365.9" cy="947.9"/><circle cx="366.1" cy="925.1"/><circle cx="366.0" cy="947.6"/><circle cx="366.0" cy="945.6"/><circle cx="365.9" cy="901.3"/><circle cx="366.0" cy="919.8"/><circle cx="366.0" cy="964.5"/><circle cx="365.9" cy="943.1"/><circle cx="366.1" cy="933.4"/><circle cx="365.9" cy="934.8"/><circle cx="366.0" cy="957.3"/><circle cx="365.9" cy="948.6"/><circle cx="369.5" cy="959.6"/><circle cx="369.6" cy="964.6"/><circle cx="369.5" cy="962.3"/><circle cx="369.5" cy="923.8"/><circle cx="369.6" cy="955.2"/><circle cx="369.5" cy="920.9"/><circle cx="369.5" cy="905.8"/><circle cx="369.6" cy="967.2"/><circle cx="370.9" cy="926.4"/><circle cx="370.7" cy="932.3"/><circle cx="370.7" cy="939.4"/><circle cx="370.8" cy="970.5"/><circle cx="370.8" cy="934.5"/><circle cx="370.7" cy="952.4"/><circle cx="370.8" cy="958.8"/><circle cx="370.7" cy="961.5"/><circle cx="370.7" cy="948.0"/><circle cx="370.8" cy="931.0"/><circle cx="370.7" cy="961.2"/><circle cx="370.7" cy="920.2"/><circle cx="372.0" cy="956.6"/><circle cx="372.1" cy="927.8"/><circle cx="372.0" cy="913.0"/><circle cx="372.0" cy="970.5"/><circle cx="371.9" cy="910.5"/><circle cx="372.0" cy="959.6"/><circle cx="372.0" cy="955.0"/><circle cx="371.9" cy="966.8"/><circle cx="372.1" cy="957.9"/><circle cx="373.1" cy="958.0"/><circle cx="373.3" cy="928.3"/><circle cx="373.3" cy="941.7"/><circle cx="373.2" cy="968.4"/><circle cx="373.3" cy="943.6"/><circle cx="373.2" cy="941.1"/><circle cx="373.2" cy="929.1"/><circle cx="373.2" cy="970.2"/><circle cx="373.2" cy="949.1"/><circle cx="373.3" cy="959.1"/><circle cx="374.2" cy="958.1"/><circle cx="374.2" cy="904.7"/><circle cx="374.3" cy="935.8"/><circle cx="374.3" cy="930.1"/><circle cx="374.3" cy="960.9"/><circle cx="375.6" cy="920.6"/><circle cx="375.6" cy="966.2"/><circle cx="375.7" cy="930.6"/></g>
<text x="134.1" y="992.8" font-size="16" letter-spacing="0.3" text-anchor="middle">7050</text>
<text x="193.3" y="992.8" font-size="16" letter-spacing="0.3" text-anchor="middle">7100</text>
<text x="252.6" y="992.8" font-size="16" letter-spacing="0.3" text-anchor="middle">7150</text>
<text x="311.8" y="992.8" font-size="16" letter-spacing="0.3" text-anchor="middle">7200</text>
<text x="371.1" y="992.8" font-size="16" letter-spacing="0.3" text-anchor="middle">7250</text>
<text x="430.3" y="992.8" font-size="16" letter-spacing="0.3" text-anchor="middle">7300</text>
<text x="489.6" y="992.8" font-size="16" letter-spacing="0.3" text-anchor="middle">7350</text>
<text x="121.1" y="950" font-size="16" letter-spacing="0.3" text-anchor="end">1000</text>
<text x="121.1" y="895.2" font-size="16" letter-spacing="0.3" text-anchor="end">2000</text>
<text x="121.1" y="840.4" font-size="16" letter-spacing="0.3" text-anchor="end">3000</text>
<text x="121.1" y="785.6" font-size="16" letter-spacing="0.3" text-anchor="end">4000</text>
<text x="121.1" y="730.8" font-size="16" letter-spacing="0.3" text-anchor="end">5000</text>
<text x="121.1" y="676" font-size="16" letter-spacing="0.3" text-anchor="end">6000</text>
<text x="121.1" y="621.2" font-size="16" letter-spacing="0.3" text-anchor="end">7000</text>
<text x="121.1" y="566.4" font-size="16" letter-spacing="0.3" text-anchor="end">8000</text>
<path d="M626.6 970.6V959.6M626.6 531.8V542.8M688.6 970.6V959.6M688.6 531.8V542.8M750.7 970.6V959.6M750.7 531.8V542.8M812.8 970.6V959.6M812.8 531.8V542.8M874.8 970.6V959.6M874.8 531.8V542.8M936.9 970.6V959.6M936.9 531.8V542.8M998.9 970.6V959.6M998.9 531.8V542.8M626.7 952.7H637.7M999 952.7H988M626.7 894.8H637.7M999 894.8H988M626.7 836.9H637.7M999 836.9H988M626.7 779H637.7M999 779H988M626.7 721H637.7M999 721H988M626.7 663.1H637.7M999 663.1H988M626.7 605.2H637.7M999 605.2H988M626.7 547.3H637.7M999 547.3H988" stroke="#7e7e7e" stroke-width="1.3" fill="none"/>
<rect x="626.7" y="531.8" width="372.3" height="438.8" fill="none" stroke="#7e7e7e" stroke-width="1.3"/>
<g fill="#84a94f"><circle cx="673.5" cy="793.9"/><circle cx="673.5" cy="795.4"/><circle cx="673.5" cy="796.3"/><circle cx="700.7" cy="825.9"/><circle cx="700.7" cy="827.5"/><circle cx="704.5" cy="828.1"/><circle cx="704.5" cy="829.1"/><circle cx="709.5" cy="827.1"/><circle cx="710.7" cy="828.5"/><circle cx="711.9" cy="828.8"/><circle cx="716.9" cy="829.0"/><circle cx="714.4" cy="829.7"/><circle cx="705.6" cy="830.4"/><circle cx="711.9" cy="830.5"/><circle cx="672.3" cy="791.7"/><circle cx="672.2" cy="804.6"/><circle cx="666.0" cy="810.4"/><circle cx="668.6" cy="811.4"/><circle cx="668.6" cy="811.9"/><circle cx="668.6" cy="812.9"/><circle cx="664.8" cy="814.5"/><circle cx="676.0" cy="802.6"/><circle cx="678.4" cy="803.0"/><circle cx="678.4" cy="806.6"/><circle cx="679.7" cy="807.0"/><circle cx="679.7" cy="807.5"/><circle cx="679.7" cy="810.2"/><circle cx="681.0" cy="810.2"/><circle cx="679.7" cy="810.8"/><circle cx="681.0" cy="810.8"/><circle cx="679.7" cy="812.2"/><circle cx="682.2" cy="811.8"/><circle cx="682.2" cy="812.7"/><circle cx="682.2" cy="813.8"/><circle cx="681.2" cy="813.3"/><circle cx="681.2" cy="814.2"/><circle cx="690.8" cy="812.1"/><circle cx="692.1" cy="812.9"/><circle cx="694.6" cy="809.4"/><circle cx="694.6" cy="810.0"/><circle cx="635.1" cy="831.4"/><circle cx="636.4" cy="830.6"/><circle cx="638.9" cy="830.4"/><circle cx="645.1" cy="824.4"/><circle cx="647.5" cy="826.9"/><circle cx="646.2" cy="833.4"/><circle cx="639.9" cy="833.3"/><circle cx="648.7" cy="828.9"/><circle cx="647.5" cy="829.4"/><circle cx="647.5" cy="831.2"/><circle cx="649.9" cy="829.4"/><circle cx="650.6" cy="829.4"/><circle cx="650.6" cy="833.0"/><circle cx="652.4" cy="828.8"/><circle cx="652.4" cy="831.4"/><circle cx="653.7" cy="827.2"/><circle cx="653.7" cy="828.8"/><circle cx="654.9" cy="831.6"/><circle cx="657.5" cy="819.6"/><circle cx="657.5" cy="824.2"/><circle cx="657.5" cy="824.5"/><circle cx="657.5" cy="825.1"/><circle cx="658.6" cy="824.6"/><circle cx="658.6" cy="825.4"/><circle cx="658.6" cy="825.7"/><circle cx="658.7" cy="829.4"/><circle cx="660.0" cy="828.1"/><circle cx="658.7" cy="826.4"/><circle cx="662.4" cy="826.5"/><circle cx="662.4" cy="824.2"/><circle cx="663.7" cy="824.1"/><circle cx="661.1" cy="819.0"/><circle cx="663.7" cy="816.9"/><circle cx="663.7" cy="821.1"/><circle cx="663.7" cy="821.7"/><circle cx="663.7" cy="822.3"/><circle cx="663.7" cy="822.9"/><circle cx="664.9" cy="818.5"/><circle cx="664.9" cy="820.3"/><circle cx="664.9" cy="821.3"/><circle cx="664.9" cy="821.9"/><circle cx="664.9" cy="822.6"/><circle cx="664.9" cy="823.1"/><circle cx="666.1" cy="819.2"/><circle cx="666.1" cy="817.2"/><circle cx="666.1" cy="817.8"/><circle cx="667.3" cy="817.1"/><circle cx="668.6" cy="815.1"/><circle cx="664.9" cy="814.5"/><circle cx="681.0" cy="814.8"/><circle cx="681.0" cy="815.6"/><circle cx="682.2" cy="814.5"/><circle cx="682.2" cy="816.4"/><circle cx="683.3" cy="816.4"/><circle cx="683.3" cy="820.1"/><circle cx="683.3" cy="820.7"/><circle cx="685.9" cy="819.9"/><circle cx="688.4" cy="816.4"/><circle cx="690.9" cy="820.0"/><circle cx="692.1" cy="817.0"/><circle cx="694.7" cy="816.4"/><circle cx="694.7" cy="821.9"/><circle cx="690.9" cy="822.4"/><circle cx="692.1" cy="823.2"/><circle cx="686.8" cy="823.1"/><circle cx="687.2" cy="823.9"/><circle cx="688.4" cy="824.7"/><circle cx="689.5" cy="828.4"/><circle cx="692.1" cy="824.9"/><circle cx="694.6" cy="826.1"/><circle cx="694.6" cy="828.6"/><circle cx="694.6" cy="829.7"/><circle cx="694.6" cy="830.7"/><circle cx="690.9" cy="829.7"/><circle cx="694.6" cy="833.4"/><circle cx="672.2" cy="802.6"/><circle cx="669.7" cy="808.3"/><circle cx="668.6" cy="813.6"/><circle cx="668.6" cy="813.9"/><circle cx="679.7" cy="807.4"/><circle cx="682.2" cy="814.0"/><circle cx="682.2" cy="814.4"/><circle cx="694.6" cy="809.7"/><circle cx="647.5" cy="829.2"/><circle cx="647.5" cy="831.5"/><circle cx="649.9" cy="829.7"/><circle cx="650.6" cy="829.6"/><circle cx="650.1" cy="832.3"/><circle cx="652.4" cy="830.5"/><circle cx="653.7" cy="829.0"/><circle cx="654.9" cy="828.1"/><circle cx="662.4" cy="824.1"/><circle cx="662.4" cy="823.7"/><circle cx="662.4" cy="823.3"/><circle cx="664.9" cy="822.9"/><circle cx="666.1" cy="820.2"/><circle cx="683.3" cy="815.6"/><circle cx="683.3" cy="816.1"/><circle cx="685.9" cy="820.1"/><circle cx="686.8" cy="822.9"/><circle cx="688.4" cy="824.5"/><circle cx="694.6" cy="827.6"/><circle cx="637.6" cy="834.2"/><circle cx="640.1" cy="835.5"/><circle cx="638.9" cy="837.4"/><circle cx="640.1" cy="837.0"/><circle cx="646.3" cy="834.0"/><circle cx="646.3" cy="835.1"/><circle cx="648.8" cy="834.7"/><circle cx="688.3" cy="834.6"/><circle cx="692.1" cy="838.9"/><circle cx="712.1" cy="839.9"/><circle cx="715.7" cy="839.2"/><circle cx="712.1" cy="849.2"/><circle cx="719.5" cy="850.3"/><circle cx="700.5" cy="836.7"/><circle cx="700.4" cy="836.4"/><circle cx="700.5" cy="836.1"/><circle cx="700.6" cy="835.9"/><circle cx="700.5" cy="835.5"/><circle cx="700.4" cy="835.2"/><circle cx="700.7" cy="834.8"/><circle cx="700.5" cy="834.6"/><circle cx="700.7" cy="834.2"/><circle cx="700.5" cy="833.9"/><circle cx="700.4" cy="833.5"/><circle cx="700.5" cy="833.2"/><circle cx="700.4" cy="833.0"/><circle cx="700.7" cy="832.7"/><circle cx="700.5" cy="832.0"/><circle cx="700.4" cy="831.7"/><circle cx="700.5" cy="831.5"/><circle cx="700.5" cy="831.0"/><circle cx="700.6" cy="830.8"/><circle cx="700.5" cy="830.4"/><circle cx="700.6" cy="830.1"/><circle cx="700.6" cy="829.9"/><circle cx="700.7" cy="829.5"/><circle cx="706.8" cy="837.3"/><circle cx="707.0" cy="836.8"/><circle cx="706.9" cy="836.0"/><circle cx="706.9" cy="831.0"/><circle cx="708.2" cy="837.3"/><circle cx="708.2" cy="836.7"/><circle cx="708.1" cy="836.0"/><circle cx="708.3" cy="835.7"/><circle cx="708.0" cy="835.1"/><circle cx="708.3" cy="831.0"/><circle cx="709.6" cy="836.6"/><circle cx="709.4" cy="836.0"/><circle cx="709.4" cy="835.6"/><circle cx="709.5" cy="835.1"/><circle cx="709.5" cy="834.6"/><circle cx="709.6" cy="834.1"/><circle cx="709.5" cy="833.5"/><circle cx="709.6" cy="832.9"/><circle cx="709.6" cy="832.4"/><circle cx="709.5" cy="831.9"/><circle cx="709.4" cy="831.3"/><circle cx="710.6" cy="836.6"/><circle cx="710.8" cy="836.2"/><circle cx="710.7" cy="835.7"/><circle cx="710.8" cy="835.0"/><circle cx="710.7" cy="834.6"/><circle cx="710.8" cy="834.0"/><circle cx="710.8" cy="833.6"/><circle cx="710.7" cy="833.0"/><circle cx="710.7" cy="832.4"/><circle cx="710.8" cy="831.9"/><circle cx="712.0" cy="837.1"/><circle cx="712.0" cy="836.6"/><circle cx="712.0" cy="836.2"/><circle cx="712.0" cy="835.7"/><circle cx="712.1" cy="835.2"/><circle cx="712.1" cy="834.6"/><circle cx="711.9" cy="834.0"/><circle cx="712.1" cy="833.6"/><circle cx="711.9" cy="833.0"/><circle cx="712.0" cy="832.7"/><circle cx="711.9" cy="832.2"/><circle cx="712.0" cy="831.7"/><circle cx="712.1" cy="831.0"/><circle cx="713.3" cy="836.7"/><circle cx="713.1" cy="835.9"/><circle cx="713.4" cy="835.3"/><circle cx="713.4" cy="834.9"/><circle cx="713.2" cy="834.3"/><circle cx="713.3" cy="833.5"/><circle cx="713.2" cy="833.2"/><circle cx="713.2" cy="832.5"/><circle cx="713.2" cy="832.1"/><circle cx="714.2" cy="837.1"/><circle cx="714.3" cy="836.6"/><circle cx="714.3" cy="836.3"/><circle cx="714.3" cy="835.6"/><circle cx="714.5" cy="835.2"/><circle cx="714.5" cy="834.4"/><circle cx="714.3" cy="834.1"/><circle cx="714.4" cy="833.6"/><circle cx="714.2" cy="833.0"/><circle cx="714.5" cy="832.4"/><circle cx="714.3" cy="831.8"/><circle cx="714.5" cy="831.5"/><circle cx="718.0" cy="837.3"/><circle cx="717.8" cy="836.5"/><circle cx="728.0" cy="800.8"/><circle cx="772.1" cy="801.2"/><circle cx="786.1" cy="801.3"/><circle cx="768.4" cy="802.8"/><circle cx="772.1" cy="805.9"/><circle cx="772.1" cy="807.3"/><circle cx="803.3" cy="809.4"/><circle cx="828.3" cy="809.3"/><circle cx="747.3" cy="810.1"/><circle cx="857.9" cy="802.5"/><circle cx="905.0" cy="804.8"/><circle cx="905.0" cy="810.9"/><circle cx="769.4" cy="813.7"/><circle cx="727.7" cy="816.0"/><circle cx="748.5" cy="818.1"/><circle cx="772.0" cy="820.3"/><circle cx="736.3" cy="824.8"/><circle cx="753.6" cy="825.4"/><circle cx="785.8" cy="813.7"/><circle cx="785.8" cy="814.7"/><circle cx="785.8" cy="816.6"/><circle cx="814.4" cy="813.9"/><circle cx="828.3" cy="815.7"/><circle cx="814.4" cy="818.6"/><circle cx="783.7" cy="820.2"/><circle cx="808.3" cy="821.5"/><circle cx="828.0" cy="821.7"/><circle cx="830.7" cy="823.4"/><circle cx="784.8" cy="824.6"/><circle cx="830.7" cy="825.1"/><circle cx="836.6" cy="825.7"/><circle cx="783.4" cy="825.6"/><circle cx="803.4" cy="825.6"/><circle cx="852.6" cy="817.7"/><circle cx="891.5" cy="819.9"/><circle cx="888.9" cy="820.6"/><circle cx="905.2" cy="821.2"/><circle cx="925.2" cy="823.1"/><circle cx="913.9" cy="823.6"/><circle cx="922.5" cy="826.1"/><circle cx="723.9" cy="840.0"/><circle cx="723.9" cy="839.4"/><circle cx="725.2" cy="841.2"/><circle cx="725.4" cy="842.5"/><circle cx="725.3" cy="827.9"/><circle cx="725.4" cy="834.8"/><circle cx="726.7" cy="835.5"/><circle cx="726.5" cy="835.8"/><circle cx="726.6" cy="838.0"/><circle cx="726.7" cy="843.4"/><circle cx="726.6" cy="842.6"/><circle cx="726.6" cy="845.0"/><circle cx="726.5" cy="840.9"/><circle cx="726.7" cy="827.2"/><circle cx="726.7" cy="830.7"/><circle cx="727.7" cy="836.4"/><circle cx="727.8" cy="840.1"/><circle cx="727.9" cy="854.4"/><circle cx="727.7" cy="837.5"/><circle cx="727.9" cy="846.3"/><circle cx="727.7" cy="833.8"/><circle cx="727.9" cy="832.2"/><circle cx="729.0" cy="832.2"/><circle cx="728.9" cy="835.3"/><circle cx="728.9" cy="839.3"/><circle cx="729.0" cy="840.5"/><circle cx="729.0" cy="830.4"/><circle cx="729.0" cy="835.8"/><circle cx="729.0" cy="832.1"/><circle cx="732.7" cy="839.6"/><circle cx="732.6" cy="843.1"/><circle cx="736.6" cy="843.5"/><circle cx="736.4" cy="839.9"/><circle cx="736.6" cy="840.5"/><circle cx="736.5" cy="842.7"/><circle cx="740.1" cy="842.6"/><circle cx="740.0" cy="841.6"/><circle cx="740.0" cy="839.5"/><circle cx="744.0" cy="843.0"/><circle cx="744.0" cy="840.8"/><circle cx="744.1" cy="838.6"/><circle cx="745.9" cy="841.8"/><circle cx="745.8" cy="843.2"/><circle cx="747.7" cy="829.1"/><circle cx="747.6" cy="839.8"/><circle cx="747.6" cy="838.5"/><circle cx="749.2" cy="828.3"/><circle cx="749.2" cy="841.9"/><circle cx="751.6" cy="841.8"/><circle cx="751.5" cy="839.2"/><circle cx="751.5" cy="838.1"/><circle cx="753.1" cy="841.3"/><circle cx="753.1" cy="828.1"/><circle cx="754.8" cy="829.3"/><circle cx="756.7" cy="841.7"/><circle cx="758.7" cy="842.3"/><circle cx="760.8" cy="839.9"/><circle cx="765.7" cy="842.1"/><circle cx="765.6" cy="841.4"/><circle cx="765.5" cy="846.4"/><circle cx="770.5" cy="848.8"/><circle cx="770.6" cy="840.3"/><circle cx="770.7" cy="847.0"/><circle cx="772.9" cy="827.3"/><circle cx="772.7" cy="846.9"/><circle cx="772.8" cy="844.2"/><circle cx="772.7" cy="847.9"/><circle cx="775.5" cy="841.4"/><circle cx="775.5" cy="842.1"/><circle cx="775.4" cy="844.2"/><circle cx="779.4" cy="839.6"/><circle cx="779.4" cy="845.6"/><circle cx="779.2" cy="847.6"/><circle cx="779.3" cy="844.1"/><circle cx="779.4" cy="847.7"/><circle cx="779.3" cy="841.2"/><circle cx="779.2" cy="827.8"/><circle cx="779.2" cy="854.5"/><circle cx="779.4" cy="854.0"/><circle cx="780.4" cy="839.7"/><circle cx="780.5" cy="840.8"/><circle cx="780.5" cy="845.4"/><circle cx="780.5" cy="827.4"/><circle cx="780.5" cy="827.8"/><circle cx="780.5" cy="829.4"/><circle cx="780.3" cy="842.5"/><circle cx="780.4" cy="843.8"/><circle cx="780.5" cy="838.0"/><circle cx="781.7" cy="839.7"/><circle cx="781.8" cy="844.2"/><circle cx="781.7" cy="827.9"/><circle cx="781.7" cy="830.6"/><circle cx="781.7" cy="829.2"/><circle cx="781.6" cy="840.1"/><circle cx="781.8" cy="841.8"/><circle cx="781.7" cy="837.7"/><circle cx="781.6" cy="836.1"/><circle cx="781.6" cy="833.3"/><circle cx="782.8" cy="875.3"/><circle cx="782.8" cy="858.5"/><circle cx="782.9" cy="830.2"/><circle cx="782.7" cy="854.8"/><circle cx="782.8" cy="852.6"/><circle cx="782.8" cy="851.5"/><circle cx="782.8" cy="837.8"/><circle cx="782.8" cy="838.4"/><circle cx="782.7" cy="840.0"/><circle cx="784.0" cy="842.9"/><circle cx="783.9" cy="839.6"/><circle cx="784.0" cy="831.2"/><circle cx="783.9" cy="833.4"/><circle cx="784.0" cy="841.9"/><circle cx="783.9" cy="841.3"/><circle cx="784.0" cy="838.4"/><circle cx="784.0" cy="828.6"/><circle cx="783.9" cy="835.1"/><circle cx="784.0" cy="834.8"/><circle cx="784.1" cy="830.4"/><circle cx="784.0" cy="840.9"/><circle cx="784.0" cy="837.3"/><circle cx="785.5" cy="849.0"/><circle cx="785.4" cy="838.4"/><circle cx="785.5" cy="829.8"/><circle cx="785.4" cy="841.4"/><circle cx="785.5" cy="842.7"/><circle cx="785.4" cy="845.1"/><circle cx="785.5" cy="839.0"/><circle cx="785.4" cy="839.4"/><circle cx="785.5" cy="837.0"/><circle cx="785.5" cy="833.2"/><circle cx="785.3" cy="835.3"/><circle cx="786.8" cy="843.4"/><circle cx="786.7" cy="842.5"/><circle cx="786.8" cy="829.9"/><circle cx="786.9" cy="842.5"/><circle cx="786.8" cy="840.3"/><circle cx="787.8" cy="839.2"/><circle cx="790.6" cy="841.5"/><circle cx="790.6" cy="840.5"/><circle cx="793.0" cy="840.6"/><circle cx="793.0" cy="839.4"/><circle cx="797.9" cy="842.1"/><circle cx="800.2" cy="844.5"/><circle cx="802.9" cy="845.4"/><circle cx="802.8" cy="853.9"/><circle cx="802.9" cy="853.0"/><circle cx="803.0" cy="842.4"/><circle cx="802.9" cy="867.3"/><circle cx="802.8" cy="852.2"/><circle cx="805.5" cy="842.1"/><circle cx="805.4" cy="841.6"/><circle cx="805.5" cy="841.3"/><circle cx="807.7" cy="826.5"/><circle cx="807.8" cy="845.6"/><circle cx="807.7" cy="840.1"/><circle cx="807.8" cy="848.3"/><circle cx="807.6" cy="846.8"/><circle cx="810.0" cy="841.2"/><circle cx="810.0" cy="847.8"/><circle cx="810.1" cy="839.9"/><circle cx="810.1" cy="828.8"/><circle cx="810.0" cy="839.2"/><circle cx="812.5" cy="840.3"/><circle cx="812.6" cy="841.1"/><circle cx="812.5" cy="839.6"/><circle cx="817.6" cy="840.5"/><circle cx="824.9" cy="844.1"/><circle cx="824.9" cy="841.2"/><circle cx="825.1" cy="843.0"/><circle cx="827.6" cy="842.2"/><circle cx="829.9" cy="843.2"/><circle cx="830.0" cy="841.0"/><circle cx="832.9" cy="844.3"/><circle cx="832.9" cy="841.5"/><circle cx="834.9" cy="842.5"/><circle cx="834.8" cy="844.2"/><circle cx="835.0" cy="830.9"/><circle cx="835.0" cy="838.6"/><circle cx="837.6" cy="842.0"/><circle cx="837.5" cy="841.5"/><circle cx="837.4" cy="837.4"/><circle cx="839.9" cy="845.0"/><circle cx="842.5" cy="840.7"/><circle cx="842.5" cy="839.2"/><circle cx="845.0" cy="839.8"/><circle cx="845.2" cy="842.7"/><circle cx="845.1" cy="828.3"/><circle cx="845.1" cy="842.5"/><circle cx="847.5" cy="841.8"/><circle cx="849.8" cy="844.1"/><circle cx="849.8" cy="842.3"/><circle cx="852.5" cy="840.4"/><circle cx="854.7" cy="842.8"/><circle cx="857.6" cy="841.9"/><circle cx="857.6" cy="845.5"/><circle cx="859.9" cy="838.5"/><circle cx="864.9" cy="843.4"/><circle cx="872.3" cy="844.3"/><circle cx="872.4" cy="846.5"/><circle cx="872.4" cy="843.6"/><circle cx="872.3" cy="842.1"/><circle cx="877.1" cy="843.1"/><circle cx="887.3" cy="842.3"/><circle cx="889.6" cy="840.0"/><circle cx="891.0" cy="831.5"/><circle cx="891.0" cy="838.7"/><circle cx="891.1" cy="827.9"/><circle cx="891.1" cy="843.0"/><circle cx="891.1" cy="839.3"/><circle cx="891.0" cy="841.0"/><circle cx="891.2" cy="838.2"/><circle cx="892.3" cy="827.8"/><circle cx="892.3" cy="848.2"/><circle cx="892.3" cy="832.2"/><circle cx="892.4" cy="828.6"/><circle cx="892.2" cy="838.9"/><circle cx="892.3" cy="838.1"/><circle cx="892.4" cy="831.8"/><circle cx="892.2" cy="846.0"/><circle cx="892.4" cy="850.7"/><circle cx="892.3" cy="829.2"/><circle cx="892.3" cy="836.5"/><circle cx="892.3" cy="833.3"/><circle cx="892.4" cy="838.6"/><circle cx="892.2" cy="834.0"/><circle cx="893.3" cy="830.2"/><circle cx="893.3" cy="838.9"/><circle cx="893.2" cy="832.4"/><circle cx="893.3" cy="838.7"/><circle cx="893.2" cy="840.5"/><circle cx="893.3" cy="837.3"/><circle cx="893.4" cy="830.6"/><circle cx="893.3" cy="834.8"/><circle cx="893.2" cy="836.3"/><circle cx="893.1" cy="837.1"/><circle cx="893.3" cy="833.8"/><circle cx="894.5" cy="837.6"/><circle cx="894.4" cy="838.3"/><circle cx="894.4" cy="841.3"/><circle cx="894.5" cy="833.3"/><circle cx="894.5" cy="836.0"/><circle cx="894.4" cy="839.5"/><circle cx="894.6" cy="835.3"/><circle cx="894.4" cy="828.3"/><circle cx="894.4" cy="834.6"/><circle cx="894.5" cy="832.1"/><circle cx="895.8" cy="840.1"/><circle cx="895.9" cy="831.5"/><circle cx="896.0" cy="829.2"/><circle cx="895.8" cy="836.7"/><circle cx="895.8" cy="833.3"/><circle cx="895.8" cy="834.7"/><circle cx="895.9" cy="837.6"/><circle cx="895.8" cy="840.5"/><circle cx="895.8" cy="836.6"/><circle cx="895.9" cy="836.9"/><circle cx="895.8" cy="835.7"/><circle cx="897.0" cy="839.0"/><circle cx="897.2" cy="839.7"/><circle cx="898.3" cy="842.9"/><circle cx="898.2" cy="843.7"/><circle cx="898.1" cy="841.0"/><circle cx="898.1" cy="839.2"/><circle cx="899.5" cy="839.6"/><circle cx="899.7" cy="841.5"/><circle cx="899.6" cy="828.0"/><circle cx="899.7" cy="844.0"/><circle cx="899.6" cy="839.8"/><circle cx="900.6" cy="842.5"/><circle cx="900.8" cy="841.6"/><circle cx="900.6" cy="840.2"/><circle cx="900.7" cy="848.0"/><circle cx="906.6" cy="841.0"/><circle cx="906.6" cy="838.6"/><circle cx="908.4" cy="830.7"/><circle cx="908.3" cy="839.2"/><circle cx="908.2" cy="841.8"/><circle cx="912.0" cy="827.3"/><circle cx="912.1" cy="839.3"/><circle cx="912.1" cy="846.4"/><circle cx="912.0" cy="840.8"/><circle cx="912.0" cy="837.6"/><circle cx="912.2" cy="837.3"/><circle cx="913.9" cy="841.7"/><circle cx="913.8" cy="837.7"/><circle cx="913.9" cy="841.4"/><circle cx="914.0" cy="841.0"/><circle cx="913.9" cy="839.7"/><circle cx="914.0" cy="828.4"/><circle cx="917.6" cy="840.3"/><circle cx="917.4" cy="840.1"/><circle cx="917.5" cy="838.7"/><circle cx="919.3" cy="845.2"/><circle cx="919.2" cy="842.2"/><circle cx="919.3" cy="841.2"/><circle cx="919.2" cy="840.3"/><circle cx="921.4" cy="840.2"/><circle cx="921.4" cy="830.1"/><circle cx="921.5" cy="839.2"/><circle cx="921.6" cy="842.4"/><circle cx="923.0" cy="843.1"/><circle cx="922.9" cy="843.6"/><circle cx="925.2" cy="827.0"/><circle cx="925.0" cy="839.6"/><circle cx="925.1" cy="844.2"/><circle cx="929.1" cy="842.1"/><circle cx="929.1" cy="844.2"/><circle cx="929.0" cy="840.1"/><circle cx="930.5" cy="838.9"/><circle cx="930.6" cy="834.8"/><circle cx="930.4" cy="840.7"/><circle cx="930.5" cy="831.0"/><circle cx="930.5" cy="834.9"/><circle cx="930.5" cy="840.0"/><circle cx="930.5" cy="838.1"/><circle cx="938.1" cy="827.6"/><circle cx="938.1" cy="829.9"/><circle cx="938.0" cy="840.2"/><circle cx="938.0" cy="843.5"/><circle cx="938.0" cy="839.5"/><circle cx="938.1" cy="840.4"/><circle cx="939.8" cy="838.7"/><circle cx="939.9" cy="840.5"/><circle cx="943.6" cy="846.6"/><circle cx="943.5" cy="826.6"/><circle cx="943.5" cy="841.3"/><circle cx="945.6" cy="841.4"/><circle cx="945.5" cy="838.2"/><circle cx="945.7" cy="837.7"/><circle cx="947.3" cy="827.3"/><circle cx="947.3" cy="841.2"/><circle cx="947.2" cy="829.4"/><circle cx="949.2" cy="840.1"/><circle cx="949.2" cy="837.6"/><circle cx="949.1" cy="831.4"/><circle cx="949.1" cy="836.5"/><circle cx="949.2" cy="827.4"/><circle cx="949.1" cy="837.0"/><circle cx="949.1" cy="829.9"/><circle cx="949.1" cy="843.5"/><circle cx="941.2" cy="676.4"/><circle cx="772.8" cy="764.7"/><circle cx="830.9" cy="781.2"/><circle cx="905.4" cy="774.6"/><circle cx="711.8" cy="849.4"/><circle cx="719.9" cy="850.5"/><circle cx="728.3" cy="856.7"/><circle cx="771.4" cy="861.4"/><circle cx="770.3" cy="874.2"/><circle cx="781.2" cy="876.4"/><circle cx="772.1" cy="885.9"/><circle cx="772.1" cy="890.7"/><circle cx="728.3" cy="925.7"/><circle cx="828.7" cy="907.8"/><circle cx="844.4" cy="919.5"/><circle cx="772.1" cy="970.3"/><circle cx="803.1" cy="869.8"/><circle cx="808.6" cy="868.0"/><circle cx="913.8" cy="876.4"/><circle cx="891.5" cy="863.3"/><circle cx="922.2" cy="857.8"/><circle cx="922.2" cy="859.6"/><circle cx="940.8" cy="853.0"/><circle cx="852.4" cy="854.1"/><circle cx="784.9" cy="856.0"/></g>
<path clip-path="url(#c4)" d="M626.7 833.8L626.9 833.8L627.0 833.8L627.2 833.8L627.3 833.8L627.5 833.8L627.6 833.8L627.8 833.8L628.0 833.8L628.1 833.8L628.3 833.8L628.4 833.8L628.6 833.8L628.7 833.8L628.9 833.8L629.1 833.8L629.2 833.8L629.4 833.8L629.5 833.7L629.7 833.7L629.8 833.7L630.0 833.7L630.2 833.7L630.3 833.7L630.5 833.7L630.6 833.7L630.8 833.7L630.9 833.7L631.1 833.7L631.3 833.7L631.4 833.7L631.6 833.7L631.7 833.7L631.9 833.7L632.0 833.7L632.2 833.7L632.4 833.7L632.5 833.7L632.7 833.7L632.8 833.7L633.0 833.7L633.1 833.6L633.3 833.6L633.5 833.6L633.6 833.6L633.8 833.6L633.9 833.6L634.1 833.6L634.2 833.6L634.4 833.6L634.6 833.6L634.7 833.6L634.9 833.6L635.0 833.6L635.2 833.6L635.3 833.6L635.5 833.6L635.7 833.5L635.8 833.5L636.0 833.5L636.1 833.5L636.3 833.5L636.4 833.5L636.6 833.5L636.7 833.5L636.9 833.5L637.1 833.5L637.2 833.5L637.4 833.5L637.5 833.5L637.7 833.4L637.8 833.4L638.0 833.4L638.2 833.4L638.3 833.4L638.5 833.4L638.6 833.4L638.8 833.4L638.9 833.4L639.1 833.4L639.3 833.3L639.4 833.3L639.6 833.3L639.7 833.3L639.9 833.3L640.0 833.3L640.2 833.3L640.4 833.3L640.5 833.3L640.7 833.2L640.8 833.2L641.0 833.2L641.1 833.2L641.3 833.2L641.5 833.2L641.6 833.2L641.8 833.2L641.9 833.1L642.1 833.1L642.2 833.1L642.4 833.1L642.6 833.1L642.7 833.1L642.9 833.0L643.0 833.0L643.2 833.0L643.3 833.0L643.5 833.0L643.7 833.0L643.8 832.9L644.0 832.9L644.1 832.9L644.3 832.9L644.4 832.9L644.6 832.8L644.8 832.8L644.9 832.8L645.1 832.8L645.2 832.8L645.4 832.7L645.5 832.7L645.7 832.7L645.9 832.7L646.0 832.6L646.2 832.6L646.3 832.6L646.5 832.6L646.6 832.5L646.8 832.5L647.0 832.5L647.1 832.5L647.3 832.4L647.4 832.4L647.6 832.4L647.7 832.3L647.9 832.3L648.1 832.3L648.2 832.2L648.4 832.2L648.5 832.2L648.7 832.1L648.8 832.1L649.0 832.1L649.2 832.0L649.3 832.0L649.5 832.0L649.6 831.9L649.8 831.9L649.9 831.8L650.1 831.8L650.3 831.7L650.4 831.7L650.6 831.7L650.7 831.6L650.9 831.6L651.0 831.5L651.2 831.5L651.4 831.4L651.5 831.4L651.7 831.3L651.8 831.2L652.0 831.2L652.1 831.1L652.3 831.1L652.5 831.0L652.6 831.0L652.8 830.9L652.9 830.8L653.1 830.8L653.2 830.7L653.4 830.6L653.6 830.6L653.7 830.5L653.9 830.4L654.0 830.3L654.2 830.3L654.3 830.2L654.5 830.1L654.7 830.0L654.8 829.9L655.0 829.8L655.1 829.8L655.3 829.7L655.4 829.6L655.6 829.5L655.7 829.4L655.9 829.3L656.1 829.2L656.2 829.1L656.4 829.0L656.5 828.9L656.7 828.7L656.8 828.6L657.0 828.5L657.2 828.4L657.3 828.3L657.5 828.1L657.6 828.0L657.8 827.9L657.9 827.7L658.1 827.6L658.3 827.5L658.4 827.3L658.6 827.2L658.7 827.0L658.9 826.8L659.0 826.7L659.2 826.5L659.4 826.4L659.5 826.2L659.7 826.0L659.8 825.8L660.0 825.6L660.1 825.4L660.3 825.3L660.5 825.1L660.6 824.9L660.8 824.6L660.9 824.4L661.1 824.2L661.2 824.0L661.4 823.8L661.6 823.5L661.7 823.3L661.9 823.1L662.0 822.8L662.2 822.6L662.3 822.3L662.5 822.0L662.7 821.8L662.8 821.5L663.0 821.2L663.1 820.9L663.3 820.6L663.4 820.3L663.6 820.0L663.8 819.7L663.9 819.4L664.1 819.1L664.2 818.7L664.4 818.4L664.5 818.1L664.7 817.7L664.9 817.4L665.0 817.0L665.2 816.6L665.3 816.3L665.5 815.9L665.6 815.5L665.8 815.1L666.0 814.7L666.1 814.3L666.3 813.9L666.4 813.5L666.6 813.1L666.7 812.7L666.9 812.3L667.1 811.9L667.2 811.4L667.4 811.0L667.5 810.6L667.7 810.1L667.8 809.7L668.0 809.3L668.2 808.8L668.3 808.4L668.5 808.0L668.6 807.5L668.8 807.1L668.9 806.6L669.1 806.2L669.3 805.8L669.4 805.4L669.6 804.9L669.7 804.5L669.9 804.1L670.0 803.7L670.2 803.3L670.4 802.9L670.5 802.6L670.7 802.2L670.8 801.8L671.0 801.5L671.1 801.2L671.3 800.8L671.5 800.5L671.6 800.3L671.8 800.0L671.9 799.7L672.1 799.5L672.2 799.3L672.4 799.0L672.6 798.9L672.7 798.7L672.9 798.5L673.0 798.4L673.2 798.3L673.3 798.2L673.5 798.2L673.7 798.1L673.8 798.1L674.0 798.1L674.1 798.1L674.3 798.2L674.4 798.2L674.6 798.3L674.8 798.4L674.9 798.5L675.1 798.7L675.2 798.9L675.4 799.0L675.5 799.2L675.7 799.5L675.8 799.7L676.0 800.0L676.2 800.2L676.3 800.5L676.5 800.8L676.6 801.1L676.8 801.5L676.9 801.8L677.1 802.2L677.3 802.5L677.4 802.9L677.6 803.3L677.7 803.7L677.9 804.1L678.0 804.5L678.2 804.9L678.4 805.3L678.5 805.8L678.7 806.2L678.8 806.6L679.0 807.1L679.1 807.5L679.3 807.9L679.5 808.4L679.6 808.8L679.8 809.2L679.9 809.7L680.1 810.1L680.2 810.6L680.4 811.0L680.6 811.4L680.7 811.8L680.9 812.3L681.0 812.7L681.2 813.1L681.3 813.5L681.5 813.9L681.7 814.3L681.8 814.7L682.0 815.1L682.1 815.5L682.3 815.9L682.4 816.3L682.6 816.6L682.8 817.0L682.9 817.3L683.1 817.7L683.2 818.0L683.4 818.4L683.5 818.7L683.7 819.0L683.9 819.4L684.0 819.7L684.2 820.0L684.3 820.3L684.5 820.6L684.6 820.9L684.8 821.2L685.0 821.5L685.1 821.7L685.3 822.0L685.4 822.3L685.6 822.5L685.7 822.8L685.9 823.0L686.1 823.3L686.2 823.5L686.4 823.8L686.5 824.0L686.7 824.2L686.8 824.4L687.0 824.6L687.2 824.8L687.3 825.0L687.5 825.2L687.6 825.4L687.8 825.6L687.9 825.8L688.1 826.0L688.3 826.2L688.4 826.3L688.6 826.5L688.7 826.7L688.9 826.8L689.0 827.0L689.2 827.1L689.4 827.3L689.5 827.4L689.7 827.6L689.8 827.7L690.0 827.9L690.1 828.0L690.3 828.1L690.5 828.3L690.6 828.4L690.8 828.5L690.9 828.6L691.1 828.7L691.2 828.8L691.4 829.0L691.6 829.1L691.7 829.2L691.9 829.3L692.0 829.4L692.2 829.5L692.3 829.6L692.5 829.7L692.7 829.8L692.8 829.8L693.0 829.9L693.1 830.0L693.3 830.1L693.4 830.2L693.6 830.3L693.8 830.3L693.9 830.4L694.1 830.5L694.2 830.6L694.4 830.6L694.5 830.7L694.7 830.8L694.8 830.8L695.0 830.9L695.2 831.0L695.3 831.0L695.5 831.1L695.6 831.1L695.8 831.2L695.9 831.2L696.1 831.3L696.3 831.4L696.4 831.4L696.6 831.5L696.7 831.5L696.9 831.6L697.0 831.6L697.2 831.7L697.4 831.7L697.5 831.7L697.7 831.8L697.8 831.8L698.0 831.9L698.1 831.9L698.3 831.9L698.5 832.0L698.6 832.0L698.8 832.1L698.9 832.1L699.1 832.1L699.2 832.2L699.4 832.2L699.6 832.2L699.7 832.3L699.9 832.3L700.0 832.3L700.2 832.4L700.3 832.4L700.5 832.4L700.7 832.5L700.8 832.5L701.0 832.5L701.1 832.5L701.3 832.6L701.4 832.6L701.6 832.6L701.8 832.6L701.9 832.7L702.1 832.7L702.2 832.7L702.4 832.7L702.5 832.8L702.7 832.8L702.9 832.8L703.0 832.8L703.2 832.8L703.3 832.9L703.5 832.9L703.6 832.9L703.8 832.9L704.0 832.9L704.1 833.0L704.3 833.0L704.4 833.0L704.6 833.0L704.7 833.0L704.9 833.0L705.1 833.1L705.2 833.1L705.4 833.1L705.5 833.1L705.7 833.1L705.8 833.1L706.0 833.2L706.2 833.2L706.3 833.2L706.5 833.2L706.6 833.2L706.8 833.2L706.9 833.2L707.1 833.2L707.3 833.3L707.4 833.3L707.6 833.3L707.7 833.3L707.9 833.3L708.0 833.3L708.2 833.3L708.4 833.3L708.5 833.3L708.7 833.4L708.8 833.4L709.0 833.4L709.1 833.4L709.3 833.4L709.5 833.4L709.6 833.4L709.8 833.4L709.9 833.4L710.1 833.4L710.2 833.5L710.4 833.5L710.6 833.5L710.7 833.5L710.9 833.5L711.0 833.5L711.2 833.5L711.3 833.5L711.5 833.5L711.7 833.5L711.8 833.5L712.0 833.5L712.1 833.5L712.3 833.6L712.4 833.6L712.6 833.6L712.8 833.6L712.9 833.6L713.1 833.6L713.2 833.6L713.4 833.6L713.5 833.6L713.7 833.6L713.8 833.6L714.0 833.6L714.2 833.6L714.3 833.6L714.5 833.6L714.6 833.6L714.8 833.7L714.9 833.7L715.1 833.7L715.3 833.7L715.4 833.7L715.6 833.7L715.7 833.7L715.9 833.7L716.0 833.7L716.2 833.7L716.4 833.7L716.5 833.7L716.7 833.7L716.8 833.7L717.0 833.7L717.1 833.7L717.3 833.7L717.5 833.7L717.6 833.7L717.8 833.7L717.9 833.7L718.1 833.7L718.2 833.7L718.4 833.8L718.6 833.8L718.7 833.8L718.9 833.8L719.0 833.8L719.2 833.8L719.3 833.8L719.5 833.8L719.7 833.8L719.8 833.8L720.0 833.8L720.1 833.8L720.3 833.8L720.4 833.8L720.6 833.8L720.8 833.8L720.9 833.8" stroke="#000" stroke-width="2.9" stroke-dasharray="4.5 2.5" fill="none"/>
<g fill="#0d55e6"><circle cx="674.6" cy="793.6"/><circle cx="675.7" cy="793.9"/><circle cx="675.7" cy="794.0"/><circle cx="674.5" cy="794.6"/><circle cx="675.7" cy="795.5"/><circle cx="674.5" cy="795.9"/><circle cx="675.7" cy="796.3"/><circle cx="675.7" cy="796.5"/><circle cx="675.7" cy="797.1"/><circle cx="670.7" cy="796.2"/><circle cx="678.1" cy="797.9"/><circle cx="680.5" cy="795.2"/><circle cx="674.4" cy="798.3"/><circle cx="670.8" cy="799.2"/><circle cx="670.7" cy="800.2"/><circle cx="678.1" cy="800.4"/><circle cx="678.1" cy="800.6"/><circle cx="701.7" cy="825.9"/><circle cx="702.9" cy="826.5"/><circle cx="701.7" cy="826.9"/><circle cx="703.0" cy="828.0"/><circle cx="704.2" cy="828.4"/><circle cx="704.3" cy="829.2"/><circle cx="715.3" cy="827.4"/><circle cx="715.3" cy="830.2"/><circle cx="716.5" cy="830.1"/><circle cx="660.9" cy="796.4"/><circle cx="660.9" cy="800.7"/><circle cx="660.9" cy="810.3"/><circle cx="660.9" cy="811.9"/><circle cx="660.9" cy="813.2"/><circle cx="670.7" cy="801.1"/><circle cx="670.7" cy="802.4"/><circle cx="669.5" cy="801.6"/><circle cx="669.5" cy="802.4"/><circle cx="669.5" cy="803.6"/><circle cx="669.5" cy="804.3"/><circle cx="669.5" cy="804.8"/><circle cx="670.7" cy="804.9"/><circle cx="670.7" cy="805.5"/><circle cx="670.7" cy="806.2"/><circle cx="669.5" cy="807.4"/><circle cx="669.5" cy="809.3"/><circle cx="669.6" cy="811.1"/><circle cx="674.5" cy="801.7"/><circle cx="678.2" cy="801.3"/><circle cx="677.0" cy="804.3"/><circle cx="678.2" cy="805.5"/><circle cx="681.9" cy="800.7"/><circle cx="691.7" cy="799.7"/><circle cx="680.6" cy="808.3"/><circle cx="685.6" cy="810.3"/><circle cx="685.6" cy="812.0"/><circle cx="685.6" cy="813.2"/><circle cx="684.4" cy="814.0"/><circle cx="691.7" cy="812.3"/><circle cx="691.7" cy="812.5"/><circle cx="654.6" cy="824.3"/><circle cx="654.6" cy="826.1"/><circle cx="654.6" cy="826.7"/><circle cx="654.6" cy="828.8"/><circle cx="654.6" cy="829.6"/><circle cx="654.6" cy="830.6"/><circle cx="659.7" cy="822.3"/><circle cx="659.7" cy="825.9"/><circle cx="659.7" cy="827.3"/><circle cx="660.9" cy="822.8"/><circle cx="660.9" cy="823.8"/><circle cx="660.9" cy="825.1"/><circle cx="660.9" cy="825.8"/><circle cx="660.8" cy="817.4"/><circle cx="660.8" cy="818.0"/><circle cx="660.8" cy="818.2"/><circle cx="667.1" cy="814.7"/><circle cx="667.1" cy="816.4"/><circle cx="667.1" cy="816.7"/><circle cx="667.1" cy="819.5"/><circle cx="684.3" cy="814.9"/><circle cx="685.6" cy="815.9"/><circle cx="684.3" cy="822.1"/><circle cx="685.6" cy="818.2"/><circle cx="685.6" cy="822.1"/><circle cx="690.6" cy="816.7"/><circle cx="689.3" cy="822.1"/><circle cx="689.3" cy="824.6"/><circle cx="689.3" cy="827.9"/><circle cx="690.4" cy="828.7"/><circle cx="691.8" cy="824.7"/><circle cx="690.6" cy="824.0"/><circle cx="693.0" cy="826.9"/><circle cx="693.0" cy="831.3"/><circle cx="701.7" cy="824.0"/><circle cx="715.3" cy="819.9"/><circle cx="715.3" cy="822.1"/><circle cx="715.3" cy="824.1"/><circle cx="675.7" cy="797.4"/><circle cx="675.7" cy="797.8"/><circle cx="674.4" cy="798.5"/><circle cx="677.0" cy="798.9"/><circle cx="674.5" cy="799.7"/><circle cx="674.5" cy="801.1"/><circle cx="701.8" cy="828.9"/><circle cx="670.7" cy="801.9"/><circle cx="670.7" cy="802.3"/><circle cx="669.5" cy="804.6"/><circle cx="669.5" cy="807.6"/><circle cx="669.6" cy="810.1"/><circle cx="674.5" cy="801.5"/><circle cx="678.2" cy="801.5"/><circle cx="678.2" cy="801.9"/><circle cx="677.0" cy="803.7"/><circle cx="677.0" cy="804.1"/><circle cx="678.2" cy="803.5"/><circle cx="678.2" cy="803.9"/><circle cx="678.2" cy="804.3"/><circle cx="654.6" cy="826.3"/><circle cx="659.7" cy="822.5"/><circle cx="659.7" cy="824.1"/><circle cx="659.7" cy="824.4"/><circle cx="659.7" cy="824.7"/><circle cx="667.1" cy="817.6"/><circle cx="667.1" cy="819.1"/><circle cx="684.3" cy="816.6"/><circle cx="685.6" cy="816.0"/><circle cx="685.6" cy="816.3"/><circle cx="684.3" cy="818.3"/><circle cx="684.3" cy="818.7"/><circle cx="684.3" cy="820.4"/><circle cx="684.3" cy="820.9"/><circle cx="685.6" cy="818.3"/><circle cx="685.6" cy="818.8"/><circle cx="685.6" cy="819.2"/><circle cx="685.6" cy="821.1"/><circle cx="689.3" cy="824.8"/><circle cx="689.3" cy="825.2"/><circle cx="689.3" cy="825.7"/><circle cx="689.3" cy="826.2"/><circle cx="689.3" cy="827.8"/><circle cx="690.4" cy="826.2"/><circle cx="690.4" cy="826.7"/><circle cx="690.4" cy="828.5"/><circle cx="693.0" cy="827.7"/><circle cx="693.0" cy="828.0"/><circle cx="693.0" cy="828.5"/><circle cx="693.0" cy="828.9"/><circle cx="693.0" cy="830.0"/><circle cx="693.0" cy="831.1"/><circle cx="691.7" cy="835.6"/><circle cx="675.6" cy="783.7"/><circle cx="678.3" cy="769.8"/><circle cx="701.6" cy="835.0"/><circle cx="701.6" cy="834.6"/><circle cx="701.8" cy="834.5"/><circle cx="701.7" cy="834.2"/><circle cx="701.7" cy="834.0"/><circle cx="701.7" cy="833.6"/><circle cx="701.6" cy="833.3"/><circle cx="701.7" cy="833.0"/><circle cx="701.7" cy="832.8"/><circle cx="701.8" cy="832.5"/><circle cx="701.7" cy="832.3"/><circle cx="701.7" cy="832.0"/><circle cx="701.6" cy="831.4"/><circle cx="701.7" cy="830.9"/><circle cx="702.8" cy="835.3"/><circle cx="703.0" cy="835.1"/><circle cx="702.8" cy="834.8"/><circle cx="703.0" cy="834.4"/><circle cx="702.9" cy="834.2"/><circle cx="703.0" cy="833.8"/><circle cx="703.0" cy="833.5"/><circle cx="702.9" cy="833.3"/><circle cx="703.0" cy="833.0"/><circle cx="702.8" cy="832.6"/><circle cx="702.8" cy="832.4"/><circle cx="702.9" cy="832.1"/><circle cx="702.9" cy="831.8"/><circle cx="702.9" cy="831.6"/><circle cx="702.9" cy="831.2"/><circle cx="703.0" cy="830.9"/><circle cx="703.0" cy="830.6"/><circle cx="702.8" cy="830.3"/><circle cx="704.4" cy="835.2"/><circle cx="704.4" cy="835.0"/><circle cx="704.3" cy="834.8"/><circle cx="704.3" cy="834.5"/><circle cx="704.2" cy="834.3"/><circle cx="704.2" cy="834.0"/><circle cx="704.2" cy="833.5"/><circle cx="704.2" cy="833.2"/><circle cx="704.4" cy="832.9"/><circle cx="704.2" cy="832.5"/><circle cx="704.2" cy="832.3"/><circle cx="704.2" cy="832.0"/><circle cx="704.3" cy="831.5"/><circle cx="704.2" cy="831.3"/><circle cx="704.2" cy="830.9"/><circle cx="704.2" cy="830.6"/><circle cx="705.7" cy="835.4"/><circle cx="705.4" cy="835.0"/><circle cx="705.4" cy="834.6"/><circle cx="705.7" cy="834.3"/><circle cx="705.6" cy="834.0"/><circle cx="705.5" cy="833.8"/><circle cx="705.6" cy="833.5"/><circle cx="705.6" cy="833.1"/><circle cx="705.4" cy="832.8"/><circle cx="705.7" cy="832.4"/><circle cx="705.6" cy="832.1"/><circle cx="705.6" cy="831.8"/><circle cx="705.5" cy="831.6"/><circle cx="705.4" cy="831.3"/><circle cx="715.4" cy="836.7"/><circle cx="715.2" cy="836.4"/><circle cx="715.3" cy="836.0"/><circle cx="715.5" cy="835.8"/><circle cx="715.4" cy="835.3"/><circle cx="715.4" cy="835.1"/><circle cx="715.4" cy="834.8"/><circle cx="715.3" cy="834.3"/><circle cx="715.5" cy="834.0"/><circle cx="715.2" cy="833.7"/><circle cx="715.3" cy="833.3"/><circle cx="715.2" cy="833.1"/><circle cx="715.2" cy="832.7"/><circle cx="715.3" cy="832.3"/><circle cx="715.3" cy="831.9"/><circle cx="715.2" cy="831.6"/><circle cx="715.2" cy="831.3"/><circle cx="715.2" cy="831.0"/><circle cx="716.6" cy="836.6"/><circle cx="716.6" cy="836.4"/><circle cx="716.5" cy="835.9"/><circle cx="716.6" cy="835.6"/><circle cx="716.7" cy="835.3"/><circle cx="716.6" cy="834.9"/><circle cx="716.7" cy="834.5"/><circle cx="716.7" cy="834.3"/><circle cx="716.6" cy="833.8"/><circle cx="716.5" cy="833.5"/><circle cx="716.5" cy="833.3"/><circle cx="716.6" cy="832.9"/><circle cx="716.5" cy="832.5"/><circle cx="716.7" cy="832.2"/><circle cx="716.5" cy="831.4"/><circle cx="716.6" cy="831.1"/><circle cx="716.6" cy="830.8"/><circle cx="719.1" cy="836.7"/><circle cx="719.1" cy="836.3"/><circle cx="719.2" cy="835.9"/><circle cx="719.0" cy="835.6"/><circle cx="719.0" cy="835.1"/><circle cx="719.1" cy="834.8"/><circle cx="719.2" cy="834.6"/><circle cx="719.1" cy="834.1"/><circle cx="719.1" cy="833.5"/><circle cx="719.2" cy="833.1"/><circle cx="719.2" cy="832.6"/><circle cx="719.2" cy="832.3"/><circle cx="718.9" cy="831.7"/><circle cx="719.0" cy="831.3"/><circle cx="720.3" cy="836.2"/><circle cx="720.2" cy="835.6"/><circle cx="720.0" cy="834.8"/><circle cx="720.2" cy="834.3"/><circle cx="720.0" cy="833.4"/><circle cx="720.1" cy="833.0"/><circle cx="720.1" cy="832.7"/><circle cx="720.1" cy="832.1"/><circle cx="720.3" cy="831.7"/><circle cx="720.1" cy="831.3"/><circle cx="824.2" cy="796.9"/><circle cx="802.1" cy="800.0"/><circle cx="775.8" cy="805.0"/><circle cx="775.8" cy="806.3"/><circle cx="777.0" cy="806.7"/><circle cx="749.8" cy="807.2"/><circle cx="777.0" cy="807.8"/><circle cx="777.0" cy="809.9"/><circle cx="749.8" cy="810.5"/><circle cx="737.5" cy="810.8"/><circle cx="777.0" cy="811.8"/><circle cx="749.8" cy="812.4"/><circle cx="749.8" cy="812.7"/><circle cx="788.1" cy="812.5"/><circle cx="797.9" cy="812.1"/><circle cx="824.2" cy="809.4"/><circle cx="825.4" cy="810.7"/><circle cx="917.2" cy="792.1"/><circle cx="917.2" cy="793.0"/><circle cx="901.3" cy="796.4"/><circle cx="901.3" cy="796.5"/><circle cx="921.4" cy="797.2"/><circle cx="948.4" cy="798.5"/><circle cx="948.4" cy="800.2"/><circle cx="948.4" cy="801.6"/><circle cx="911.1" cy="801.1"/><circle cx="919.7" cy="801.8"/><circle cx="871.4" cy="802.5"/><circle cx="871.4" cy="802.8"/><circle cx="869.4" cy="803.5"/><circle cx="871.4" cy="803.4"/><circle cx="871.4" cy="803.8"/><circle cx="901.3" cy="804.4"/><circle cx="917.2" cy="804.8"/><circle cx="948.4" cy="804.4"/><circle cx="948.4" cy="804.9"/><circle cx="948.4" cy="805.1"/><circle cx="948.4" cy="805.6"/><circle cx="948.4" cy="807.3"/><circle cx="948.4" cy="807.9"/><circle cx="948.4" cy="808.2"/><circle cx="882.4" cy="806.4"/><circle cx="882.4" cy="807.1"/><circle cx="882.4" cy="808.2"/><circle cx="875.0" cy="809.3"/><circle cx="898.8" cy="809.2"/><circle cx="835.0" cy="810.8"/><circle cx="848.5" cy="811.2"/><circle cx="869.4" cy="810.6"/><circle cx="871.4" cy="811.3"/><circle cx="897.1" cy="810.5"/><circle cx="911.1" cy="811.1"/><circle cx="914.8" cy="810.8"/><circle cx="855.9" cy="812.0"/><circle cx="898.8" cy="812.3"/><circle cx="917.2" cy="812.2"/><circle cx="882.4" cy="812.6"/><circle cx="749.8" cy="813.0"/><circle cx="763.2" cy="813.6"/><circle cx="777.1" cy="814.4"/><circle cx="744.4" cy="814.7"/><circle cx="763.2" cy="815.1"/><circle cx="776.7" cy="816.0"/><circle cx="776.7" cy="816.6"/><circle cx="749.8" cy="816.9"/><circle cx="764.9" cy="816.9"/><circle cx="749.8" cy="819.1"/><circle cx="772.4" cy="819.5"/><circle cx="758.1" cy="819.8"/><circle cx="776.1" cy="820.6"/><circle cx="776.1" cy="821.0"/><circle cx="776.1" cy="821.3"/><circle cx="776.1" cy="821.7"/><circle cx="758.1" cy="821.1"/><circle cx="749.8" cy="821.9"/><circle cx="763.2" cy="822.1"/><circle cx="721.4" cy="822.4"/><circle cx="776.1" cy="822.9"/><circle cx="776.1" cy="823.4"/><circle cx="776.1" cy="823.8"/><circle cx="758.1" cy="823.3"/><circle cx="758.1" cy="824.0"/><circle cx="758.1" cy="824.4"/><circle cx="763.2" cy="823.6"/><circle cx="766.9" cy="823.6"/><circle cx="769.0" cy="823.8"/><circle cx="770.0" cy="824.0"/><circle cx="763.2" cy="824.4"/><circle cx="763.2" cy="824.8"/><circle cx="766.9" cy="825.0"/><circle cx="721.4" cy="824.2"/><circle cx="721.4" cy="824.5"/><circle cx="721.4" cy="825.3"/><circle cx="777.1" cy="824.9"/><circle cx="758.1" cy="825.3"/><circle cx="758.1" cy="825.7"/><circle cx="763.9" cy="825.7"/><circle cx="732.2" cy="826.0"/><circle cx="737.3" cy="825.9"/><circle cx="749.6" cy="825.7"/><circle cx="753.6" cy="825.7"/><circle cx="758.7" cy="826.3"/><circle cx="764.9" cy="825.8"/><circle cx="769.0" cy="826.2"/><circle cx="826.0" cy="813.7"/><circle cx="824.4" cy="814.2"/><circle cx="809.1" cy="814.6"/><circle cx="798.5" cy="815.8"/><circle cx="808.0" cy="817.1"/><circle cx="805.8" cy="818.1"/><circle cx="808.0" cy="818.4"/><circle cx="804.7" cy="819.2"/><circle cx="814.0" cy="819.8"/><circle cx="824.0" cy="818.7"/><circle cx="824.0" cy="819.6"/><circle cx="830.3" cy="820.3"/><circle cx="836.0" cy="820.7"/><circle cx="817.8" cy="820.7"/><circle cx="817.8" cy="821.3"/><circle cx="809.1" cy="820.6"/><circle cx="789.4" cy="821.2"/><circle cx="836.4" cy="821.5"/><circle cx="809.1" cy="822.4"/><circle cx="814.0" cy="822.6"/><circle cx="817.8" cy="822.4"/><circle cx="830.3" cy="822.3"/><circle cx="835.3" cy="822.4"/><circle cx="808.0" cy="822.9"/><circle cx="817.8" cy="823.1"/><circle cx="809.1" cy="823.5"/><circle cx="814.0" cy="824.2"/><circle cx="814.0" cy="824.4"/><circle cx="836.0" cy="823.2"/><circle cx="836.0" cy="823.6"/><circle cx="836.0" cy="823.9"/><circle cx="836.0" cy="824.2"/><circle cx="825.3" cy="823.4"/><circle cx="824.0" cy="824.9"/><circle cx="798.1" cy="824.7"/><circle cx="788.1" cy="825.1"/><circle cx="835.3" cy="817.5"/><circle cx="849.9" cy="816.9"/><circle cx="856.6" cy="816.9"/><circle cx="859.0" cy="816.3"/><circle cx="848.6" cy="822.7"/><circle cx="859.0" cy="824.3"/><circle cx="863.9" cy="823.1"/><circle cx="836.0" cy="825.1"/><circle cx="865.2" cy="814.6"/><circle cx="836.0" cy="826.2"/><circle cx="788.1" cy="826.2"/><circle cx="866.6" cy="814.6"/><circle cx="882.6" cy="817.1"/><circle cx="882.6" cy="817.4"/><circle cx="874.0" cy="818.3"/><circle cx="877.7" cy="818.1"/><circle cx="868.6" cy="820.9"/><circle cx="871.3" cy="820.9"/><circle cx="874.0" cy="820.9"/><circle cx="882.6" cy="820.9"/><circle cx="878.0" cy="821.3"/><circle cx="871.6" cy="822.4"/><circle cx="882.6" cy="823.7"/><circle cx="874.0" cy="823.9"/><circle cx="886.6" cy="825.8"/><circle cx="898.6" cy="814.0"/><circle cx="901.2" cy="815.0"/><circle cx="899.9" cy="816.0"/><circle cx="898.6" cy="816.5"/><circle cx="898.6" cy="817.8"/><circle cx="898.6" cy="818.2"/><circle cx="897.2" cy="819.1"/><circle cx="901.2" cy="818.9"/><circle cx="898.6" cy="820.1"/><circle cx="899.2" cy="820.7"/><circle cx="901.2" cy="821.8"/><circle cx="901.2" cy="822.8"/><circle cx="899.9" cy="823.3"/><circle cx="902.6" cy="824.2"/><circle cx="899.9" cy="825.0"/><circle cx="901.2" cy="826.0"/><circle cx="915.2" cy="813.4"/><circle cx="918.5" cy="813.2"/><circle cx="915.2" cy="813.7"/><circle cx="924.8" cy="814.1"/><circle cx="915.2" cy="814.5"/><circle cx="918.5" cy="815.1"/><circle cx="921.2" cy="815.0"/><circle cx="911.2" cy="815.5"/><circle cx="914.5" cy="815.7"/><circle cx="915.2" cy="816.2"/><circle cx="918.5" cy="816.4"/><circle cx="919.8" cy="816.9"/><circle cx="918.5" cy="817.7"/><circle cx="921.2" cy="818.0"/><circle cx="915.2" cy="818.0"/><circle cx="915.2" cy="818.4"/><circle cx="919.8" cy="818.5"/><circle cx="921.2" cy="819.2"/><circle cx="919.8" cy="819.5"/><circle cx="915.2" cy="820.0"/><circle cx="918.5" cy="820.6"/><circle cx="924.8" cy="820.7"/><circle cx="915.2" cy="820.9"/><circle cx="915.2" cy="821.5"/><circle cx="918.5" cy="822.1"/><circle cx="921.2" cy="822.2"/><circle cx="915.2" cy="822.4"/><circle cx="911.2" cy="822.8"/><circle cx="911.2" cy="823.1"/><circle cx="918.5" cy="823.4"/><circle cx="911.2" cy="823.8"/><circle cx="915.2" cy="824.4"/><circle cx="919.8" cy="824.6"/><circle cx="915.2" cy="825.1"/><circle cx="918.5" cy="825.5"/><circle cx="921.2" cy="825.6"/><circle cx="944.5" cy="813.4"/><circle cx="944.5" cy="813.9"/><circle cx="944.5" cy="817.4"/><circle cx="944.5" cy="818.5"/><circle cx="944.5" cy="820.4"/><circle cx="944.5" cy="821.3"/><circle cx="944.5" cy="822.5"/><circle cx="944.5" cy="824.2"/><circle cx="944.5" cy="824.9"/><circle cx="720.8" cy="839.1"/><circle cx="721.0" cy="839.3"/><circle cx="720.8" cy="828.5"/><circle cx="720.8" cy="830.5"/><circle cx="720.8" cy="833.9"/><circle cx="720.8" cy="836.5"/><circle cx="720.8" cy="830.0"/><circle cx="720.8" cy="832.7"/><circle cx="720.8" cy="834.8"/><circle cx="720.8" cy="838.3"/><circle cx="720.8" cy="836.0"/><circle cx="720.8" cy="832.8"/><circle cx="720.8" cy="832.4"/><circle cx="721.0" cy="830.5"/><circle cx="720.9" cy="828.4"/><circle cx="720.9" cy="831.2"/><circle cx="720.9" cy="835.4"/><circle cx="722.1" cy="829.6"/><circle cx="721.9" cy="832.6"/><circle cx="722.0" cy="836.0"/><circle cx="722.0" cy="832.8"/><circle cx="722.0" cy="835.7"/><circle cx="721.9" cy="828.9"/><circle cx="722.1" cy="835.5"/><circle cx="722.0" cy="833.3"/><circle cx="722.0" cy="835.4"/><circle cx="722.1" cy="831.0"/><circle cx="722.0" cy="837.8"/><circle cx="722.0" cy="833.7"/><circle cx="723.1" cy="837.0"/><circle cx="723.1" cy="835.9"/><circle cx="723.2" cy="828.2"/><circle cx="723.2" cy="835.1"/><circle cx="723.2" cy="835.4"/><circle cx="723.1" cy="835.6"/><circle cx="723.3" cy="833.4"/><circle cx="723.1" cy="829.8"/><circle cx="723.2" cy="832.0"/><circle cx="723.2" cy="838.8"/><circle cx="723.0" cy="833.7"/><circle cx="723.1" cy="830.3"/><circle cx="723.2" cy="837.3"/><circle cx="723.1" cy="831.1"/><circle cx="723.1" cy="836.0"/><circle cx="723.0" cy="835.3"/><circle cx="729.8" cy="831.5"/><circle cx="729.7" cy="829.5"/><circle cx="729.8" cy="832.9"/><circle cx="729.7" cy="829.2"/><circle cx="729.7" cy="836.4"/><circle cx="729.7" cy="834.6"/><circle cx="729.8" cy="832.1"/><circle cx="730.7" cy="838.6"/><circle cx="730.6" cy="840.2"/><circle cx="730.6" cy="832.5"/><circle cx="730.7" cy="834.0"/><circle cx="730.7" cy="836.8"/><circle cx="730.6" cy="835.7"/><circle cx="730.7" cy="832.7"/><circle cx="730.8" cy="831.8"/><circle cx="731.7" cy="831.7"/><circle cx="731.8" cy="831.9"/><circle cx="731.8" cy="832.3"/><circle cx="731.9" cy="837.7"/><circle cx="731.8" cy="833.1"/><circle cx="731.7" cy="834.4"/><circle cx="731.7" cy="835.9"/><circle cx="733.2" cy="837.5"/><circle cx="733.3" cy="833.9"/><circle cx="733.4" cy="830.3"/><circle cx="733.3" cy="837.2"/><circle cx="733.3" cy="828.8"/><circle cx="733.4" cy="827.6"/><circle cx="733.3" cy="836.4"/><circle cx="733.4" cy="829.5"/><circle cx="733.2" cy="834.6"/><circle cx="733.2" cy="835.7"/><circle cx="733.2" cy="835.4"/><circle cx="733.3" cy="834.7"/><circle cx="734.4" cy="828.6"/><circle cx="734.3" cy="837.7"/><circle cx="734.4" cy="836.4"/><circle cx="734.3" cy="835.5"/><circle cx="734.4" cy="830.6"/><circle cx="734.5" cy="835.9"/><circle cx="734.5" cy="832.6"/><circle cx="734.3" cy="833.4"/><circle cx="734.4" cy="835.3"/><circle cx="734.5" cy="833.8"/><circle cx="734.5" cy="835.1"/><circle cx="736.0" cy="836.8"/><circle cx="735.9" cy="830.7"/><circle cx="736.0" cy="835.8"/><circle cx="735.9" cy="833.6"/><circle cx="735.9" cy="832.0"/><circle cx="735.9" cy="829.1"/><circle cx="736.0" cy="835.2"/><circle cx="736.9" cy="837.6"/><circle cx="737.0" cy="830.4"/><circle cx="736.9" cy="830.9"/><circle cx="737.0" cy="838.9"/><circle cx="736.9" cy="836.7"/><circle cx="736.8" cy="835.2"/><circle cx="736.9" cy="831.4"/><circle cx="736.9" cy="835.6"/><circle cx="736.8" cy="833.6"/><circle cx="738.2" cy="836.4"/><circle cx="738.3" cy="828.6"/><circle cx="738.2" cy="831.5"/><circle cx="738.2" cy="826.7"/><circle cx="738.2" cy="836.1"/><circle cx="738.2" cy="833.5"/><circle cx="738.3" cy="835.6"/><circle cx="738.3" cy="834.7"/><circle cx="738.2" cy="832.3"/><circle cx="738.2" cy="835.1"/><circle cx="739.3" cy="834.0"/><circle cx="739.3" cy="830.8"/><circle cx="739.3" cy="835.4"/><circle cx="739.3" cy="832.9"/><circle cx="739.4" cy="839.1"/><circle cx="739.3" cy="836.4"/><circle cx="739.3" cy="833.4"/><circle cx="739.4" cy="834.9"/><circle cx="739.5" cy="830.5"/><circle cx="739.3" cy="836.5"/><circle cx="739.2" cy="832.1"/><circle cx="739.4" cy="832.4"/><circle cx="740.6" cy="837.8"/><circle cx="740.7" cy="832.9"/><circle cx="740.7" cy="838.4"/><circle cx="740.9" cy="827.6"/><circle cx="740.7" cy="836.2"/><circle cx="740.7" cy="841.6"/><circle cx="740.7" cy="830.8"/><circle cx="740.8" cy="839.4"/><circle cx="740.6" cy="835.4"/><circle cx="740.8" cy="834.4"/><circle cx="740.8" cy="839.9"/><circle cx="743.3" cy="832.8"/><circle cx="743.1" cy="837.6"/><circle cx="743.1" cy="833.9"/><circle cx="743.2" cy="834.2"/><circle cx="743.3" cy="836.1"/><circle cx="743.1" cy="828.8"/><circle cx="744.2" cy="834.3"/><circle cx="744.2" cy="830.8"/><circle cx="744.3" cy="828.2"/><circle cx="744.2" cy="837.0"/><circle cx="744.2" cy="835.4"/><circle cx="744.4" cy="829.9"/><circle cx="744.3" cy="835.8"/><circle cx="744.3" cy="835.1"/><circle cx="744.4" cy="838.5"/><circle cx="744.3" cy="834.9"/><circle cx="744.4" cy="831.7"/><circle cx="744.2" cy="833.4"/><circle cx="748.3" cy="829.9"/><circle cx="748.3" cy="831.6"/><circle cx="748.3" cy="829.9"/><circle cx="748.2" cy="836.6"/><circle cx="748.3" cy="839.2"/><circle cx="748.2" cy="834.2"/><circle cx="748.3" cy="835.4"/><circle cx="748.4" cy="831.4"/><circle cx="748.2" cy="837.8"/><circle cx="748.3" cy="834.9"/><circle cx="748.3" cy="841.2"/><circle cx="748.4" cy="838.4"/><circle cx="748.2" cy="837.6"/><circle cx="748.4" cy="835.8"/><circle cx="749.5" cy="836.3"/><circle cx="749.5" cy="833.9"/><circle cx="749.7" cy="832.7"/><circle cx="749.5" cy="836.0"/><circle cx="749.5" cy="834.7"/><circle cx="749.7" cy="833.6"/><circle cx="749.5" cy="835.1"/><circle cx="749.5" cy="835.6"/><circle cx="749.5" cy="835.9"/><circle cx="750.5" cy="834.8"/><circle cx="750.4" cy="833.3"/><circle cx="750.6" cy="835.2"/><circle cx="750.5" cy="829.8"/><circle cx="750.6" cy="835.7"/><circle cx="750.5" cy="830.5"/><circle cx="750.4" cy="832.1"/><circle cx="750.5" cy="830.7"/><circle cx="751.7" cy="838.1"/><circle cx="751.8" cy="836.5"/><circle cx="751.8" cy="831.4"/><circle cx="751.9" cy="830.0"/><circle cx="751.9" cy="831.6"/><circle cx="751.9" cy="834.2"/><circle cx="751.9" cy="835.9"/><circle cx="751.9" cy="837.7"/><circle cx="751.8" cy="836.9"/><circle cx="751.9" cy="832.4"/><circle cx="754.4" cy="836.8"/><circle cx="754.3" cy="838.2"/><circle cx="754.3" cy="833.0"/><circle cx="754.3" cy="832.5"/><circle cx="754.4" cy="832.2"/><circle cx="754.2" cy="834.6"/><circle cx="754.3" cy="835.1"/><circle cx="754.3" cy="833.7"/><circle cx="754.4" cy="830.6"/><circle cx="754.2" cy="840.3"/><circle cx="755.6" cy="830.4"/><circle cx="755.7" cy="831.2"/><circle cx="755.7" cy="834.3"/><circle cx="755.7" cy="836.0"/><circle cx="755.8" cy="832.7"/><circle cx="755.6" cy="834.9"/><circle cx="755.7" cy="832.1"/><circle cx="755.7" cy="835.3"/><circle cx="755.7" cy="835.5"/><circle cx="756.7" cy="837.4"/><circle cx="756.8" cy="832.5"/><circle cx="756.6" cy="844.0"/><circle cx="756.7" cy="832.3"/><circle cx="756.7" cy="828.3"/><circle cx="756.6" cy="836.1"/><circle cx="756.7" cy="838.6"/><circle cx="756.6" cy="834.5"/><circle cx="756.6" cy="831.2"/><circle cx="756.8" cy="832.0"/><circle cx="756.6" cy="840.5"/><circle cx="756.7" cy="829.9"/><circle cx="758.3" cy="832.0"/><circle cx="758.1" cy="829.9"/><circle cx="758.1" cy="832.8"/><circle cx="758.3" cy="834.1"/><circle cx="758.2" cy="836.2"/><circle cx="758.1" cy="834.9"/><circle cx="758.3" cy="837.8"/><circle cx="759.3" cy="830.4"/><circle cx="759.3" cy="828.2"/><circle cx="759.3" cy="833.4"/><circle cx="759.4" cy="834.3"/><circle cx="759.3" cy="835.1"/><circle cx="759.3" cy="831.6"/><circle cx="759.2" cy="836.4"/><circle cx="759.4" cy="836.1"/><circle cx="760.6" cy="831.2"/><circle cx="760.5" cy="835.0"/><circle cx="760.6" cy="833.0"/><circle cx="760.7" cy="828.4"/><circle cx="760.5" cy="836.3"/><circle cx="760.6" cy="837.8"/><circle cx="760.6" cy="833.4"/><circle cx="760.7" cy="834.6"/><circle cx="761.8" cy="836.9"/><circle cx="761.9" cy="833.3"/><circle cx="761.9" cy="835.9"/><circle cx="761.8" cy="830.6"/><circle cx="761.9" cy="836.5"/><circle cx="761.9" cy="831.6"/><circle cx="762.0" cy="832.7"/><circle cx="763.2" cy="838.1"/><circle cx="763.3" cy="833.0"/><circle cx="763.2" cy="841.3"/><circle cx="763.2" cy="833.9"/><circle cx="763.3" cy="834.1"/><circle cx="763.2" cy="835.4"/><circle cx="763.2" cy="830.3"/><circle cx="763.2" cy="827.1"/><circle cx="763.2" cy="837.0"/><circle cx="763.2" cy="831.7"/><circle cx="764.2" cy="830.2"/><circle cx="764.2" cy="837.9"/><circle cx="764.4" cy="836.9"/><circle cx="764.3" cy="831.2"/><circle cx="764.2" cy="836.4"/><circle cx="764.2" cy="834.8"/><circle cx="764.2" cy="835.3"/><circle cx="764.2" cy="829.2"/><circle cx="764.4" cy="835.6"/><circle cx="764.3" cy="831.6"/><circle cx="765.8" cy="837.8"/><circle cx="765.8" cy="830.6"/><circle cx="765.8" cy="829.5"/><circle cx="765.7" cy="838.1"/><circle cx="765.8" cy="833.7"/><circle cx="765.7" cy="834.9"/><circle cx="765.7" cy="838.7"/><circle cx="765.7" cy="831.6"/><circle cx="765.8" cy="832.7"/><circle cx="766.8" cy="832.0"/><circle cx="766.9" cy="829.3"/><circle cx="766.7" cy="829.7"/><circle cx="766.7" cy="838.6"/><circle cx="766.8" cy="836.9"/><circle cx="766.8" cy="833.6"/><circle cx="766.7" cy="835.2"/><circle cx="766.8" cy="839.8"/><circle cx="766.8" cy="835.9"/><circle cx="766.8" cy="832.5"/><circle cx="767.8" cy="836.0"/><circle cx="767.9" cy="838.9"/><circle cx="767.9" cy="840.5"/><circle cx="767.8" cy="830.6"/><circle cx="768.0" cy="836.4"/><circle cx="767.9" cy="837.1"/><circle cx="768.0" cy="834.5"/><circle cx="768.0" cy="834.9"/><circle cx="768.0" cy="836.8"/><circle cx="767.9" cy="829.3"/><circle cx="767.9" cy="832.9"/><circle cx="767.9" cy="841.6"/><circle cx="768.0" cy="826.5"/><circle cx="768.0" cy="831.5"/><circle cx="769.1" cy="831.8"/><circle cx="769.2" cy="827.8"/><circle cx="769.1" cy="832.5"/><circle cx="769.1" cy="833.6"/><circle cx="769.1" cy="831.4"/><circle cx="769.1" cy="835.7"/><circle cx="769.2" cy="835.1"/><circle cx="769.2" cy="835.8"/><circle cx="769.1" cy="836.2"/><circle cx="770.3" cy="832.0"/><circle cx="770.2" cy="828.7"/><circle cx="770.2" cy="831.6"/><circle cx="770.3" cy="836.4"/><circle cx="770.2" cy="830.7"/><circle cx="770.2" cy="837.7"/><circle cx="770.3" cy="834.4"/><circle cx="771.7" cy="836.0"/><circle cx="771.9" cy="839.2"/><circle cx="771.8" cy="831.3"/><circle cx="771.7" cy="838.4"/><circle cx="771.8" cy="832.2"/><circle cx="771.7" cy="835.0"/><circle cx="773.1" cy="830.8"/><circle cx="773.3" cy="836.4"/><circle cx="773.1" cy="833.4"/><circle cx="773.1" cy="832.4"/><circle cx="773.2" cy="835.8"/><circle cx="773.1" cy="834.5"/><circle cx="773.3" cy="831.2"/><circle cx="773.1" cy="831.6"/><circle cx="773.1" cy="835.6"/><circle cx="773.2" cy="834.7"/><circle cx="773.3" cy="831.8"/><circle cx="773.1" cy="829.0"/><circle cx="774.5" cy="831.0"/><circle cx="774.3" cy="827.4"/><circle cx="774.3" cy="836.7"/><circle cx="774.3" cy="833.7"/><circle cx="774.5" cy="828.8"/><circle cx="774.4" cy="836.5"/><circle cx="774.5" cy="835.8"/><circle cx="774.3" cy="829.2"/><circle cx="774.5" cy="833.2"/><circle cx="774.4" cy="832.5"/><circle cx="775.4" cy="835.5"/><circle cx="775.3" cy="838.7"/><circle cx="775.5" cy="832.3"/><circle cx="775.4" cy="829.7"/><circle cx="775.4" cy="839.1"/><circle cx="775.4" cy="832.7"/><circle cx="775.4" cy="834.7"/><circle cx="775.5" cy="833.7"/><circle cx="775.4" cy="828.7"/><circle cx="775.3" cy="836.9"/><circle cx="775.4" cy="836.5"/><circle cx="776.7" cy="828.7"/><circle cx="776.7" cy="834.1"/><circle cx="776.8" cy="831.4"/><circle cx="776.6" cy="835.4"/><circle cx="776.6" cy="831.9"/><circle cx="776.6" cy="837.8"/><circle cx="776.7" cy="836.1"/><circle cx="776.6" cy="833.2"/><circle cx="778.1" cy="837.0"/><circle cx="778.2" cy="833.0"/><circle cx="778.1" cy="832.8"/><circle cx="778.2" cy="835.9"/><circle cx="778.1" cy="830.4"/><circle cx="778.0" cy="834.2"/><circle cx="778.2" cy="832.3"/><circle cx="778.1" cy="835.0"/><circle cx="778.1" cy="834.7"/><circle cx="885.9" cy="828.8"/><circle cx="885.7" cy="842.0"/><circle cx="885.8" cy="829.3"/><circle cx="885.7" cy="840.3"/><circle cx="885.8" cy="838.9"/><circle cx="885.8" cy="829.8"/><circle cx="885.7" cy="830.4"/><circle cx="887.4" cy="837.5"/><circle cx="887.3" cy="831.8"/><circle cx="887.3" cy="836.8"/><circle cx="887.4" cy="832.3"/><circle cx="887.4" cy="834.3"/><circle cx="887.4" cy="836.5"/><circle cx="887.3" cy="832.7"/><circle cx="888.4" cy="826.5"/><circle cx="888.3" cy="833.3"/><circle cx="888.4" cy="828.5"/><circle cx="888.3" cy="834.6"/><circle cx="888.2" cy="830.6"/><circle cx="888.2" cy="831.6"/><circle cx="888.3" cy="835.3"/><circle cx="888.4" cy="834.9"/><circle cx="888.3" cy="836.0"/><circle cx="888.3" cy="833.1"/><circle cx="888.3" cy="829.1"/><circle cx="888.3" cy="836.3"/><circle cx="888.1" cy="833.6"/><circle cx="888.3" cy="837.4"/><circle cx="897.0" cy="831.2"/><circle cx="897.0" cy="834.9"/><circle cx="897.0" cy="827.4"/><circle cx="897.0" cy="836.3"/><circle cx="897.0" cy="831.5"/><circle cx="897.2" cy="835.3"/><circle cx="897.0" cy="833.9"/><circle cx="897.0" cy="829.0"/><circle cx="897.2" cy="833.8"/><circle cx="897.2" cy="832.1"/><circle cx="897.1" cy="837.8"/><circle cx="897.2" cy="830.3"/><circle cx="897.0" cy="837.7"/><circle cx="897.2" cy="832.8"/><circle cx="898.3" cy="830.1"/><circle cx="898.3" cy="836.1"/><circle cx="898.3" cy="830.9"/><circle cx="898.3" cy="834.1"/><circle cx="898.4" cy="831.1"/><circle cx="898.4" cy="834.7"/><circle cx="898.5" cy="836.3"/><circle cx="898.3" cy="832.4"/><circle cx="899.6" cy="837.7"/><circle cx="899.5" cy="836.6"/><circle cx="899.7" cy="833.1"/><circle cx="899.5" cy="833.9"/><circle cx="899.5" cy="830.1"/><circle cx="899.6" cy="833.8"/><circle cx="899.6" cy="835.1"/><circle cx="899.6" cy="831.4"/><circle cx="899.7" cy="836.1"/><circle cx="902.1" cy="827.4"/><circle cx="902.0" cy="829.8"/><circle cx="902.0" cy="837.4"/><circle cx="902.1" cy="829.1"/><circle cx="902.0" cy="835.9"/><circle cx="902.0" cy="831.4"/><circle cx="902.0" cy="831.4"/><circle cx="902.0" cy="835.2"/><circle cx="902.0" cy="837.8"/><circle cx="902.0" cy="833.4"/><circle cx="902.1" cy="835.8"/><circle cx="902.1" cy="832.5"/><circle cx="901.9" cy="834.9"/><circle cx="902.0" cy="835.1"/><circle cx="903.3" cy="832.4"/><circle cx="903.2" cy="829.6"/><circle cx="903.2" cy="837.5"/><circle cx="903.3" cy="834.3"/><circle cx="903.2" cy="837.8"/><circle cx="903.4" cy="837.3"/><circle cx="903.3" cy="837.0"/><circle cx="903.4" cy="836.7"/><circle cx="903.2" cy="835.5"/><circle cx="903.3" cy="832.5"/><circle cx="904.5" cy="830.6"/><circle cx="904.4" cy="828.9"/><circle cx="904.3" cy="839.2"/><circle cx="904.5" cy="832.1"/><circle cx="904.5" cy="833.2"/><circle cx="904.5" cy="836.4"/><circle cx="904.4" cy="832.4"/><circle cx="904.5" cy="837.7"/><circle cx="904.4" cy="838.1"/><circle cx="904.3" cy="834.8"/><circle cx="905.7" cy="830.8"/><circle cx="905.7" cy="835.6"/><circle cx="905.6" cy="834.6"/><circle cx="905.7" cy="837.6"/><circle cx="905.7" cy="831.6"/><circle cx="905.7" cy="831.1"/><circle cx="905.8" cy="833.0"/><circle cx="905.7" cy="833.2"/><circle cx="905.7" cy="828.9"/><circle cx="905.7" cy="826.6"/><circle cx="907.2" cy="830.9"/><circle cx="907.3" cy="834.4"/><circle cx="907.3" cy="831.6"/><circle cx="907.1" cy="834.5"/><circle cx="907.1" cy="832.6"/><circle cx="907.1" cy="836.5"/><circle cx="908.1" cy="830.2"/><circle cx="908.2" cy="835.9"/><circle cx="908.2" cy="832.1"/><circle cx="908.2" cy="834.1"/><circle cx="908.2" cy="832.3"/><circle cx="908.2" cy="838.3"/><circle cx="908.2" cy="835.5"/><circle cx="912.2" cy="833.9"/><circle cx="912.1" cy="836.2"/><circle cx="912.1" cy="832.6"/><circle cx="912.1" cy="834.7"/><circle cx="912.2" cy="830.9"/><circle cx="912.3" cy="835.1"/><circle cx="912.3" cy="832.1"/><circle cx="912.0" cy="827.6"/><circle cx="912.1" cy="836.0"/><circle cx="913.3" cy="830.3"/><circle cx="913.2" cy="830.5"/><circle cx="913.2" cy="833.5"/><circle cx="913.2" cy="836.6"/><circle cx="913.2" cy="831.3"/><circle cx="913.2" cy="831.6"/><circle cx="913.4" cy="836.9"/><circle cx="913.3" cy="835.0"/><circle cx="913.3" cy="835.6"/><circle cx="913.2" cy="832.9"/><circle cx="914.7" cy="835.8"/><circle cx="914.7" cy="830.7"/><circle cx="914.7" cy="835.0"/><circle cx="914.8" cy="836.1"/><circle cx="914.7" cy="834.0"/><circle cx="914.7" cy="832.6"/><circle cx="914.7" cy="838.2"/><circle cx="914.6" cy="832.3"/><circle cx="915.8" cy="832.8"/><circle cx="915.9" cy="837.3"/><circle cx="915.7" cy="836.0"/><circle cx="915.7" cy="832.4"/><circle cx="915.8" cy="831.6"/><circle cx="915.8" cy="831.9"/><circle cx="915.9" cy="833.2"/><circle cx="915.8" cy="834.3"/><circle cx="915.7" cy="835.9"/><circle cx="915.9" cy="836.7"/><circle cx="915.9" cy="836.6"/><circle cx="918.3" cy="838.0"/><circle cx="918.3" cy="835.5"/><circle cx="918.3" cy="831.7"/><circle cx="918.5" cy="830.7"/><circle cx="918.4" cy="832.4"/><circle cx="918.4" cy="835.1"/><circle cx="918.5" cy="834.0"/><circle cx="920.8" cy="835.8"/><circle cx="920.8" cy="832.9"/><circle cx="920.8" cy="832.5"/><circle cx="920.8" cy="833.7"/><circle cx="920.8" cy="834.7"/><circle cx="920.8" cy="835.2"/><circle cx="920.9" cy="834.9"/><circle cx="920.9" cy="833.0"/><circle cx="922.3" cy="836.4"/><circle cx="922.2" cy="838.2"/><circle cx="922.2" cy="833.7"/><circle cx="922.3" cy="833.8"/><circle cx="922.1" cy="837.8"/><circle cx="922.3" cy="831.0"/><circle cx="922.3" cy="830.4"/><circle cx="922.1" cy="835.8"/><circle cx="922.1" cy="834.0"/><circle cx="923.0" cy="831.8"/><circle cx="923.1" cy="838.3"/><circle cx="923.0" cy="836.4"/><circle cx="923.1" cy="833.8"/><circle cx="923.0" cy="836.7"/><circle cx="923.2" cy="831.4"/><circle cx="923.2" cy="836.5"/><circle cx="923.1" cy="827.4"/><circle cx="924.3" cy="833.2"/><circle cx="924.4" cy="829.7"/><circle cx="924.3" cy="830.2"/><circle cx="924.3" cy="834.9"/><circle cx="924.4" cy="830.6"/><circle cx="924.3" cy="835.9"/><circle cx="924.3" cy="835.0"/><circle cx="924.3" cy="832.3"/><circle cx="924.3" cy="837.5"/><circle cx="925.5" cy="832.0"/><circle cx="925.6" cy="829.2"/><circle cx="925.8" cy="836.5"/><circle cx="925.8" cy="840.5"/><circle cx="925.8" cy="836.2"/><circle cx="925.6" cy="839.4"/><circle cx="925.7" cy="835.4"/><circle cx="925.6" cy="834.0"/><circle cx="925.6" cy="842.2"/><circle cx="925.6" cy="832.9"/><circle cx="925.6" cy="831.5"/><circle cx="926.8" cy="839.4"/><circle cx="926.9" cy="831.0"/><circle cx="926.8" cy="833.1"/><circle cx="926.8" cy="835.4"/><circle cx="926.8" cy="832.6"/><circle cx="927.0" cy="834.1"/><circle cx="926.8" cy="836.6"/><circle cx="926.9" cy="837.2"/><circle cx="928.3" cy="832.7"/><circle cx="928.3" cy="832.9"/><circle cx="928.3" cy="836.1"/><circle cx="928.4" cy="837.4"/><circle cx="928.3" cy="829.0"/><circle cx="928.4" cy="833.4"/><circle cx="928.5" cy="834.7"/><circle cx="928.3" cy="834.2"/><circle cx="928.3" cy="839.8"/><circle cx="928.4" cy="836.9"/><circle cx="934.3" cy="836.8"/><circle cx="934.2" cy="832.0"/><circle cx="934.2" cy="836.0"/><circle cx="934.3" cy="835.5"/><circle cx="934.2" cy="834.6"/><circle cx="934.3" cy="835.2"/><circle cx="934.3" cy="832.7"/><circle cx="935.3" cy="832.1"/><circle cx="935.3" cy="837.5"/><circle cx="935.4" cy="828.1"/><circle cx="935.4" cy="837.5"/><circle cx="935.3" cy="829.9"/><circle cx="935.3" cy="833.4"/><circle cx="935.5" cy="831.4"/><circle cx="935.5" cy="831.1"/><circle cx="935.4" cy="833.1"/><circle cx="935.4" cy="834.8"/><circle cx="935.5" cy="835.9"/><circle cx="936.7" cy="837.2"/><circle cx="936.8" cy="833.1"/><circle cx="936.8" cy="830.4"/><circle cx="936.9" cy="836.4"/><circle cx="936.7" cy="831.7"/><circle cx="936.8" cy="836.1"/><circle cx="936.9" cy="835.3"/><circle cx="936.8" cy="834.4"/><circle cx="936.9" cy="832.8"/><circle cx="937.9" cy="836.4"/><circle cx="937.9" cy="833.4"/><circle cx="937.9" cy="834.3"/><circle cx="938.0" cy="836.0"/><circle cx="937.9" cy="835.2"/><circle cx="938.1" cy="835.1"/><circle cx="938.1" cy="834.5"/><circle cx="939.1" cy="833.5"/><circle cx="939.2" cy="832.9"/><circle cx="939.2" cy="837.0"/><circle cx="939.2" cy="831.1"/><circle cx="939.0" cy="834.1"/><circle cx="939.1" cy="836.3"/><circle cx="939.1" cy="834.2"/><circle cx="939.2" cy="830.4"/><circle cx="940.5" cy="830.8"/><circle cx="940.5" cy="833.7"/><circle cx="940.3" cy="831.4"/><circle cx="940.6" cy="840.2"/><circle cx="940.3" cy="837.4"/><circle cx="940.4" cy="832.6"/><circle cx="940.6" cy="832.1"/><circle cx="940.5" cy="832.3"/><circle cx="940.5" cy="827.8"/><circle cx="940.5" cy="836.2"/><circle cx="940.6" cy="835.6"/><circle cx="940.5" cy="839.4"/><circle cx="943.0" cy="832.5"/><circle cx="943.0" cy="833.5"/><circle cx="943.1" cy="829.9"/><circle cx="943.0" cy="835.6"/><circle cx="943.0" cy="836.9"/><circle cx="942.9" cy="836.2"/><circle cx="943.1" cy="838.3"/><circle cx="942.9" cy="830.3"/><circle cx="943.1" cy="834.4"/><circle cx="943.1" cy="833.1"/><circle cx="944.3" cy="835.3"/><circle cx="944.3" cy="837.2"/><circle cx="944.4" cy="832.5"/><circle cx="944.3" cy="833.4"/><circle cx="944.5" cy="834.3"/><circle cx="944.4" cy="837.1"/><circle cx="944.3" cy="836.5"/><circle cx="944.4" cy="836.2"/><circle cx="944.5" cy="834.9"/><circle cx="944.3" cy="835.5"/><circle cx="945.3" cy="837.2"/><circle cx="945.5" cy="836.8"/><circle cx="945.4" cy="829.3"/><circle cx="945.4" cy="832.4"/><circle cx="945.4" cy="833.8"/><circle cx="945.3" cy="835.5"/><circle cx="945.5" cy="832.8"/><circle cx="945.4" cy="833.0"/><circle cx="945.4" cy="830.6"/><circle cx="945.4" cy="836.6"/><circle cx="945.4" cy="835.1"/><circle cx="946.6" cy="836.0"/><circle cx="946.6" cy="836.5"/><circle cx="946.7" cy="835.1"/><circle cx="946.8" cy="835.4"/><circle cx="946.6" cy="831.9"/><circle cx="946.7" cy="833.4"/><circle cx="946.8" cy="836.2"/><circle cx="947.8" cy="835.6"/><circle cx="947.9" cy="836.0"/><circle cx="947.9" cy="833.9"/><circle cx="947.9" cy="835.5"/><circle cx="947.8" cy="834.1"/><circle cx="947.9" cy="835.2"/><circle cx="947.8" cy="834.9"/><circle cx="949.1" cy="833.0"/><circle cx="949.1" cy="833.3"/><circle cx="949.2" cy="833.5"/><circle cx="949.0" cy="833.4"/><circle cx="949.0" cy="834.2"/><circle cx="949.1" cy="836.4"/><circle cx="949.0" cy="836.1"/><circle cx="949.0" cy="835.0"/><circle cx="949.1" cy="834.3"/><circle cx="949.2" cy="834.9"/><circle cx="949.2" cy="836.0"/><circle cx="786.6" cy="837.7"/><circle cx="786.8" cy="837.5"/><circle cx="786.6" cy="831.7"/><circle cx="786.6" cy="833.2"/><circle cx="786.6" cy="828.8"/><circle cx="786.8" cy="830.8"/><circle cx="786.6" cy="836.9"/><circle cx="786.7" cy="836.6"/><circle cx="786.6" cy="835.1"/><circle cx="790.4" cy="839.5"/><circle cx="790.3" cy="838.8"/><circle cx="795.5" cy="829.3"/><circle cx="795.4" cy="836.9"/><circle cx="795.5" cy="836.1"/><circle cx="795.5" cy="839.5"/><circle cx="795.4" cy="826.7"/><circle cx="795.5" cy="834.8"/><circle cx="795.5" cy="831.5"/><circle cx="795.6" cy="835.8"/><circle cx="795.6" cy="826.6"/><circle cx="795.5" cy="831.7"/><circle cx="796.3" cy="833.5"/><circle cx="796.3" cy="834.6"/><circle cx="796.4" cy="838.0"/><circle cx="796.3" cy="835.7"/><circle cx="796.3" cy="834.3"/><circle cx="796.4" cy="840.3"/><circle cx="796.3" cy="829.1"/><circle cx="796.3" cy="830.7"/><circle cx="796.3" cy="836.9"/><circle cx="796.4" cy="827.5"/><circle cx="796.3" cy="834.8"/><circle cx="796.3" cy="831.5"/><circle cx="796.4" cy="830.2"/><circle cx="798.0" cy="839.6"/><circle cx="798.5" cy="827.1"/><circle cx="798.5" cy="840.1"/><circle cx="798.5" cy="840.4"/><circle cx="798.5" cy="837.9"/><circle cx="798.7" cy="841.2"/><circle cx="798.6" cy="838.0"/><circle cx="800.2" cy="826.9"/><circle cx="800.2" cy="841.9"/><circle cx="800.2" cy="840.7"/><circle cx="801.7" cy="838.6"/><circle cx="801.7" cy="837.5"/><circle cx="801.8" cy="828.1"/><circle cx="802.8" cy="830.3"/><circle cx="802.6" cy="837.6"/><circle cx="802.8" cy="830.7"/><circle cx="802.7" cy="834.9"/><circle cx="802.6" cy="832.2"/><circle cx="802.6" cy="837.2"/><circle cx="811.6" cy="828.9"/><circle cx="811.6" cy="834.9"/><circle cx="811.6" cy="835.5"/><circle cx="811.5" cy="829.0"/><circle cx="811.6" cy="838.0"/><circle cx="811.6" cy="832.2"/><circle cx="812.8" cy="838.4"/><circle cx="812.7" cy="832.2"/><circle cx="812.6" cy="840.3"/><circle cx="812.7" cy="837.0"/><circle cx="812.7" cy="833.8"/><circle cx="812.6" cy="830.9"/><circle cx="812.6" cy="839.3"/><circle cx="812.6" cy="836.2"/><circle cx="812.7" cy="836.0"/><circle cx="812.6" cy="829.8"/><circle cx="812.7" cy="835.5"/><circle cx="819.1" cy="826.9"/><circle cx="819.1" cy="839.5"/><circle cx="819.0" cy="836.0"/><circle cx="819.0" cy="829.8"/><circle cx="819.1" cy="835.7"/><circle cx="819.1" cy="832.1"/><circle cx="819.0" cy="834.8"/><circle cx="821.3" cy="836.3"/><circle cx="821.3" cy="830.3"/><circle cx="821.2" cy="831.9"/><circle cx="821.3" cy="838.3"/><circle cx="821.3" cy="836.8"/><circle cx="821.3" cy="836.9"/><circle cx="821.3" cy="832.0"/><circle cx="821.4" cy="834.5"/><circle cx="821.2" cy="834.2"/><circle cx="821.3" cy="831.0"/><circle cx="821.3" cy="829.8"/><circle cx="823.8" cy="838.1"/><circle cx="823.9" cy="838.2"/><circle cx="824.0" cy="838.1"/><circle cx="831.3" cy="828.0"/><circle cx="831.2" cy="840.5"/><circle cx="831.2" cy="828.8"/><circle cx="831.3" cy="829.2"/><circle cx="833.9" cy="827.1"/><circle cx="834.0" cy="831.0"/><circle cx="833.9" cy="838.7"/><circle cx="833.9" cy="837.0"/><circle cx="833.9" cy="836.6"/><circle cx="833.9" cy="840.5"/><circle cx="833.9" cy="832.5"/><circle cx="833.9" cy="835.0"/><circle cx="833.8" cy="833.2"/><circle cx="837.6" cy="835.4"/><circle cx="837.6" cy="836.8"/><circle cx="837.6" cy="830.6"/><circle cx="837.5" cy="833.3"/><circle cx="837.5" cy="836.0"/><circle cx="837.6" cy="833.6"/><circle cx="837.7" cy="835.4"/><circle cx="838.8" cy="836.0"/><circle cx="839.0" cy="837.3"/><circle cx="838.8" cy="837.1"/><circle cx="838.8" cy="836.4"/><circle cx="838.8" cy="836.3"/><circle cx="838.9" cy="836.1"/><circle cx="838.8" cy="833.2"/><circle cx="838.8" cy="834.4"/><circle cx="845.0" cy="839.6"/><circle cx="847.7" cy="828.4"/><circle cx="847.7" cy="830.2"/><circle cx="847.7" cy="836.7"/><circle cx="847.6" cy="839.4"/><circle cx="847.8" cy="830.7"/><circle cx="847.6" cy="833.3"/><circle cx="847.7" cy="833.5"/><circle cx="847.7" cy="837.5"/><circle cx="847.7" cy="838.4"/><circle cx="848.9" cy="837.4"/><circle cx="848.8" cy="835.6"/><circle cx="848.9" cy="833.1"/><circle cx="848.8" cy="831.0"/><circle cx="848.9" cy="826.6"/><circle cx="848.8" cy="830.1"/><circle cx="848.9" cy="838.0"/><circle cx="848.9" cy="835.0"/><circle cx="848.9" cy="827.5"/><circle cx="848.9" cy="834.2"/><circle cx="848.8" cy="833.8"/><circle cx="848.9" cy="838.2"/><circle cx="848.9" cy="827.9"/><circle cx="848.8" cy="830.3"/><circle cx="849.8" cy="830.7"/><circle cx="849.8" cy="839.2"/><circle cx="850.0" cy="837.0"/><circle cx="849.9" cy="829.2"/><circle cx="849.9" cy="833.1"/><circle cx="849.8" cy="832.7"/><circle cx="849.8" cy="832.2"/><circle cx="850.0" cy="834.6"/><circle cx="849.9" cy="840.2"/><circle cx="849.9" cy="830.6"/><circle cx="849.9" cy="836.1"/><circle cx="850.0" cy="842.4"/><circle cx="849.9" cy="831.9"/><circle cx="851.2" cy="831.1"/><circle cx="851.2" cy="837.2"/><circle cx="851.2" cy="838.5"/><circle cx="851.1" cy="832.4"/><circle cx="851.2" cy="833.0"/><circle cx="851.3" cy="836.1"/><circle cx="851.3" cy="828.8"/><circle cx="851.3" cy="834.9"/><circle cx="851.2" cy="833.5"/><circle cx="851.3" cy="833.4"/><circle cx="858.9" cy="839.6"/><circle cx="858.8" cy="838.8"/><circle cx="858.8" cy="840.4"/><circle cx="858.9" cy="841.6"/><circle cx="863.5" cy="839.6"/><circle cx="863.6" cy="837.6"/><circle cx="863.6" cy="827.1"/><circle cx="863.6" cy="834.2"/><circle cx="863.6" cy="828.3"/><circle cx="863.6" cy="832.0"/><circle cx="863.6" cy="836.3"/><circle cx="863.6" cy="829.6"/><circle cx="865.0" cy="827.9"/><circle cx="864.9" cy="826.7"/><circle cx="864.9" cy="830.8"/><circle cx="865.0" cy="834.0"/><circle cx="865.0" cy="831.1"/><circle cx="864.9" cy="829.0"/><circle cx="865.1" cy="835.4"/><circle cx="865.0" cy="834.4"/><circle cx="865.0" cy="831.6"/><circle cx="864.9" cy="832.1"/><circle cx="864.9" cy="837.5"/><circle cx="864.9" cy="836.8"/><circle cx="866.1" cy="830.6"/><circle cx="866.1" cy="831.1"/><circle cx="866.3" cy="828.9"/><circle cx="866.1" cy="832.6"/><circle cx="866.2" cy="837.3"/><circle cx="866.2" cy="835.4"/><circle cx="866.1" cy="832.0"/><circle cx="866.2" cy="838.3"/><circle cx="866.2" cy="834.2"/><circle cx="866.3" cy="831.7"/><circle cx="873.7" cy="841.7"/><circle cx="874.7" cy="829.4"/><circle cx="883.6" cy="837.1"/><circle cx="883.5" cy="827.9"/><circle cx="883.5" cy="829.6"/><circle cx="883.5" cy="828.2"/><circle cx="883.5" cy="836.4"/><circle cx="883.6" cy="832.2"/><circle cx="883.5" cy="835.1"/><circle cx="883.5" cy="830.8"/><circle cx="883.5" cy="828.4"/><circle cx="883.4" cy="838.7"/><circle cx="883.4" cy="833.7"/><circle cx="883.5" cy="837.1"/><circle cx="883.5" cy="834.1"/><circle cx="868.9" cy="532.0"/><circle cx="948.1" cy="754.5"/><circle cx="901.4" cy="777.5"/><circle cx="768.4" cy="911.5"/><circle cx="870.0" cy="858.1"/><circle cx="857.9" cy="849.4"/><circle cx="767.3" cy="852.7"/></g>
<g fill="#e3555f"><circle cx="794.0" cy="794.3"/><circle cx="795.2" cy="795.2"/><circle cx="796.4" cy="796.6"/><circle cx="812.4" cy="798.1"/><circle cx="791.5" cy="800.8"/><circle cx="796.4" cy="800.8"/><circle cx="791.5" cy="802.6"/><circle cx="794.0" cy="803.3"/><circle cx="794.0" cy="805.3"/><circle cx="796.4" cy="805.6"/><circle cx="796.4" cy="806.0"/><circle cx="805.0" cy="805.9"/><circle cx="794.0" cy="806.8"/><circle cx="794.0" cy="807.8"/><circle cx="791.5" cy="808.7"/><circle cx="796.4" cy="808.7"/><circle cx="791.5" cy="809.2"/><circle cx="794.0" cy="809.7"/><circle cx="794.0" cy="810.7"/><circle cx="794.0" cy="811.2"/><circle cx="805.0" cy="810.6"/><circle cx="807.5" cy="811.7"/><circle cx="794.0" cy="812.6"/><circle cx="824.9" cy="800.5"/><circle cx="840.0" cy="794.9"/><circle cx="860.8" cy="794.7"/><circle cx="867.4" cy="794.4"/><circle cx="873.6" cy="796.6"/><circle cx="873.6" cy="797.2"/><circle cx="873.6" cy="798.1"/><circle cx="851.0" cy="797.8"/><circle cx="840.0" cy="800.6"/><circle cx="851.0" cy="800.1"/><circle cx="855.4" cy="800.3"/><circle cx="873.6" cy="800.7"/><circle cx="851.0" cy="801.8"/><circle cx="860.8" cy="802.1"/><circle cx="840.0" cy="806.2"/><circle cx="851.0" cy="806.7"/><circle cx="860.8" cy="806.7"/><circle cx="840.0" cy="807.4"/><circle cx="858.4" cy="807.2"/><circle cx="852.2" cy="807.7"/><circle cx="873.6" cy="807.1"/><circle cx="860.8" cy="808.5"/><circle cx="868.7" cy="808.6"/><circle cx="840.0" cy="809.5"/><circle cx="871.8" cy="809.8"/><circle cx="873.6" cy="810.4"/><circle cx="851.5" cy="811.2"/><circle cx="860.8" cy="811.2"/><circle cx="840.0" cy="811.8"/><circle cx="852.2" cy="812.3"/><circle cx="873.6" cy="812.2"/><circle cx="793.4" cy="812.9"/><circle cx="791.4" cy="814.8"/><circle cx="812.4" cy="815.4"/><circle cx="796.1" cy="815.7"/><circle cx="796.5" cy="816.8"/><circle cx="821.1" cy="816.7"/><circle cx="812.4" cy="817.2"/><circle cx="821.1" cy="817.2"/><circle cx="794.1" cy="818.1"/><circle cx="796.7" cy="818.3"/><circle cx="839.6" cy="814.2"/><circle cx="851.0" cy="813.4"/><circle cx="852.6" cy="813.3"/><circle cx="851.0" cy="814.5"/><circle cx="851.9" cy="815.3"/><circle cx="851.9" cy="815.7"/><circle cx="851.9" cy="816.1"/><circle cx="840.0" cy="817.6"/><circle cx="843.3" cy="817.6"/><circle cx="843.3" cy="818.0"/><circle cx="851.9" cy="816.9"/><circle cx="851.3" cy="817.5"/><circle cx="857.9" cy="817.5"/><circle cx="860.6" cy="818.0"/><circle cx="840.6" cy="819.3"/><circle cx="852.6" cy="818.9"/><circle cx="851.9" cy="819.6"/><circle cx="851.9" cy="819.9"/><circle cx="851.3" cy="820.3"/><circle cx="857.9" cy="820.1"/><circle cx="852.6" cy="820.8"/><circle cx="855.3" cy="820.8"/><circle cx="855.3" cy="821.3"/><circle cx="861.2" cy="820.9"/><circle cx="861.2" cy="821.2"/><circle cx="840.0" cy="820.7"/><circle cx="812.7" cy="820.9"/><circle cx="793.8" cy="820.4"/><circle cx="793.8" cy="821.3"/><circle cx="793.8" cy="821.7"/><circle cx="793.8" cy="822.1"/><circle cx="824.4" cy="821.5"/><circle cx="825.3" cy="821.7"/><circle cx="840.6" cy="822.3"/><circle cx="824.7" cy="822.9"/><circle cx="824.7" cy="823.9"/><circle cx="824.7" cy="824.4"/><circle cx="812.7" cy="823.5"/><circle cx="812.7" cy="823.9"/><circle cx="796.7" cy="823.7"/><circle cx="790.1" cy="824.3"/><circle cx="792.8" cy="824.2"/><circle cx="808.0" cy="824.4"/><circle cx="812.7" cy="824.7"/><circle cx="812.0" cy="825.2"/><circle cx="815.4" cy="825.4"/><circle cx="818.0" cy="825.3"/><circle cx="814.0" cy="825.8"/><circle cx="804.7" cy="825.5"/><circle cx="840.6" cy="824.7"/><circle cx="843.3" cy="825.1"/><circle cx="852.6" cy="822.4"/><circle cx="854.6" cy="822.5"/><circle cx="852.6" cy="823.1"/><circle cx="851.9" cy="823.5"/><circle cx="851.9" cy="824.0"/><circle cx="854.6" cy="824.3"/><circle cx="851.9" cy="824.7"/><circle cx="851.9" cy="825.2"/><circle cx="857.9" cy="822.9"/><circle cx="857.9" cy="825.0"/><circle cx="857.9" cy="825.4"/><circle cx="860.6" cy="825.7"/><circle cx="826.0" cy="825.8"/><circle cx="822.0" cy="826.1"/><circle cx="790.1" cy="826.0"/><circle cx="796.7" cy="826.3"/><circle cx="806.1" cy="826.2"/><circle cx="840.6" cy="826.3"/><circle cx="865.2" cy="824.0"/><circle cx="868.6" cy="813.1"/><circle cx="873.3" cy="813.1"/><circle cx="870.0" cy="814.2"/><circle cx="872.6" cy="815.8"/><circle cx="868.6" cy="816.7"/><circle cx="872.0" cy="816.8"/><circle cx="868.6" cy="817.5"/><circle cx="868.0" cy="817.8"/><circle cx="867.3" cy="818.2"/><circle cx="868.0" cy="818.5"/><circle cx="868.6" cy="818.8"/><circle cx="873.3" cy="819.0"/><circle cx="866.6" cy="819.8"/><circle cx="883.5" cy="819.6"/><circle cx="873.3" cy="821.3"/><circle cx="878.0" cy="821.1"/><circle cx="878.2" cy="822.2"/><circle cx="866.6" cy="822.1"/><circle cx="872.0" cy="822.8"/><circle cx="868.0" cy="823.1"/><circle cx="868.6" cy="823.4"/><circle cx="867.3" cy="823.9"/><circle cx="868.6" cy="824.2"/><circle cx="878.0" cy="823.6"/><circle cx="878.0" cy="824.0"/><circle cx="878.0" cy="824.4"/><circle cx="878.0" cy="824.8"/><circle cx="883.5" cy="825.0"/><circle cx="873.3" cy="824.8"/><circle cx="872.6" cy="825.6"/><circle cx="868.0" cy="825.8"/><circle cx="867.3" cy="826.2"/><circle cx="878.0" cy="826.2"/><circle cx="787.8" cy="834.3"/><circle cx="787.8" cy="832.7"/><circle cx="787.8" cy="827.8"/><circle cx="787.8" cy="827.0"/><circle cx="788.0" cy="840.5"/><circle cx="787.9" cy="827.6"/><circle cx="787.8" cy="835.8"/><circle cx="787.9" cy="837.2"/><circle cx="787.8" cy="829.3"/><circle cx="787.9" cy="838.1"/><circle cx="787.9" cy="832.3"/><circle cx="788.0" cy="835.7"/><circle cx="787.9" cy="834.5"/><circle cx="787.9" cy="829.7"/><circle cx="787.9" cy="831.0"/><circle cx="791.7" cy="826.6"/><circle cx="791.8" cy="837.5"/><circle cx="791.8" cy="827.2"/><circle cx="791.7" cy="829.6"/><circle cx="791.7" cy="836.0"/><circle cx="791.7" cy="831.1"/><circle cx="791.8" cy="835.1"/><circle cx="791.7" cy="832.7"/><circle cx="791.7" cy="831.5"/><circle cx="791.7" cy="834.0"/><circle cx="791.8" cy="827.7"/><circle cx="791.8" cy="838.6"/><circle cx="791.7" cy="835.3"/><circle cx="796.7" cy="836.6"/><circle cx="796.8" cy="835.8"/><circle cx="796.7" cy="835.0"/><circle cx="796.7" cy="828.7"/><circle cx="796.7" cy="830.2"/><circle cx="796.7" cy="834.8"/><circle cx="796.8" cy="831.8"/><circle cx="796.7" cy="829.1"/><circle cx="796.8" cy="833.9"/><circle cx="796.8" cy="834.4"/><circle cx="796.7" cy="829.7"/><circle cx="796.8" cy="832.4"/><circle cx="796.8" cy="832.0"/><circle cx="799.0" cy="827.5"/><circle cx="799.1" cy="829.2"/><circle cx="798.9" cy="830.4"/><circle cx="799.0" cy="834.7"/><circle cx="799.1" cy="839.4"/><circle cx="798.9" cy="836.6"/><circle cx="799.0" cy="835.5"/><circle cx="798.9" cy="840.0"/><circle cx="798.9" cy="831.5"/><circle cx="798.9" cy="833.2"/><circle cx="799.0" cy="836.3"/><circle cx="798.9" cy="828.4"/><circle cx="804.0" cy="834.2"/><circle cx="803.9" cy="833.1"/><circle cx="803.9" cy="830.2"/><circle cx="803.9" cy="836.5"/><circle cx="803.9" cy="836.0"/><circle cx="804.0" cy="831.4"/><circle cx="803.9" cy="838.7"/><circle cx="803.9" cy="842.0"/><circle cx="803.8" cy="835.7"/><circle cx="803.8" cy="838.0"/><circle cx="803.9" cy="827.2"/><circle cx="804.0" cy="828.8"/><circle cx="803.9" cy="832.0"/><circle cx="805.4" cy="831.0"/><circle cx="805.4" cy="838.9"/><circle cx="805.5" cy="826.6"/><circle cx="805.4" cy="828.9"/><circle cx="805.5" cy="845.1"/><circle cx="805.6" cy="833.8"/><circle cx="805.5" cy="838.3"/><circle cx="805.4" cy="829.8"/><circle cx="805.5" cy="834.7"/><circle cx="805.4" cy="835.1"/><circle cx="805.5" cy="835.6"/><circle cx="805.5" cy="832.6"/><circle cx="805.5" cy="836.6"/><circle cx="806.6" cy="831.0"/><circle cx="806.6" cy="830.4"/><circle cx="806.6" cy="829.8"/><circle cx="806.6" cy="829.5"/><circle cx="806.7" cy="833.8"/><circle cx="806.7" cy="836.7"/><circle cx="806.8" cy="832.7"/><circle cx="806.6" cy="835.7"/><circle cx="806.8" cy="834.6"/><circle cx="807.7" cy="827.9"/><circle cx="807.7" cy="831.0"/><circle cx="807.7" cy="838.5"/><circle cx="807.7" cy="834.8"/><circle cx="807.7" cy="831.9"/><circle cx="807.8" cy="829.6"/><circle cx="807.8" cy="832.3"/><circle cx="807.7" cy="826.8"/><circle cx="807.8" cy="828.7"/><circle cx="807.7" cy="833.1"/><circle cx="807.7" cy="835.6"/><circle cx="807.7" cy="836.7"/><circle cx="807.8" cy="836.8"/><circle cx="807.8" cy="833.3"/><circle cx="813.8" cy="833.7"/><circle cx="813.8" cy="837.7"/><circle cx="813.8" cy="837.6"/><circle cx="813.8" cy="830.2"/><circle cx="813.9" cy="829.4"/><circle cx="813.8" cy="833.8"/><circle cx="813.8" cy="836.9"/><circle cx="813.9" cy="832.2"/><circle cx="813.8" cy="840.1"/><circle cx="813.9" cy="830.5"/><circle cx="813.8" cy="835.9"/><circle cx="813.7" cy="836.7"/><circle cx="813.8" cy="839.1"/><circle cx="813.8" cy="834.8"/><circle cx="813.8" cy="838.8"/><circle cx="813.8" cy="837.0"/><circle cx="813.8" cy="831.3"/><circle cx="815.2" cy="836.9"/><circle cx="815.3" cy="832.7"/><circle cx="815.2" cy="836.0"/><circle cx="815.3" cy="832.1"/><circle cx="815.3" cy="827.6"/><circle cx="815.3" cy="830.2"/><circle cx="815.2" cy="835.0"/><circle cx="815.2" cy="834.6"/><circle cx="815.3" cy="835.2"/><circle cx="816.5" cy="837.7"/><circle cx="816.4" cy="835.7"/><circle cx="816.4" cy="829.1"/><circle cx="816.4" cy="831.8"/><circle cx="816.3" cy="832.2"/><circle cx="816.4" cy="832.7"/><circle cx="816.4" cy="830.4"/><circle cx="816.4" cy="835.4"/><circle cx="816.4" cy="834.5"/><circle cx="816.4" cy="835.1"/><circle cx="816.4" cy="827.8"/><circle cx="816.5" cy="841.5"/><circle cx="816.4" cy="837.7"/><circle cx="816.5" cy="837.4"/><circle cx="816.5" cy="833.2"/><circle cx="822.5" cy="831.3"/><circle cx="822.7" cy="832.9"/><circle cx="822.7" cy="837.0"/><circle cx="822.6" cy="833.9"/><circle cx="822.6" cy="832.9"/><circle cx="822.6" cy="836.5"/><circle cx="822.6" cy="828.8"/><circle cx="822.6" cy="833.6"/><circle cx="822.7" cy="836.8"/><circle cx="822.7" cy="827.4"/><circle cx="822.6" cy="834.2"/><circle cx="822.5" cy="833.9"/><circle cx="822.7" cy="828.6"/><circle cx="825.0" cy="827.4"/><circle cx="824.9" cy="827.5"/><circle cx="825.0" cy="837.8"/><circle cx="825.0" cy="837.6"/><circle cx="825.0" cy="831.1"/><circle cx="825.0" cy="832.9"/><circle cx="824.9" cy="839.9"/><circle cx="824.9" cy="835.7"/><circle cx="825.0" cy="834.0"/><circle cx="825.1" cy="834.4"/><circle cx="826.5" cy="837.1"/><circle cx="826.3" cy="827.3"/><circle cx="826.5" cy="832.4"/><circle cx="826.5" cy="833.9"/><circle cx="826.4" cy="830.9"/><circle cx="826.4" cy="829.6"/><circle cx="826.4" cy="836.1"/><circle cx="826.4" cy="827.9"/><circle cx="826.5" cy="835.6"/><circle cx="827.7" cy="838.0"/><circle cx="827.8" cy="828.7"/><circle cx="827.7" cy="826.5"/><circle cx="827.7" cy="831.0"/><circle cx="827.9" cy="837.2"/><circle cx="827.7" cy="835.0"/><circle cx="827.9" cy="839.6"/><circle cx="827.8" cy="835.4"/><circle cx="827.7" cy="829.0"/><circle cx="827.7" cy="832.2"/><circle cx="827.8" cy="833.6"/><circle cx="827.8" cy="839.2"/><circle cx="827.8" cy="831.8"/><circle cx="827.7" cy="836.6"/><circle cx="828.8" cy="834.3"/><circle cx="828.9" cy="836.8"/><circle cx="829.0" cy="831.4"/><circle cx="828.9" cy="831.9"/><circle cx="829.0" cy="834.3"/><circle cx="828.8" cy="829.0"/><circle cx="828.9" cy="832.7"/><circle cx="829.0" cy="827.9"/><circle cx="829.0" cy="832.3"/><circle cx="829.0" cy="834.9"/><circle cx="828.8" cy="837.7"/><circle cx="830.2" cy="840.8"/><circle cx="830.2" cy="831.5"/><circle cx="830.1" cy="833.3"/><circle cx="830.1" cy="835.2"/><circle cx="830.1" cy="830.9"/><circle cx="830.2" cy="833.8"/><circle cx="830.2" cy="829.5"/><circle cx="830.1" cy="835.8"/><circle cx="830.3" cy="838.5"/><circle cx="830.2" cy="837.5"/><circle cx="830.2" cy="837.2"/><circle cx="839.8" cy="826.8"/><circle cx="839.9" cy="832.9"/><circle cx="839.9" cy="833.3"/><circle cx="839.8" cy="833.9"/><circle cx="840.0" cy="836.6"/><circle cx="839.9" cy="834.1"/><circle cx="839.9" cy="838.0"/><circle cx="839.9" cy="828.4"/><circle cx="839.8" cy="829.9"/><circle cx="839.8" cy="835.6"/><circle cx="840.0" cy="834.8"/><circle cx="839.8" cy="834.6"/><circle cx="839.9" cy="830.7"/><circle cx="841.1" cy="830.4"/><circle cx="841.2" cy="834.0"/><circle cx="841.2" cy="828.2"/><circle cx="841.2" cy="838.7"/><circle cx="841.1" cy="827.9"/><circle cx="841.1" cy="835.6"/><circle cx="841.1" cy="836.7"/><circle cx="841.1" cy="834.6"/><circle cx="841.1" cy="831.2"/><circle cx="841.1" cy="831.7"/><circle cx="841.1" cy="827.6"/><circle cx="841.1" cy="826.5"/><circle cx="842.3" cy="838.2"/><circle cx="842.5" cy="827.3"/><circle cx="842.4" cy="831.8"/><circle cx="842.4" cy="829.5"/><circle cx="842.5" cy="834.4"/><circle cx="842.3" cy="835.2"/><circle cx="842.4" cy="830.4"/><circle cx="842.5" cy="831.2"/><circle cx="842.4" cy="834.8"/><circle cx="842.3" cy="835.3"/><circle cx="842.4" cy="836.6"/><circle cx="843.8" cy="829.9"/><circle cx="843.7" cy="838.1"/><circle cx="843.8" cy="832.8"/><circle cx="843.9" cy="829.0"/><circle cx="843.9" cy="834.4"/><circle cx="843.8" cy="833.4"/><circle cx="843.8" cy="832.8"/><circle cx="843.8" cy="834.2"/><circle cx="843.7" cy="836.1"/><circle cx="843.9" cy="831.4"/><circle cx="843.7" cy="836.8"/><circle cx="843.8" cy="834.0"/><circle cx="843.8" cy="829.2"/><circle cx="843.9" cy="836.7"/><circle cx="843.7" cy="826.8"/><circle cx="843.8" cy="836.3"/><circle cx="843.8" cy="835.0"/><circle cx="852.2" cy="833.6"/><circle cx="852.4" cy="838.4"/><circle cx="852.3" cy="837.9"/><circle cx="852.3" cy="836.5"/><circle cx="852.3" cy="837.6"/><circle cx="852.3" cy="832.0"/><circle cx="852.4" cy="835.4"/><circle cx="852.3" cy="831.1"/><circle cx="852.3" cy="836.9"/><circle cx="852.4" cy="832.9"/><circle cx="852.4" cy="838.2"/><circle cx="852.4" cy="833.8"/><circle cx="852.3" cy="830.8"/><circle cx="852.3" cy="836.9"/><circle cx="852.3" cy="830.3"/><circle cx="853.5" cy="838.6"/><circle cx="853.6" cy="831.4"/><circle cx="853.5" cy="839.3"/><circle cx="853.6" cy="826.9"/><circle cx="853.5" cy="828.9"/><circle cx="853.5" cy="836.3"/><circle cx="853.6" cy="835.6"/><circle cx="853.5" cy="832.0"/><circle cx="853.5" cy="833.7"/><circle cx="853.5" cy="833.0"/><circle cx="853.6" cy="833.2"/><circle cx="854.7" cy="836.2"/><circle cx="854.8" cy="837.0"/><circle cx="854.8" cy="836.4"/><circle cx="854.8" cy="827.6"/><circle cx="854.9" cy="836.7"/><circle cx="854.7" cy="841.2"/><circle cx="854.9" cy="827.5"/><circle cx="854.8" cy="829.3"/><circle cx="854.9" cy="830.3"/><circle cx="854.9" cy="826.9"/><circle cx="854.8" cy="833.1"/><circle cx="854.9" cy="833.0"/><circle cx="854.9" cy="840.2"/><circle cx="854.8" cy="834.3"/><circle cx="854.8" cy="833.5"/><circle cx="854.9" cy="836.6"/><circle cx="856.0" cy="828.8"/><circle cx="856.1" cy="829.5"/><circle cx="856.2" cy="837.0"/><circle cx="856.1" cy="837.9"/><circle cx="856.0" cy="834.2"/><circle cx="856.0" cy="838.5"/><circle cx="856.1" cy="830.4"/><circle cx="856.0" cy="834.0"/><circle cx="856.0" cy="831.2"/><circle cx="856.2" cy="835.3"/><circle cx="856.1" cy="831.8"/><circle cx="856.1" cy="834.6"/><circle cx="856.1" cy="828.0"/><circle cx="856.1" cy="833.7"/><circle cx="857.4" cy="837.7"/><circle cx="857.3" cy="832.0"/><circle cx="857.3" cy="829.1"/><circle cx="857.4" cy="826.9"/><circle cx="857.4" cy="830.8"/><circle cx="857.3" cy="832.7"/><circle cx="857.4" cy="838.7"/><circle cx="857.3" cy="836.9"/><circle cx="857.3" cy="834.1"/><circle cx="857.3" cy="829.9"/><circle cx="859.7" cy="836.6"/><circle cx="859.9" cy="830.2"/><circle cx="859.7" cy="837.7"/><circle cx="859.8" cy="836.5"/><circle cx="859.8" cy="829.2"/><circle cx="859.7" cy="826.9"/><circle cx="859.8" cy="834.3"/><circle cx="859.8" cy="830.7"/><circle cx="859.8" cy="832.0"/><circle cx="859.8" cy="834.0"/><circle cx="859.7" cy="828.7"/><circle cx="859.8" cy="832.6"/><circle cx="859.7" cy="827.8"/><circle cx="859.9" cy="834.8"/><circle cx="859.8" cy="833.7"/><circle cx="859.8" cy="828.5"/><circle cx="867.3" cy="838.2"/><circle cx="867.2" cy="841.2"/><circle cx="867.2" cy="830.8"/><circle cx="867.2" cy="832.8"/><circle cx="867.3" cy="835.0"/><circle cx="867.2" cy="837.6"/><circle cx="867.3" cy="835.6"/><circle cx="867.2" cy="843.4"/><circle cx="867.3" cy="830.8"/><circle cx="867.2" cy="833.7"/><circle cx="867.2" cy="840.9"/><circle cx="868.4" cy="841.8"/><circle cx="868.3" cy="843.9"/><circle cx="868.5" cy="828.2"/><circle cx="868.4" cy="826.7"/><circle cx="868.3" cy="841.0"/><circle cx="868.4" cy="835.3"/><circle cx="868.3" cy="832.4"/><circle cx="868.4" cy="836.5"/><circle cx="868.4" cy="834.1"/><circle cx="868.3" cy="834.5"/><circle cx="868.4" cy="827.8"/><circle cx="868.4" cy="831.5"/><circle cx="869.8" cy="838.9"/><circle cx="869.8" cy="834.4"/><circle cx="870.0" cy="832.4"/><circle cx="869.8" cy="831.9"/><circle cx="869.9" cy="833.8"/><circle cx="870.0" cy="835.7"/><circle cx="869.9" cy="836.9"/><circle cx="869.8" cy="839.2"/><circle cx="869.8" cy="827.7"/><circle cx="869.9" cy="839.4"/><circle cx="869.9" cy="834.2"/><circle cx="870.0" cy="838.4"/><circle cx="870.0" cy="829.9"/><circle cx="869.8" cy="830.4"/><circle cx="871.3" cy="844.7"/><circle cx="871.3" cy="829.3"/><circle cx="871.3" cy="827.0"/><circle cx="871.3" cy="839.3"/><circle cx="871.2" cy="832.1"/><circle cx="871.3" cy="831.6"/><circle cx="871.2" cy="836.7"/><circle cx="871.2" cy="834.5"/><circle cx="871.2" cy="833.8"/><circle cx="871.2" cy="834.0"/><circle cx="871.3" cy="827.6"/><circle cx="871.2" cy="831.2"/><circle cx="871.3" cy="849.1"/><circle cx="872.1" cy="837.4"/><circle cx="872.1" cy="826.6"/><circle cx="872.1" cy="828.5"/><circle cx="872.2" cy="833.2"/><circle cx="872.1" cy="830.1"/><circle cx="872.3" cy="836.8"/><circle cx="872.1" cy="832.5"/><circle cx="872.1" cy="839.5"/><circle cx="872.1" cy="831.5"/><circle cx="872.2" cy="835.0"/><circle cx="872.1" cy="834.6"/><circle cx="875.8" cy="828.9"/><circle cx="875.9" cy="838.9"/><circle cx="875.9" cy="832.2"/><circle cx="875.9" cy="828.6"/><circle cx="875.8" cy="827.0"/><circle cx="875.9" cy="835.2"/><circle cx="875.9" cy="837.0"/><circle cx="875.9" cy="837.2"/><circle cx="876.0" cy="833.5"/><circle cx="875.9" cy="834.4"/><circle cx="875.8" cy="841.4"/><circle cx="875.9" cy="840.3"/><circle cx="877.3" cy="844.5"/><circle cx="877.2" cy="837.4"/><circle cx="877.2" cy="848.3"/><circle cx="877.1" cy="836.2"/><circle cx="877.1" cy="831.5"/><circle cx="877.3" cy="829.7"/><circle cx="877.2" cy="841.9"/><circle cx="877.1" cy="832.9"/><circle cx="877.2" cy="840.6"/><circle cx="877.2" cy="835.9"/><circle cx="877.2" cy="839.3"/><circle cx="877.2" cy="834.0"/><circle cx="877.1" cy="828.5"/><circle cx="878.5" cy="842.4"/><circle cx="878.5" cy="841.2"/><circle cx="878.5" cy="829.4"/><circle cx="878.4" cy="827.8"/><circle cx="878.5" cy="839.2"/><circle cx="878.4" cy="835.5"/><circle cx="878.4" cy="836.0"/><circle cx="878.5" cy="836.6"/><circle cx="878.5" cy="833.9"/><circle cx="878.4" cy="827.5"/><circle cx="878.5" cy="832.2"/><circle cx="878.4" cy="833.5"/><circle cx="878.6" cy="832.5"/><circle cx="878.5" cy="838.3"/><circle cx="879.8" cy="829.4"/><circle cx="879.7" cy="830.8"/><circle cx="879.7" cy="829.5"/><circle cx="879.8" cy="835.2"/><circle cx="879.7" cy="839.2"/><circle cx="879.7" cy="831.6"/><circle cx="879.8" cy="832.7"/><circle cx="879.8" cy="837.9"/><circle cx="879.7" cy="837.1"/><circle cx="879.7" cy="834.3"/><circle cx="879.7" cy="836.3"/><circle cx="880.8" cy="832.6"/><circle cx="880.9" cy="839.8"/><circle cx="880.8" cy="847.3"/><circle cx="880.8" cy="826.9"/><circle cx="880.9" cy="840.5"/><circle cx="880.8" cy="835.2"/><circle cx="880.9" cy="848.4"/><circle cx="880.8" cy="837.4"/><circle cx="880.9" cy="830.2"/><circle cx="880.8" cy="829.6"/><circle cx="880.9" cy="832.8"/><circle cx="880.9" cy="847.5"/><circle cx="882.2" cy="828.6"/><circle cx="882.3" cy="840.5"/><circle cx="882.3" cy="834.7"/><circle cx="882.4" cy="839.6"/><circle cx="882.3" cy="841.6"/><circle cx="882.4" cy="837.6"/><circle cx="882.3" cy="833.4"/><circle cx="882.3" cy="838.0"/><circle cx="882.4" cy="839.3"/><circle cx="882.4" cy="834.7"/><circle cx="882.4" cy="842.7"/><circle cx="882.2" cy="842.0"/><circle cx="882.2" cy="835.6"/><circle cx="882.3" cy="843.3"/><circle cx="882.2" cy="837.0"/><circle cx="882.3" cy="829.6"/><circle cx="882.3" cy="846.2"/><circle cx="882.4" cy="836.1"/><circle cx="878.4" cy="547.8"/><circle cx="858.6" cy="740.3"/><circle cx="868.1" cy="752.3"/><circle cx="805.0" cy="772.0"/><circle cx="840.0" cy="767.7"/><circle cx="858.6" cy="773.1"/><circle cx="860.8" cy="782.5"/><circle cx="861.0" cy="783.6"/><circle cx="795.1" cy="859.6"/></g>
<text x="629.1" y="992.9" font-size="16" letter-spacing="0.3" text-anchor="middle">7050</text>
<text x="691.2" y="992.9" font-size="16" letter-spacing="0.3" text-anchor="middle">7100</text>
<text x="753.2" y="992.9" font-size="16" letter-spacing="0.3" text-anchor="middle">7150</text>
<text x="815.3" y="992.9" font-size="16" letter-spacing="0.3" text-anchor="middle">7200</text>
<text x="877.4" y="992.9" font-size="16" letter-spacing="0.3" text-anchor="middle">7250</text>
<text x="939.4" y="992.9" font-size="16" letter-spacing="0.3" text-anchor="middle">7300</text>
<text x="1001.5" y="992.9" font-size="16" letter-spacing="0.3" text-anchor="middle">7350</text>
<text x="616.7" y="958.5" font-size="16" letter-spacing="0.3" text-anchor="end">-20000</text>
<text x="616.7" y="900.6" font-size="16" letter-spacing="0.3" text-anchor="end">-10000</text>
<text x="616.7" y="842.7" font-size="16" letter-spacing="0.3" text-anchor="end">0</text>
<text x="616.7" y="784.8" font-size="16" letter-spacing="0.3" text-anchor="end">10000</text>
<text x="616.7" y="726.8" font-size="16" letter-spacing="0.3" text-anchor="end">20000</text>
<text x="616.7" y="668.9" font-size="16" letter-spacing="0.3" text-anchor="end">30000</text>
<text x="616.7" y="611" font-size="16" letter-spacing="0.3" text-anchor="end">40000</text>
<text x="616.7" y="553.1" font-size="16" letter-spacing="0.3" text-anchor="end">50000</text>
<text x="309.1" y="30.3" font-size="16.5" text-anchor="middle">BLG01N0116.3185</text>
<text x="812.9" y="30.3" font-size="16.5" text-anchor="middle" xml:space="preserve">25121  20.66  0.36  497</text>
<text transform="translate(39,264.3) rotate(-90)" font-size="16.5" text-anchor="middle">d flux</text>
<text transform="translate(39,751.5) rotate(-90)" font-size="16.5" text-anchor="middle">d flux</text>
<text x="309" y="1017.3" font-size="16.4" text-anchor="middle">time (HJD-2450000)</text>
<text x="812.9" y="1017.3" font-size="16.4" text-anchor="middle">time (HJD-2450000)</text>
</svg></body></html>
